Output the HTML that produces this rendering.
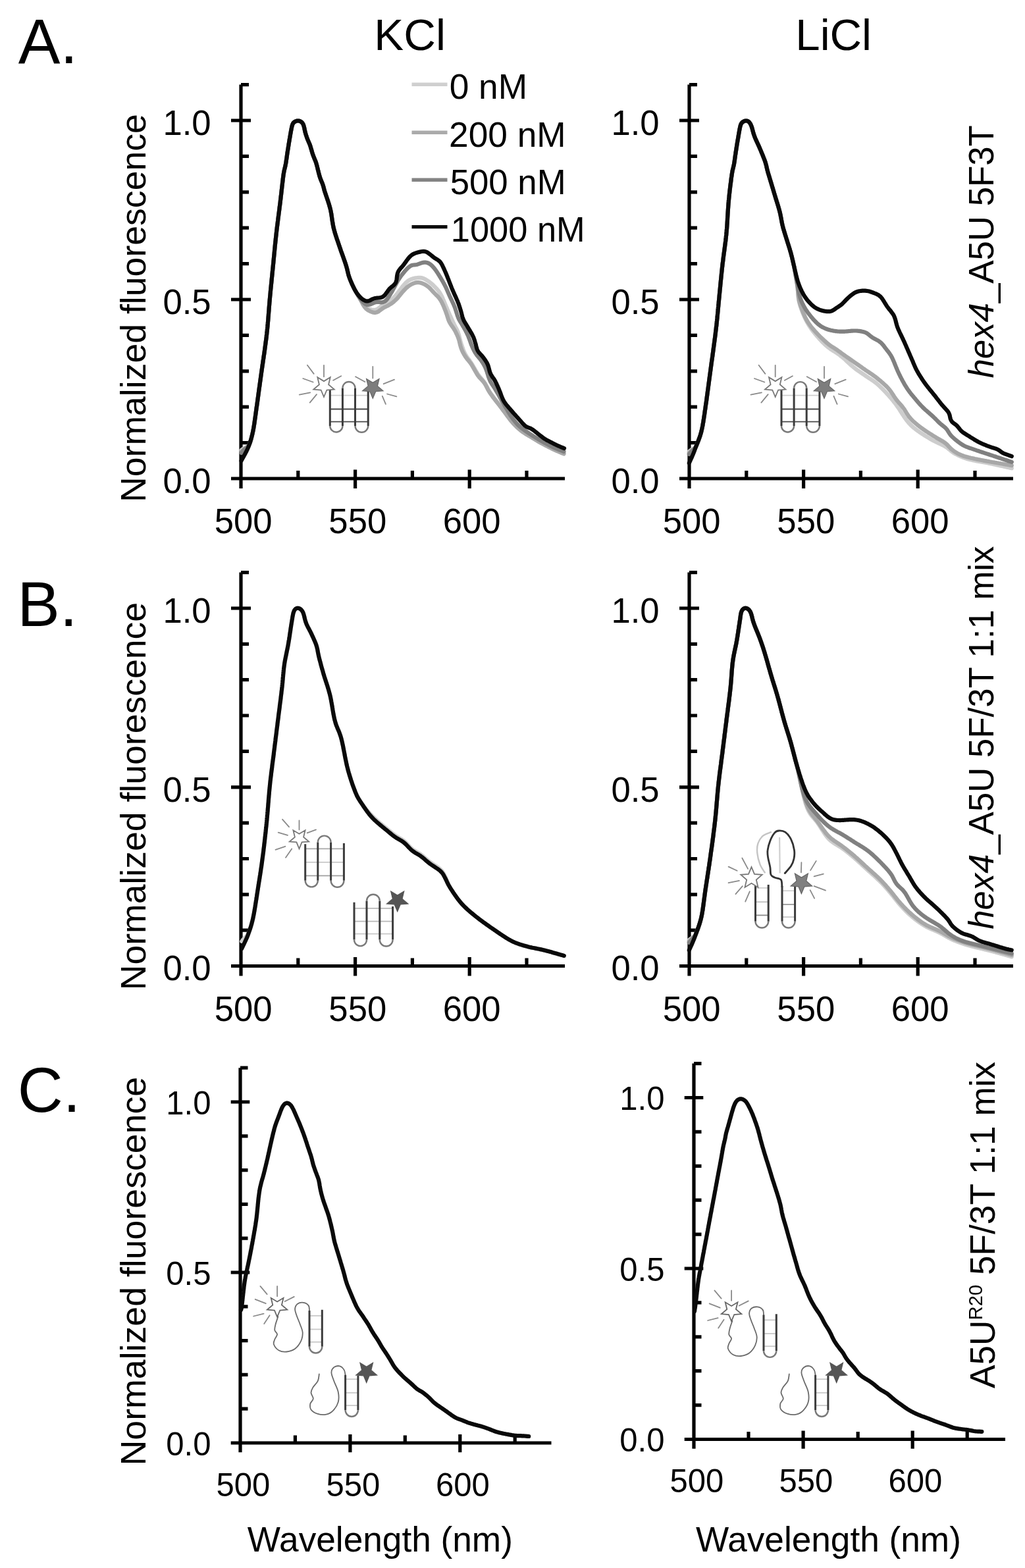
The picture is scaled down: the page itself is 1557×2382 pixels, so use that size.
<!DOCTYPE html>
<html><head><meta charset="utf-8"><title>Fluorescence spectra</title>
<style>html,body{margin:0;padding:0;background:#fff;}svg{display:block;}</style></head>
<body><svg xmlns="http://www.w3.org/2000/svg" width="1557" height="2382" viewBox="0 0 1557 2382" font-family="'Liberation Sans', Arial, Helvetica, sans-serif">
<rect width="100%" height="100%" fill="#fff"/>
<path d="M351.0 727.0 H858.0 M366.0 742.0 V128.6 M351.0 727.0 H381.0 M366.0 672.6 H378.0 M366.0 618.2 H378.0 M366.0 563.8 H378.0 M366.0 509.4 H378.0 M351.0 455.0 H381.0 M366.0 400.6 H378.0 M366.0 346.2 H378.0 M366.0 291.8 H378.0 M366.0 237.4 H378.0 M351.0 183.0 H381.0 M366.0 128.6 H378.0 M366.0 713.5 V742.0 M452.8 715.0 V727.0 M539.6 713.5 V742.0 M626.4 715.0 V727.0 M713.2 713.5 V742.0 M800.0 715.0 V727.0" stroke="#000" stroke-width="5.2" fill="none" stroke-linecap="butt"/>
<path d="M1032.0 727.0 H1539.0 M1047.0 742.0 V128.6 M1032.0 727.0 H1062.0 M1047.0 672.6 H1059.0 M1047.0 618.2 H1059.0 M1047.0 563.8 H1059.0 M1047.0 509.4 H1059.0 M1032.0 455.0 H1062.0 M1047.0 400.6 H1059.0 M1047.0 346.2 H1059.0 M1047.0 291.8 H1059.0 M1047.0 237.4 H1059.0 M1032.0 183.0 H1062.0 M1047.0 128.6 H1059.0 M1047.0 713.5 V742.0 M1133.8 715.0 V727.0 M1220.6 713.5 V742.0 M1307.4 715.0 V727.0 M1394.2 713.5 V742.0 M1481.0 715.0 V727.0" stroke="#000" stroke-width="5.2" fill="none" stroke-linecap="butt"/>
<path d="M351.0 1467.5 H858.0 M366.0 1482.5 V869.6 M351.0 1467.5 H381.0 M366.0 1413.2 H378.0 M366.0 1358.8 H378.0 M366.0 1304.5 H378.0 M366.0 1250.1 H378.0 M351.0 1195.8 H381.0 M366.0 1141.4 H378.0 M366.0 1087.0 H378.0 M366.0 1032.7 H378.0 M366.0 978.3 H378.0 M351.0 924.0 H381.0 M366.0 869.6 H378.0 M366.0 1454.0 V1482.5 M452.8 1455.5 V1467.5 M539.6 1454.0 V1482.5 M626.4 1455.5 V1467.5 M713.2 1454.0 V1482.5 M800.0 1455.5 V1467.5" stroke="#000" stroke-width="5.2" fill="none" stroke-linecap="butt"/>
<path d="M1032.0 1467.5 H1539.0 M1047.0 1482.5 V869.6 M1032.0 1467.5 H1062.0 M1047.0 1413.2 H1059.0 M1047.0 1358.8 H1059.0 M1047.0 1304.5 H1059.0 M1047.0 1250.1 H1059.0 M1032.0 1195.8 H1062.0 M1047.0 1141.4 H1059.0 M1047.0 1087.0 H1059.0 M1047.0 1032.7 H1059.0 M1047.0 978.3 H1059.0 M1032.0 924.0 H1062.0 M1047.0 869.6 H1059.0 M1047.0 1454.0 V1482.5 M1133.8 1455.5 V1467.5 M1220.6 1454.0 V1482.5 M1307.4 1455.5 V1467.5 M1394.2 1454.0 V1482.5 M1481.0 1455.5 V1467.5" stroke="#000" stroke-width="5.2" fill="none" stroke-linecap="butt"/>
<path d="M350.7 2192.0 H837.5 M365.0 2206.3 V1622.2 M350.7 2192.0 H379.3 M365.0 2140.2 H376.5 M365.0 2088.4 H376.5 M365.0 2036.6 H376.5 M365.0 1984.8 H376.5 M350.7 1933.0 H379.3 M365.0 1881.2 H376.5 M365.0 1829.4 H376.5 M365.0 1777.6 H376.5 M365.0 1725.8 H376.5 M350.7 1674.0 H379.3 M365.0 1622.2 H376.5 M365.0 2179.1 V2206.3 M448.4 2180.5 V2192.0 M531.9 2179.1 V2206.3 M615.3 2180.5 V2192.0 M698.8 2179.1 V2206.3 M782.2 2180.5 V2192.0" stroke="#000" stroke-width="5.2" fill="none" stroke-linecap="butt"/>
<path d="M1039.7 2186.5 H1527.0 M1054.0 2200.8 V1615.6 M1039.7 2186.5 H1068.3 M1054.0 2134.6 H1065.5 M1054.0 2082.7 H1065.5 M1054.0 2030.8 H1065.5 M1054.0 1978.9 H1065.5 M1039.7 1927.0 H1068.3 M1054.0 1875.1 H1065.5 M1054.0 1823.2 H1065.5 M1054.0 1771.3 H1065.5 M1054.0 1719.4 H1065.5 M1039.7 1667.5 H1068.3 M1054.0 1615.6 H1065.5 M1054.0 2173.6 V2200.8 M1137.0 2175.0 V2186.5 M1220.1 2173.6 V2200.8 M1303.2 2175.0 V2186.5 M1386.2 2173.6 V2200.8 M1469.2 2175.0 V2186.5" stroke="#000" stroke-width="5.2" fill="none" stroke-linecap="butt"/>
<text x="247.42" y="748.88" font-size="54.00" textLength="73.19" lengthAdjust="spacingAndGlyphs">0.0</text>
<text x="247.42" y="476.88" font-size="54.00" textLength="73.19" lengthAdjust="spacingAndGlyphs">0.5</text>
<text x="247.42" y="204.88" font-size="54.00" textLength="73.19" lengthAdjust="spacingAndGlyphs">1.0</text>
<text x="325.77" y="810.30" font-size="54.00" textLength="87.85" lengthAdjust="spacingAndGlyphs">500</text>
<text x="499.37" y="810.30" font-size="54.00" textLength="87.85" lengthAdjust="spacingAndGlyphs">550</text>
<text x="672.71" y="810.30" font-size="54.00" textLength="87.85" lengthAdjust="spacingAndGlyphs">600</text>
<text x="928.42" y="748.88" font-size="54.00" textLength="73.19" lengthAdjust="spacingAndGlyphs">0.0</text>
<text x="928.42" y="476.88" font-size="54.00" textLength="73.19" lengthAdjust="spacingAndGlyphs">0.5</text>
<text x="928.42" y="204.88" font-size="54.00" textLength="73.19" lengthAdjust="spacingAndGlyphs">1.0</text>
<text x="1006.77" y="810.30" font-size="54.00" textLength="87.85" lengthAdjust="spacingAndGlyphs">500</text>
<text x="1180.37" y="810.30" font-size="54.00" textLength="87.85" lengthAdjust="spacingAndGlyphs">550</text>
<text x="1353.71" y="810.30" font-size="54.00" textLength="87.85" lengthAdjust="spacingAndGlyphs">600</text>
<text x="247.42" y="1489.38" font-size="54.00" textLength="73.19" lengthAdjust="spacingAndGlyphs">0.0</text>
<text x="247.42" y="1217.63" font-size="54.00" textLength="73.19" lengthAdjust="spacingAndGlyphs">0.5</text>
<text x="247.42" y="945.88" font-size="54.00" textLength="73.19" lengthAdjust="spacingAndGlyphs">1.0</text>
<text x="325.77" y="1550.80" font-size="54.00" textLength="87.85" lengthAdjust="spacingAndGlyphs">500</text>
<text x="499.37" y="1550.80" font-size="54.00" textLength="87.85" lengthAdjust="spacingAndGlyphs">550</text>
<text x="672.71" y="1550.80" font-size="54.00" textLength="87.85" lengthAdjust="spacingAndGlyphs">600</text>
<text x="928.42" y="1489.38" font-size="54.00" textLength="73.19" lengthAdjust="spacingAndGlyphs">0.0</text>
<text x="928.42" y="1217.63" font-size="54.00" textLength="73.19" lengthAdjust="spacingAndGlyphs">0.5</text>
<text x="928.42" y="945.88" font-size="54.00" textLength="73.19" lengthAdjust="spacingAndGlyphs">1.0</text>
<text x="1006.77" y="1550.80" font-size="54.00" textLength="87.85" lengthAdjust="spacingAndGlyphs">500</text>
<text x="1180.37" y="1550.80" font-size="54.00" textLength="87.85" lengthAdjust="spacingAndGlyphs">550</text>
<text x="1353.71" y="1550.80" font-size="54.00" textLength="87.85" lengthAdjust="spacingAndGlyphs">600</text>
<text x="252.34" y="2210.53" font-size="49.50" textLength="68.12" lengthAdjust="spacingAndGlyphs">0.0</text>
<text x="252.34" y="1951.53" font-size="49.50" textLength="68.12" lengthAdjust="spacingAndGlyphs">0.5</text>
<text x="252.34" y="1692.53" font-size="49.50" textLength="68.12" lengthAdjust="spacingAndGlyphs">1.0</text>
<text x="328.50" y="2272.50" font-size="49.50" textLength="81.77" lengthAdjust="spacingAndGlyphs">500</text>
<text x="495.38" y="2272.50" font-size="49.50" textLength="81.77" lengthAdjust="spacingAndGlyphs">550</text>
<text x="662.01" y="2272.50" font-size="49.50" textLength="81.77" lengthAdjust="spacingAndGlyphs">600</text>
<text x="941.34" y="2205.03" font-size="49.50" textLength="68.12" lengthAdjust="spacingAndGlyphs">0.0</text>
<text x="941.34" y="1945.53" font-size="49.50" textLength="68.12" lengthAdjust="spacingAndGlyphs">0.5</text>
<text x="941.34" y="1686.03" font-size="49.50" textLength="68.12" lengthAdjust="spacingAndGlyphs">1.0</text>
<text x="1017.50" y="2267.00" font-size="49.50" textLength="81.77" lengthAdjust="spacingAndGlyphs">500</text>
<text x="1183.60" y="2267.00" font-size="49.50" textLength="81.77" lengthAdjust="spacingAndGlyphs">550</text>
<text x="1349.46" y="2267.00" font-size="49.50" textLength="81.77" lengthAdjust="spacingAndGlyphs">600</text>
<path d="M366.5 684.0 L367.7 683.1 L368.9 682.2 L370.2 681.4 L371.4 680.7 L372.8 680.0 L374.1 679.5 L375.4 678.9 L376.6 678.1 L377.5 677.1 L378.3 675.9 L379.0 674.6 L379.6 673.3 L380.1 671.8 L380.5 670.4 L381.0 669.0 L381.4 667.5 L381.8 666.1 L382.1 664.6 L382.5 663.2 L382.9 661.7 L383.2 660.2 L383.5 658.8 L383.8 657.3 L384.2 655.8 L384.4 654.4 L384.7 652.9 L385.0 651.4 L385.3 649.9 L385.5 648.5 L385.8 647.0 L386.0 645.5 L386.2 644.0 L386.5 642.5 L386.7 641.0 L386.9 639.5 L387.1 638.1 L387.3 636.6 L387.5 635.1 L387.7 633.6 L387.9 632.1 L388.1 630.6 L388.3 629.1 L388.5 627.6 L388.8 626.2 L389.0 624.7 L389.2 623.2 L389.4 621.7 L389.6 620.2 L389.8 618.7 L390.0 617.2 L390.2 615.7 L390.4 614.3 L390.6 612.8 L390.8 611.3 L391.1 609.8 L391.3 608.3 L391.5 606.8 L391.7 605.3 L391.9 603.8 L392.1 602.4 L392.3 600.9 L392.5 599.4 L392.7 597.9 L392.9 596.4 L393.1 594.9 L393.3 593.4 L393.5 591.9 L393.7 590.4 L393.9 589.0 L394.1 587.5 L394.3 586.0 L394.5 584.5 L394.7 583.0 L394.9 581.5 L395.1 580.0 L395.3 578.5 L395.5 577.1 L395.7 575.6 L396.0 574.1 L396.2 572.6 L396.4 571.1 L396.6 569.6 L396.8 568.1 L397.0 566.6 L397.2 565.1 L397.4 563.7 L397.6 562.2 L397.8 560.7 L398.1 559.2 L398.3 557.7 L398.5 556.2 L398.7 554.7 L398.9 553.3 L399.1 551.8 L399.4 550.3 L399.6 548.8 L399.8 547.3 L400.0 545.8 L400.2 544.3 L400.5 542.9 L400.7 541.4 L400.9 539.9 L401.1 538.4 L401.3 536.9 L401.5 535.4 L401.8 533.9 L402.0 532.4 L402.2 531.0 L402.4 529.5 L402.6 528.0 L402.8 526.5 L403.0 525.0 L403.2 523.5 L403.4 522.0 L403.6 520.5 L403.8 519.0 L404.0 517.6 L404.2 516.1 L404.4 514.6 L404.5 513.1 L404.7 511.6 L404.9 510.1 L405.1 508.6 L405.2 507.1 L405.4 505.6 L405.6 504.1 L405.7 502.6 L405.9 501.1 L406.0 499.6 L406.2 498.2 L406.3 496.7 L406.5 495.2 L406.6 493.7 L406.7 492.2 L406.9 490.7 L407.0 489.2 L407.1 487.7 L407.3 486.2 L407.4 484.7 L407.5 483.2 L407.6 481.7 L407.7 480.2 L407.9 478.7 L408.0 477.2 L408.1 475.7 L408.2 474.2 L408.3 472.7 L408.4 471.2 L408.6 469.7 L408.7 468.2 L408.8 466.7 L408.9 465.2 L409.0 463.7 L409.2 462.2 L409.3 460.7 L409.4 459.2 L409.5 457.7 L409.7 456.2 L409.8 454.7 L409.9 453.2 L410.1 451.7 L410.2 450.3 L410.3 448.8 L410.5 447.3 L410.6 445.8 L410.8 444.3 L410.9 442.8 L411.1 441.3 L411.2 439.8 L411.3 438.3 L411.5 436.8 L411.6 435.3 L411.8 433.8 L411.9 432.3 L412.1 430.8 L412.2 429.3 L412.4 427.8 L412.5 426.3 L412.7 424.8 L412.8 423.3 L413.0 421.8 L413.1 420.4 L413.3 418.9 L413.4 417.4 L413.6 415.9 L413.7 414.4 L413.9 412.9 L414.0 411.4 L414.2 409.9 L414.3 408.4 L414.5 406.9 L414.6 405.4 L414.8 403.9 L414.9 402.4 L415.1 400.9 L415.2 399.4 L415.4 397.9 L415.5 396.4 L415.7 394.9 L415.8 393.4 L415.9 391.9 L416.1 390.5 L416.2 389.0 L416.4 387.5 L416.5 386.0 L416.7 384.5 L416.8 383.0 L417.0 381.5 L417.1 380.0 L417.3 378.5 L417.4 377.0 L417.5 375.5 L417.7 374.0 L417.8 372.5 L418.0 371.0 L418.2 369.5 L418.3 368.0 L418.5 366.5 L418.6 365.0 L418.8 363.5 L418.9 362.1 L419.1 360.6 L419.3 359.1 L419.4 357.6 L419.6 356.1 L419.8 354.6 L419.9 353.1 L420.1 351.6 L420.3 350.1 L420.4 348.6 L420.6 347.1 L420.8 345.6 L421.0 344.1 L421.2 342.7 L421.4 341.2 L421.5 339.7 L421.7 338.2 L421.9 336.7 L422.1 335.2 L422.3 333.7 L422.5 332.2 L422.7 330.7 L422.9 329.2 L423.1 327.8 L423.3 326.3 L423.4 324.8 L423.6 323.3 L423.8 321.8 L424.0 320.3 L424.2 318.8 L424.4 317.3 L424.6 315.8 L424.8 314.3 L425.0 312.9 L425.2 311.4 L425.3 309.9 L425.5 308.4 L425.7 306.9 L425.9 305.4 L426.1 303.9 L426.3 302.4 L426.4 300.9 L426.6 299.4 L426.8 297.9 L426.9 296.4 L427.1 295.0 L427.3 293.5 L427.5 292.0 L427.6 290.5 L427.8 289.0 L428.0 287.5 L428.1 286.0 L428.3 284.5 L428.5 283.0 L428.6 281.5 L428.8 280.0 L429.0 278.5 L429.2 277.0 L429.3 275.6 L429.5 274.1 L429.7 272.6 L429.9 271.1 L430.1 269.6 L430.3 268.1 L430.5 266.6 L430.7 265.1 L430.9 263.6 L431.1 262.2 L431.4 260.7 L431.7 259.2 L432.0 257.7 L432.4 256.3 L432.8 254.8 L433.1 253.4 L433.5 251.9 L433.8 250.4 L434.0 249.0 L434.3 247.5 L434.5 246.0 L434.8 244.5 L435.0 243.0 L435.2 241.5 L435.4 240.1 L435.6 238.6 L435.8 237.1 L436.0 235.6 L436.2 234.1 L436.5 232.6 L436.7 231.1 L436.9 229.6 L437.2 228.2 L437.4 226.7 L437.6 225.2 L437.9 223.7 L438.1 222.2 L438.3 220.7 L438.6 219.3 L438.8 217.8 L439.1 216.3 L439.3 214.8 L439.5 213.3 L439.8 211.9 L440.0 210.4 L440.3 208.9 L440.5 207.4 L440.8 205.9 L441.1 204.4 L441.3 203.0 L441.6 201.5 L441.8 200.0 L442.1 198.5 L442.4 197.1 L442.7 195.6 L443.0 194.1 L443.3 192.6 L443.6 191.2 L444.1 189.8 L444.6 188.4 L445.4 187.2 L446.3 186.1 L447.4 185.2 L448.7 184.4 L450.0 183.9 L451.4 183.6 L452.9 183.5 L454.3 183.7 L455.7 184.1 L457.0 184.7 L458.1 185.5 L459.1 186.6 L460.0 187.7 L460.6 189.0 L461.2 190.4 L461.6 191.9 L462.0 193.3 L462.3 194.8 L462.6 196.2 L462.9 197.7 L463.2 199.2 L463.6 200.6 L464.0 202.1 L464.4 203.5 L464.9 205.0 L465.3 206.4 L465.8 207.8 L466.3 209.2 L466.8 210.6 L467.3 212.0 L467.9 213.4 L468.5 214.8 L469.1 216.2 L469.7 217.5 L470.3 218.9 L470.8 220.3 L471.3 221.7 L471.8 223.2 L472.2 224.6 L472.6 226.1 L473.0 227.5 L473.4 228.9 L473.9 230.4 L474.3 231.8 L474.7 233.3 L475.2 234.7 L475.7 236.1 L476.2 237.5 L476.8 238.9 L477.4 240.3 L478.0 241.7 L478.5 243.1 L479.1 244.5 L479.6 245.9 L480.1 247.3 L480.6 248.7 L481.0 250.1 L481.4 251.6 L481.7 253.1 L482.1 254.5 L482.5 256.0 L482.8 257.4 L483.2 258.9 L483.5 260.3 L483.9 261.8 L484.3 263.3 L484.7 264.7 L485.1 266.2 L485.5 267.6 L485.9 269.0 L486.4 270.5 L486.9 271.9 L487.4 273.3 L488.0 274.7 L488.6 276.0 L489.2 277.4 L489.7 278.8 L490.3 280.2 L490.8 281.6 L491.2 283.1 L491.6 284.5 L491.9 286.0 L492.3 287.4 L492.7 288.9 L493.1 290.3 L493.6 291.8 L494.0 293.2 L494.5 294.6 L495.0 296.0 L495.5 297.5 L496.0 298.9 L496.5 300.3 L496.9 301.7 L497.4 303.1 L497.9 304.6 L498.4 306.0 L498.8 307.4 L499.3 308.8 L499.7 310.3 L500.2 311.7 L500.6 313.2 L501.0 314.6 L501.4 316.1 L501.8 317.5 L502.1 319.0 L502.4 320.4 L502.7 321.9 L503.0 323.4 L503.2 324.9 L503.5 326.4 L503.7 327.8 L503.9 329.3 L504.1 330.8 L504.3 332.3 L504.6 333.8 L504.8 335.3 L505.0 336.8 L505.2 338.2 L505.5 339.7 L505.7 341.2 L506.0 342.7 L506.3 344.1 L506.6 345.6 L507.0 347.1 L507.3 348.5 L507.7 350.0 L508.1 351.4 L508.5 352.9 L509.0 354.3 L509.4 355.8 L509.9 357.2 L510.3 358.6 L510.8 360.0 L511.3 361.5 L511.7 362.9 L512.2 364.3 L512.7 365.7 L513.2 367.2 L513.7 368.6 L514.2 370.0 L514.7 371.4 L515.1 372.8 L515.6 374.3 L516.1 375.7 L516.6 377.1 L517.1 378.5 L517.6 379.9 L518.1 381.4 L518.6 382.8 L519.1 384.2 L519.6 385.6 L520.1 387.0 L520.6 388.4 L521.1 389.9 L521.6 391.3 L522.1 392.7 L522.6 394.1 L523.1 395.5 L523.6 396.9 L524.1 398.4 L524.6 399.8 L525.0 401.2 L525.5 402.6 L525.9 404.1 L526.4 405.5 L526.8 407.0 L527.1 408.4 L527.5 409.9 L527.8 411.3 L528.2 412.8 L528.5 414.3 L528.9 415.7 L529.3 417.2 L529.7 418.6 L530.1 420.0 L530.6 421.5 L531.1 422.9 L531.7 424.3 L532.3 425.7 L532.8 427.0 L533.5 428.4 L534.1 429.8 L534.7 431.2 L535.3 432.5 L536.0 433.9 L536.6 435.2 L537.3 436.6 L538.0 437.9 L538.6 439.3 L539.3 440.6 L540.0 441.9 L540.7 443.3 L541.4 444.6 L542.2 445.9 L542.9 447.2 L543.7 448.5 L544.5 449.7 L545.3 451.0 L546.2 452.2 L547.0 453.5 L547.8 454.8 L548.6 456.0 L549.3 457.3 L550.0 458.7 L550.8 460.0 L551.5 461.3 L552.3 462.5 L553.2 463.8 L554.1 464.9 L555.1 466.0 L556.3 466.9 L557.5 467.8 L558.8 468.5 L560.2 469.1 L561.5 469.7 L563.0 470.1 L564.4 470.5 L565.9 470.7 L567.4 470.9 L568.8 470.9 L570.3 470.7 L571.7 470.3 L573.0 469.7 L574.3 468.9 L575.5 468.0 L576.6 467.1 L577.8 466.1 L578.9 465.1 L580.1 464.2 L581.3 463.3 L582.5 462.5 L583.8 461.8 L585.2 461.1 L586.5 460.5 L587.9 459.9 L589.2 459.2 L590.5 458.5 L591.8 457.7 L593.0 456.8 L594.2 455.8 L595.3 454.8 L596.4 453.8 L597.4 452.7 L598.5 451.7 L599.5 450.6 L600.5 449.4 L601.5 448.3 L602.4 447.2 L603.4 446.0 L604.3 444.8 L605.2 443.6 L606.1 442.4 L607.0 441.2 L607.9 440.0 L608.8 438.8 L609.7 437.6 L610.6 436.4 L611.5 435.2 L612.5 434.1 L613.5 432.9 L614.5 431.8 L615.5 430.7 L616.5 429.6 L617.6 428.6 L618.8 427.6 L619.9 426.7 L621.2 425.9 L622.5 425.1 L623.8 424.5 L625.2 423.9 L626.6 423.5 L628.1 423.1 L629.5 422.7 L631.0 422.4 L632.5 422.2 L634.0 422.0 L635.5 421.9 L636.9 421.8 L638.4 421.9 L639.9 422.1 L641.4 422.4 L642.8 422.8 L644.1 423.4 L645.5 424.1 L646.8 424.8 L648.1 425.6 L649.3 426.4 L650.6 427.2 L651.8 428.1 L653.0 429.0 L654.2 429.9 L655.4 430.9 L656.5 431.9 L657.6 432.9 L658.7 433.9 L659.7 435.0 L660.8 436.0 L661.8 437.1 L662.9 438.2 L663.9 439.3 L664.8 440.5 L665.8 441.6 L666.7 442.8 L667.6 444.1 L668.4 445.3 L669.2 446.6 L669.9 447.9 L670.6 449.2 L671.3 450.6 L671.9 451.9 L672.5 453.3 L673.1 454.7 L673.7 456.0 L674.3 457.4 L674.9 458.8 L675.4 460.2 L676.0 461.6 L676.6 463.0 L677.2 464.4 L677.8 465.8 L678.4 467.1 L679.0 468.5 L679.5 469.9 L680.1 471.3 L680.7 472.7 L681.3 474.0 L681.9 475.4 L682.5 476.8 L683.1 478.2 L683.7 479.5 L684.4 480.9 L685.0 482.3 L685.6 483.6 L686.2 485.0 L686.8 486.4 L687.5 487.7 L688.1 489.1 L688.7 490.5 L689.4 491.8 L690.0 493.2 L690.7 494.5 L691.4 495.8 L692.1 497.2 L692.8 498.5 L693.5 499.8 L694.2 501.2 L694.8 502.5 L695.4 503.9 L695.9 505.3 L696.3 506.8 L696.8 508.2 L697.2 509.6 L697.5 511.1 L697.9 512.6 L698.3 514.0 L698.7 515.5 L699.1 516.9 L699.4 518.4 L699.9 519.8 L700.3 521.2 L700.7 522.7 L701.2 524.1 L701.7 525.5 L702.2 527.0 L702.7 528.4 L703.2 529.8 L703.7 531.2 L704.2 532.6 L704.8 534.0 L705.4 535.4 L706.0 536.7 L706.7 538.0 L707.5 539.4 L708.2 540.6 L709.1 541.9 L709.9 543.1 L710.8 544.3 L711.7 545.5 L712.6 546.7 L713.5 547.9 L714.4 549.2 L715.2 550.4 L716.0 551.7 L716.8 553.0 L717.6 554.2 L718.4 555.5 L719.1 556.8 L719.9 558.1 L720.6 559.4 L721.4 560.7 L722.1 562.0 L722.9 563.3 L723.6 564.6 L724.4 565.9 L725.2 567.2 L726.0 568.5 L726.9 569.7 L727.8 570.9 L728.7 572.0 L729.7 573.2 L730.6 574.3 L731.6 575.5 L732.6 576.6 L733.5 577.8 L734.5 579.0 L735.3 580.2 L736.2 581.4 L737.0 582.7 L737.7 584.0 L738.4 585.3 L739.1 586.7 L739.8 588.0 L740.5 589.3 L741.2 590.7 L741.9 592.0 L742.7 593.3 L743.4 594.6 L744.3 595.8 L745.1 597.1 L746.0 598.3 L746.8 599.5 L747.7 600.7 L748.6 601.9 L749.5 603.1 L750.4 604.3 L751.3 605.5 L752.2 606.7 L753.2 607.9 L754.1 609.1 L755.0 610.3 L756.0 611.4 L756.9 612.6 L757.8 613.8 L758.7 615.0 L759.6 616.2 L760.6 617.4 L761.5 618.6 L762.4 619.8 L763.3 621.0 L764.1 622.2 L765.0 623.4 L766.0 624.6 L766.9 625.8 L767.8 627.0 L768.7 628.2 L769.5 629.4 L770.4 630.6 L771.3 631.8 L772.2 633.1 L773.1 634.3 L774.0 635.5 L774.9 636.6 L775.9 637.8 L776.8 638.9 L777.8 640.1 L778.8 641.2 L779.8 642.3 L780.8 643.4 L781.9 644.5 L782.9 645.6 L784.0 646.7 L785.0 647.7 L786.1 648.8 L787.2 649.8 L788.4 650.8 L789.5 651.7 L790.7 652.7 L791.9 653.6 L793.1 654.5 L794.3 655.4 L795.5 656.2 L796.8 657.1 L798.0 657.9 L799.3 658.7 L800.6 659.4 L801.9 660.2 L803.2 660.9 L804.5 661.7 L805.8 662.4 L807.1 663.2 L808.4 664.0 L809.7 664.8 L810.9 665.6 L812.2 666.4 L813.5 667.2 L814.8 667.9 L816.1 668.7 L817.4 669.5 L818.7 670.2 L820.0 671.0 L821.3 671.7 L822.6 672.4 L823.9 673.1 L825.2 673.8 L826.6 674.5 L827.9 675.2 L829.2 675.9 L830.6 676.6 L831.9 677.3 L833.2 678.0 L834.6 678.7 L835.9 679.3 L837.3 680.0 L838.6 680.7 L840.0 681.3 L841.3 682.0 L842.7 682.6 L844.1 683.2 L845.4 683.8 L846.8 684.4 L848.2 685.0 L849.6 685.6 L851.0 686.2 L852.3 686.8 L853.7 687.3 L855.1 687.9 L856.5 688.5" stroke="#cdcdcd" stroke-width="6.2" fill="none" stroke-linejoin="round" stroke-linecap="round"/>
<path d="M366.5 686.0 L367.6 685.0 L368.7 684.0 L369.8 683.0 L371.0 682.0 L372.2 681.2 L373.5 680.5 L374.7 679.7 L375.9 678.9 L377.0 678.0 L377.9 676.8 L378.6 675.5 L379.2 674.2 L379.7 672.8 L380.2 671.4 L380.7 669.9 L381.1 668.5 L381.5 667.1 L381.9 665.6 L382.3 664.1 L382.6 662.7 L383.0 661.2 L383.3 659.8 L383.6 658.3 L383.9 656.8 L384.3 655.3 L384.5 653.9 L384.8 652.4 L385.1 650.9 L385.4 649.4 L385.6 648.0 L385.9 646.5 L386.1 645.0 L386.3 643.5 L386.5 642.0 L386.8 640.5 L387.0 639.0 L387.2 637.5 L387.4 636.1 L387.6 634.6 L387.8 633.1 L388.0 631.6 L388.2 630.1 L388.4 628.6 L388.6 627.1 L388.8 625.6 L389.0 624.1 L389.2 622.7 L389.5 621.2 L389.7 619.7 L389.9 618.2 L390.1 616.7 L390.3 615.2 L390.5 613.7 L390.7 612.2 L390.9 610.8 L391.1 609.3 L391.3 607.8 L391.5 606.3 L391.7 604.8 L391.9 603.3 L392.1 601.8 L392.4 600.3 L392.6 598.8 L392.8 597.3 L393.0 595.9 L393.2 594.4 L393.4 592.9 L393.6 591.4 L393.8 589.9 L394.0 588.4 L394.2 586.9 L394.4 585.4 L394.6 583.9 L394.8 582.5 L395.0 581.0 L395.2 579.5 L395.4 578.0 L395.6 576.5 L395.8 575.0 L396.0 573.5 L396.2 572.0 L396.4 570.5 L396.7 569.1 L396.9 567.6 L397.1 566.1 L397.3 564.6 L397.5 563.1 L397.7 561.6 L397.9 560.1 L398.1 558.6 L398.4 557.1 L398.6 555.7 L398.8 554.2 L399.0 552.7 L399.2 551.2 L399.4 549.7 L399.7 548.2 L399.9 546.7 L400.1 545.2 L400.3 543.8 L400.5 542.3 L400.8 540.8 L401.0 539.3 L401.2 537.8 L401.4 536.3 L401.6 534.8 L401.8 533.3 L402.0 531.9 L402.3 530.4 L402.5 528.9 L402.7 527.4 L402.9 525.9 L403.1 524.4 L403.3 522.9 L403.5 521.4 L403.7 519.9 L403.9 518.5 L404.1 517.0 L404.3 515.5 L404.4 514.0 L404.6 512.5 L404.8 511.0 L405.0 509.5 L405.1 508.0 L405.3 506.5 L405.5 505.0 L405.6 503.5 L405.8 502.0 L405.9 500.5 L406.1 499.0 L406.2 497.5 L406.4 496.0 L406.5 494.5 L406.7 493.1 L406.8 491.6 L406.9 490.1 L407.1 488.6 L407.2 487.1 L407.3 485.6 L407.4 484.1 L407.5 482.6 L407.7 481.1 L407.8 479.6 L407.9 478.1 L408.0 476.6 L408.1 475.1 L408.3 473.6 L408.4 472.1 L408.5 470.6 L408.6 469.1 L408.7 467.6 L408.8 466.1 L409.0 464.6 L409.1 463.1 L409.2 461.6 L409.3 460.1 L409.5 458.6 L409.6 457.1 L409.7 455.6 L409.9 454.1 L410.0 452.6 L410.1 451.1 L410.3 449.6 L410.4 448.1 L410.5 446.6 L410.7 445.1 L410.8 443.6 L411.0 442.1 L411.1 440.6 L411.3 439.1 L411.4 437.6 L411.6 436.1 L411.7 434.6 L411.8 433.1 L412.0 431.7 L412.1 430.2 L412.3 428.7 L412.4 427.2 L412.6 425.7 L412.7 424.2 L412.9 422.7 L413.0 421.2 L413.2 419.7 L413.3 418.2 L413.5 416.7 L413.6 415.2 L413.8 413.7 L413.9 412.2 L414.1 410.7 L414.2 409.2 L414.4 407.7 L414.5 406.2 L414.7 404.7 L414.8 403.2 L415.0 401.7 L415.1 400.2 L415.3 398.7 L415.4 397.2 L415.6 395.8 L415.7 394.3 L415.9 392.8 L416.0 391.3 L416.2 389.8 L416.3 388.3 L416.4 386.8 L416.6 385.3 L416.7 383.8 L416.9 382.3 L417.0 380.8 L417.2 379.3 L417.3 377.8 L417.5 376.3 L417.6 374.8 L417.8 373.3 L417.9 371.8 L418.1 370.3 L418.2 368.8 L418.4 367.3 L418.5 365.8 L418.7 364.3 L418.8 362.8 L419.0 361.3 L419.2 359.9 L419.3 358.4 L419.5 356.9 L419.7 355.4 L419.8 353.9 L420.0 352.4 L420.2 350.9 L420.4 349.4 L420.5 347.9 L420.7 346.4 L420.9 344.9 L421.1 343.4 L421.3 341.9 L421.4 340.4 L421.6 338.9 L421.8 337.5 L422.0 336.0 L422.2 334.5 L422.4 333.0 L422.6 331.5 L422.8 330.0 L423.0 328.5 L423.2 327.0 L423.3 325.5 L423.5 324.0 L423.7 322.5 L423.9 321.1 L424.1 319.6 L424.3 318.1 L424.5 316.6 L424.7 315.1 L424.9 313.6 L425.1 312.1 L425.3 310.6 L425.4 309.1 L425.6 307.6 L425.8 306.1 L426.0 304.6 L426.2 303.2 L426.3 301.7 L426.5 300.2 L426.7 298.7 L426.9 297.2 L427.0 295.7 L427.2 294.2 L427.4 292.7 L427.5 291.2 L427.7 289.7 L427.9 288.2 L428.1 286.7 L428.2 285.2 L428.4 283.7 L428.6 282.2 L428.7 280.8 L428.9 279.3 L429.1 277.8 L429.3 276.3 L429.4 274.8 L429.6 273.3 L429.8 271.8 L430.0 270.3 L430.2 268.8 L430.4 267.3 L430.6 265.8 L430.8 264.3 L431.0 262.9 L431.3 261.4 L431.6 259.9 L431.9 258.4 L432.2 257.0 L432.6 255.5 L432.9 254.1 L433.3 252.6 L433.6 251.1 L433.9 249.7 L434.2 248.2 L434.4 246.7 L434.7 245.2 L434.9 243.7 L435.1 242.2 L435.3 240.8 L435.5 239.3 L435.7 237.8 L435.9 236.3 L436.1 234.8 L436.4 233.3 L436.6 231.8 L436.8 230.3 L437.0 228.9 L437.3 227.4 L437.5 225.9 L437.7 224.4 L438.0 222.9 L438.2 221.4 L438.5 219.9 L438.7 218.5 L438.9 217.0 L439.2 215.5 L439.4 214.0 L439.7 212.5 L439.9 211.0 L440.2 209.6 L440.4 208.1 L440.7 206.6 L440.9 205.1 L441.2 203.6 L441.5 202.2 L441.7 200.7 L442.0 199.2 L442.3 197.7 L442.5 196.2 L442.8 194.8 L443.1 193.3 L443.5 191.8 L443.9 190.4 L444.4 189.0 L445.0 187.7 L445.9 186.5 L446.9 185.6 L448.1 184.7 L449.4 184.1 L450.8 183.7 L452.2 183.5 L453.7 183.6 L455.1 183.9 L456.4 184.4 L457.6 185.2 L458.7 186.1 L459.6 187.2 L460.4 188.5 L460.9 189.8 L461.4 191.2 L461.8 192.7 L462.2 194.1 L462.5 195.6 L462.8 197.1 L463.1 198.5 L463.4 200.0 L463.8 201.5 L464.2 202.9 L464.7 204.3 L465.1 205.8 L465.6 207.2 L466.1 208.6 L466.6 210.0 L467.1 211.5 L467.7 212.8 L468.3 214.2 L468.9 215.6 L469.5 217.0 L470.1 218.3 L470.6 219.7 L471.1 221.2 L471.6 222.6 L472.0 224.0 L472.4 225.5 L472.9 226.9 L473.3 228.4 L473.7 229.8 L474.1 231.2 L474.6 232.7 L475.0 234.1 L475.5 235.5 L476.0 236.9 L476.6 238.3 L477.1 239.7 L477.7 241.1 L478.3 242.5 L478.9 243.9 L479.4 245.3 L479.9 246.7 L480.4 248.1 L480.8 249.6 L481.2 251.0 L481.6 252.5 L482.0 253.9 L482.3 255.4 L482.7 256.8 L483.0 258.3 L483.4 259.8 L483.8 261.2 L484.1 262.7 L484.5 264.1 L484.9 265.6 L485.3 267.0 L485.7 268.5 L486.2 269.9 L486.7 271.3 L487.2 272.7 L487.8 274.1 L488.4 275.5 L488.9 276.9 L489.5 278.3 L490.1 279.7 L490.6 281.1 L491.0 282.5 L491.4 284.0 L491.8 285.4 L492.1 286.9 L492.5 288.3 L492.9 289.8 L493.4 291.2 L493.8 292.6 L494.3 294.1 L494.8 295.5 L495.3 296.9 L495.8 298.3 L496.3 299.8 L496.8 301.2 L497.2 302.6 L497.7 304.0 L498.2 305.4 L498.7 306.9 L499.1 308.3 L499.6 309.7 L500.0 311.2 L500.4 312.6 L500.9 314.1 L501.3 315.5 L501.6 317.0 L502.0 318.4 L502.3 319.9 L502.6 321.4 L502.9 322.8 L503.1 324.3 L503.4 325.8 L503.6 327.3 L503.8 328.8 L504.1 330.3 L504.3 331.8 L504.5 333.2 L504.7 334.7 L504.9 336.2 L505.1 337.7 L505.4 339.2 L505.6 340.7 L505.9 342.2 L506.2 343.6 L506.5 345.1 L506.9 346.6 L507.2 348.0 L507.6 349.5 L508.0 350.9 L508.4 352.4 L508.8 353.8 L509.3 355.2 L509.7 356.7 L510.2 358.1 L510.6 359.5 L511.1 361.0 L511.6 362.4 L512.1 363.8 L512.5 365.2 L513.0 366.7 L513.5 368.1 L514.0 369.5 L514.5 370.9 L515.0 372.4 L515.5 373.8 L515.9 375.2 L516.4 376.6 L516.9 378.0 L517.4 379.5 L517.9 380.9 L518.4 382.3 L518.9 383.7 L519.4 385.1 L519.9 386.6 L520.4 388.0 L520.9 389.4 L521.4 390.8 L521.9 392.2 L522.4 393.6 L522.9 395.1 L523.4 396.5 L523.9 397.9 L524.4 399.3 L524.9 400.7 L525.3 402.2 L525.8 403.6 L526.2 405.0 L526.6 406.5 L527.0 407.9 L527.4 409.4 L527.7 410.9 L528.1 412.3 L528.4 413.8 L528.8 415.3 L529.2 416.7 L529.6 418.2 L530.0 419.6 L530.5 421.0 L531.0 422.4 L531.5 423.8 L532.1 425.2 L532.7 426.6 L533.3 428.0 L533.9 429.4 L534.5 430.7 L535.2 432.1 L535.8 433.4 L536.5 434.8 L537.1 436.1 L537.8 437.5 L538.4 438.8 L539.1 440.2 L539.8 441.5 L540.5 442.9 L541.2 444.2 L541.9 445.5 L542.6 446.8 L543.3 448.2 L544.1 449.5 L544.8 450.8 L545.6 452.0 L546.4 453.3 L547.1 454.6 L547.9 455.9 L548.6 457.2 L549.3 458.6 L550.0 459.9 L550.7 461.2 L551.4 462.6 L552.2 463.9 L553.0 465.1 L553.8 466.3 L554.8 467.5 L555.8 468.6 L556.9 469.6 L558.1 470.5 L559.4 471.3 L560.6 472.1 L562.0 472.8 L563.3 473.4 L564.7 473.9 L566.1 474.4 L567.6 474.7 L569.0 474.9 L570.5 474.8 L571.9 474.5 L573.3 474.0 L574.6 473.4 L575.8 472.5 L577.0 471.6 L578.2 470.7 L579.4 469.8 L580.6 468.9 L581.8 468.1 L583.1 467.3 L584.5 466.6 L585.8 466.0 L587.2 465.3 L588.5 464.7 L589.8 464.0 L591.1 463.2 L592.4 462.4 L593.7 461.6 L594.9 460.8 L596.1 459.9 L597.3 459.0 L598.5 458.0 L599.6 457.0 L600.7 456.0 L601.8 455.0 L602.9 453.9 L603.9 452.8 L604.9 451.7 L605.8 450.5 L606.7 449.3 L607.7 448.2 L608.6 447.0 L609.6 445.8 L610.5 444.6 L611.5 443.5 L612.5 442.4 L613.5 441.3 L614.5 440.2 L615.6 439.1 L616.6 438.0 L617.7 437.0 L618.9 436.0 L620.0 435.1 L621.2 434.2 L622.5 433.3 L623.7 432.6 L625.1 431.8 L626.4 431.2 L627.8 430.6 L629.2 430.1 L630.6 429.6 L632.1 429.3 L633.5 429.2 L635.0 429.1 L636.5 429.2 L638.0 429.4 L639.4 429.8 L640.8 430.2 L642.3 430.8 L643.6 431.4 L645.0 432.0 L646.3 432.8 L647.6 433.5 L648.8 434.4 L650.0 435.3 L651.2 436.2 L652.3 437.2 L653.3 438.3 L654.4 439.4 L655.4 440.5 L656.4 441.6 L657.4 442.7 L658.4 443.8 L659.5 444.9 L660.5 446.0 L661.6 447.0 L662.6 448.1 L663.7 449.1 L664.8 450.2 L665.8 451.3 L666.7 452.5 L667.6 453.7 L668.5 454.9 L669.3 456.2 L670.1 457.4 L670.8 458.8 L671.5 460.1 L672.1 461.5 L672.8 462.8 L673.4 464.2 L674.0 465.6 L674.6 467.0 L675.1 468.4 L675.7 469.7 L676.2 471.1 L676.8 472.5 L677.3 473.9 L677.8 475.4 L678.3 476.8 L678.8 478.2 L679.2 479.6 L679.7 481.1 L680.1 482.5 L680.6 483.9 L681.1 485.4 L681.6 486.8 L682.2 488.1 L682.8 489.5 L683.6 490.8 L684.3 492.1 L685.2 493.3 L686.0 494.6 L686.9 495.8 L687.7 497.0 L688.6 498.3 L689.4 499.5 L690.2 500.8 L691.0 502.1 L691.7 503.4 L692.4 504.8 L693.0 506.1 L693.7 507.5 L694.3 508.8 L694.9 510.2 L695.5 511.6 L696.0 513.0 L696.5 514.4 L697.0 515.8 L697.4 517.3 L697.8 518.7 L698.1 520.2 L698.5 521.7 L698.8 523.1 L699.2 524.6 L699.6 526.0 L700.0 527.5 L700.5 528.9 L701.0 530.3 L701.6 531.7 L702.2 533.1 L702.8 534.4 L703.5 535.8 L704.2 537.1 L704.9 538.4 L705.7 539.7 L706.5 541.0 L707.3 542.2 L708.2 543.4 L709.1 544.6 L710.0 545.8 L711.0 546.9 L712.0 548.1 L712.9 549.3 L713.8 550.5 L714.7 551.7 L715.6 552.9 L716.4 554.2 L717.2 555.5 L717.9 556.7 L718.7 558.0 L719.4 559.3 L720.2 560.6 L720.9 562.0 L721.7 563.3 L722.4 564.6 L723.2 565.9 L723.9 567.2 L724.7 568.5 L725.5 569.7 L726.4 571.0 L727.3 572.1 L728.2 573.3 L729.2 574.4 L730.3 575.5 L731.3 576.6 L732.3 577.7 L733.3 578.8 L734.3 579.9 L735.2 581.1 L736.1 582.3 L736.9 583.6 L737.7 584.9 L738.4 586.2 L739.1 587.5 L739.8 588.9 L740.4 590.2 L741.1 591.6 L741.9 592.9 L742.6 594.2 L743.4 595.5 L744.2 596.7 L745.0 598.0 L745.9 599.2 L746.8 600.4 L747.7 601.6 L748.5 602.9 L749.4 604.1 L750.4 605.3 L751.3 606.5 L752.2 607.6 L753.1 608.8 L754.0 610.0 L755.0 611.2 L755.9 612.4 L756.8 613.5 L757.8 614.7 L758.7 615.9 L759.6 617.1 L760.5 618.3 L761.4 619.5 L762.3 620.7 L763.2 621.9 L764.1 623.1 L765.0 624.3 L765.9 625.5 L766.8 626.7 L767.7 627.9 L768.6 629.1 L769.5 630.4 L770.4 631.6 L771.3 632.8 L772.2 634.0 L773.1 635.2 L774.0 636.4 L774.9 637.6 L775.8 638.7 L776.8 639.9 L777.8 641.0 L778.8 642.2 L779.8 643.3 L780.8 644.4 L781.8 645.5 L782.9 646.6 L783.9 647.6 L785.0 648.7 L786.1 649.7 L787.2 650.7 L788.3 651.7 L789.5 652.7 L790.6 653.6 L791.8 654.6 L793.0 655.5 L794.3 656.3 L795.5 657.2 L796.7 658.0 L798.0 658.9 L799.3 659.7 L800.6 660.4 L801.9 661.2 L803.2 661.9 L804.5 662.7 L805.8 663.4 L807.1 664.2 L808.3 665.0 L809.6 665.8 L810.9 666.5 L812.2 667.3 L813.5 668.1 L814.7 668.9 L816.0 669.7 L817.3 670.5 L818.6 671.2 L819.9 671.9 L821.3 672.7 L822.6 673.4 L823.9 674.1 L825.2 674.8 L826.5 675.5 L827.9 676.2 L829.2 676.9 L830.5 677.6 L831.9 678.3 L833.2 679.0 L834.6 679.7 L835.9 680.3 L837.3 681.0 L838.6 681.7 L840.0 682.3 L841.3 683.0 L842.7 683.6 L844.0 684.2 L845.4 684.8 L846.8 685.4 L848.2 686.0 L849.6 686.6 L851.0 687.2 L852.3 687.8 L853.7 688.3 L855.1 688.9 L856.5 689.5" stroke="#a8a8a8" stroke-width="6.2" fill="none" stroke-linejoin="round" stroke-linecap="round"/>
<path d="M366.5 688.0 L367.5 686.9 L368.5 685.8 L369.5 684.7 L370.6 683.6 L371.7 682.6 L372.8 681.7 L374.0 680.8 L375.2 679.9 L376.3 679.0 L377.3 677.9 L378.0 676.6 L378.7 675.3 L379.3 673.9 L379.8 672.5 L380.3 671.1 L380.7 669.7 L381.2 668.2 L381.6 666.8 L381.9 665.3 L382.3 663.9 L382.7 662.4 L383.0 660.9 L383.4 659.5 L383.7 658.0 L384.0 656.5 L384.3 655.1 L384.6 653.6 L384.9 652.1 L385.2 650.6 L385.4 649.2 L385.7 647.7 L385.9 646.2 L386.1 644.7 L386.4 643.2 L386.6 641.7 L386.8 640.2 L387.0 638.8 L387.2 637.3 L387.4 635.8 L387.6 634.3 L387.8 632.8 L388.0 631.3 L388.2 629.8 L388.5 628.3 L388.7 626.8 L388.9 625.4 L389.1 623.9 L389.3 622.4 L389.5 620.9 L389.7 619.4 L389.9 617.9 L390.1 616.4 L390.3 614.9 L390.5 613.4 L390.8 612.0 L391.0 610.5 L391.2 609.0 L391.4 607.5 L391.6 606.0 L391.8 604.5 L392.0 603.0 L392.2 601.5 L392.4 600.0 L392.6 598.6 L392.8 597.1 L393.0 595.6 L393.2 594.1 L393.4 592.6 L393.6 591.1 L393.8 589.6 L394.0 588.1 L394.2 586.6 L394.4 585.1 L394.6 583.7 L394.8 582.2 L395.0 580.7 L395.2 579.2 L395.5 577.7 L395.7 576.2 L395.9 574.7 L396.1 573.2 L396.3 571.7 L396.5 570.3 L396.7 568.8 L396.9 567.3 L397.1 565.8 L397.3 564.3 L397.5 562.8 L397.7 561.3 L398.0 559.8 L398.2 558.4 L398.4 556.9 L398.6 555.4 L398.8 553.9 L399.1 552.4 L399.3 550.9 L399.5 549.4 L399.7 547.9 L399.9 546.5 L400.1 545.0 L400.4 543.5 L400.6 542.0 L400.8 540.5 L401.0 539.0 L401.2 537.5 L401.4 536.0 L401.7 534.6 L401.9 533.1 L402.1 531.6 L402.3 530.1 L402.5 528.6 L402.7 527.1 L402.9 525.6 L403.1 524.1 L403.3 522.6 L403.5 521.2 L403.7 519.7 L403.9 518.2 L404.1 516.7 L404.3 515.2 L404.5 513.7 L404.7 512.2 L404.8 510.7 L405.0 509.2 L405.2 507.7 L405.3 506.2 L405.5 504.7 L405.7 503.2 L405.8 501.7 L406.0 500.3 L406.1 498.8 L406.3 497.3 L406.4 495.8 L406.5 494.3 L406.7 492.8 L406.8 491.3 L406.9 489.8 L407.1 488.3 L407.2 486.8 L407.3 485.3 L407.4 483.8 L407.6 482.3 L407.7 480.8 L407.8 479.3 L407.9 477.8 L408.0 476.3 L408.2 474.8 L408.3 473.3 L408.4 471.8 L408.5 470.3 L408.6 468.8 L408.7 467.3 L408.9 465.8 L409.0 464.3 L409.1 462.8 L409.2 461.3 L409.4 459.8 L409.5 458.3 L409.6 456.8 L409.7 455.3 L409.9 453.8 L410.0 452.3 L410.1 450.8 L410.3 449.3 L410.4 447.8 L410.6 446.3 L410.7 444.8 L410.9 443.3 L411.0 441.8 L411.1 440.3 L411.3 438.8 L411.4 437.4 L411.6 435.9 L411.7 434.4 L411.9 432.9 L412.0 431.4 L412.2 429.9 L412.3 428.4 L412.5 426.9 L412.6 425.4 L412.8 423.9 L412.9 422.4 L413.1 420.9 L413.2 419.4 L413.4 417.9 L413.5 416.4 L413.7 414.9 L413.8 413.4 L414.0 411.9 L414.1 410.4 L414.3 408.9 L414.4 407.4 L414.6 405.9 L414.7 404.4 L414.9 402.9 L415.0 401.5 L415.2 400.0 L415.3 398.5 L415.5 397.0 L415.6 395.5 L415.8 394.0 L415.9 392.5 L416.0 391.0 L416.2 389.5 L416.3 388.0 L416.5 386.5 L416.6 385.0 L416.8 383.5 L416.9 382.0 L417.1 380.5 L417.2 379.0 L417.4 377.5 L417.5 376.0 L417.6 374.5 L417.8 373.0 L417.9 371.5 L418.1 370.0 L418.3 368.5 L418.4 367.0 L418.6 365.5 L418.7 364.1 L418.9 362.6 L419.0 361.1 L419.2 359.6 L419.4 358.1 L419.5 356.6 L419.7 355.1 L419.9 353.6 L420.0 352.1 L420.2 350.6 L420.4 349.1 L420.6 347.6 L420.7 346.1 L420.9 344.6 L421.1 343.1 L421.3 341.7 L421.5 340.2 L421.7 338.7 L421.9 337.2 L422.0 335.7 L422.2 334.2 L422.4 332.7 L422.6 331.2 L422.8 329.7 L423.0 328.2 L423.2 326.7 L423.4 325.2 L423.6 323.8 L423.8 322.3 L424.0 320.8 L424.1 319.3 L424.3 317.8 L424.5 316.3 L424.7 314.8 L424.9 313.3 L425.1 311.8 L425.3 310.3 L425.5 308.8 L425.7 307.4 L425.8 305.9 L426.0 304.4 L426.2 302.9 L426.4 301.4 L426.5 299.9 L426.7 298.4 L426.9 296.9 L427.1 295.4 L427.2 293.9 L427.4 292.4 L427.6 290.9 L427.7 289.4 L427.9 287.9 L428.1 286.4 L428.3 285.0 L428.4 283.5 L428.6 282.0 L428.8 280.5 L428.9 279.0 L429.1 277.5 L429.3 276.0 L429.5 274.5 L429.6 273.0 L429.8 271.5 L430.0 270.0 L430.2 268.5 L430.4 267.0 L430.6 265.6 L430.8 264.1 L431.1 262.6 L431.3 261.1 L431.6 259.6 L431.9 258.2 L432.3 256.7 L432.6 255.2 L433.0 253.8 L433.4 252.3 L433.7 250.9 L434.0 249.4 L434.2 247.9 L434.5 246.4 L434.7 244.9 L434.9 243.4 L435.1 242.0 L435.3 240.5 L435.6 239.0 L435.8 237.5 L436.0 236.0 L436.2 234.5 L436.4 233.0 L436.6 231.5 L436.9 230.1 L437.1 228.6 L437.3 227.1 L437.6 225.6 L437.8 224.1 L438.0 222.6 L438.3 221.1 L438.5 219.7 L438.7 218.2 L439.0 216.7 L439.2 215.2 L439.5 213.7 L439.7 212.2 L440.0 210.8 L440.2 209.3 L440.5 207.8 L440.7 206.3 L441.0 204.8 L441.2 203.4 L441.5 201.9 L441.8 200.4 L442.0 198.9 L442.3 197.4 L442.6 196.0 L442.9 194.5 L443.2 193.0 L443.5 191.6 L444.0 190.1 L444.5 188.8 L445.2 187.5 L446.0 186.3 L447.1 185.4 L448.3 184.6 L449.7 184.0 L451.1 183.6 L452.5 183.5 L453.9 183.6 L455.3 183.9 L456.6 184.5 L457.9 185.3 L458.9 186.3 L459.8 187.4 L460.5 188.7 L461.0 190.1 L461.5 191.5 L461.9 192.9 L462.2 194.4 L462.5 195.9 L462.8 197.3 L463.2 198.8 L463.5 200.3 L463.9 201.7 L464.3 203.2 L464.7 204.6 L465.2 206.0 L465.7 207.5 L466.2 208.9 L466.7 210.3 L467.2 211.7 L467.8 213.1 L468.4 214.5 L469.0 215.8 L469.6 217.2 L470.2 218.6 L470.7 220.0 L471.2 221.4 L471.7 222.8 L472.1 224.3 L472.5 225.7 L472.9 227.2 L473.4 228.6 L473.8 230.1 L474.2 231.5 L474.6 232.9 L475.1 234.4 L475.6 235.8 L476.1 237.2 L476.7 238.6 L477.2 240.0 L477.8 241.4 L478.4 242.8 L479.0 244.1 L479.5 245.6 L480.0 247.0 L480.5 248.4 L480.9 249.8 L481.3 251.3 L481.7 252.7 L482.0 254.2 L482.4 255.7 L482.7 257.1 L483.1 258.6 L483.5 260.0 L483.8 261.5 L484.2 263.0 L484.6 264.4 L485.0 265.9 L485.4 267.3 L485.8 268.7 L486.3 270.2 L486.8 271.6 L487.3 273.0 L487.9 274.4 L488.5 275.8 L489.1 277.2 L489.6 278.5 L490.2 279.9 L490.7 281.4 L491.1 282.8 L491.5 284.2 L491.9 285.7 L492.2 287.1 L492.6 288.6 L493.0 290.0 L493.5 291.5 L493.9 292.9 L494.4 294.3 L494.9 295.8 L495.4 297.2 L495.9 298.6 L496.4 300.0 L496.8 301.4 L497.3 302.9 L497.8 304.3 L498.3 305.7 L498.8 307.1 L499.2 308.6 L499.7 310.0 L500.1 311.4 L500.5 312.9 L500.9 314.3 L501.3 315.8 L501.7 317.2 L502.0 318.7 L502.4 320.2 L502.7 321.6 L502.9 323.1 L503.2 324.6 L503.4 326.1 L503.7 327.6 L503.9 329.1 L504.1 330.5 L504.3 332.0 L504.5 333.5 L504.7 335.0 L505.0 336.5 L505.2 338.0 L505.4 339.5 L505.7 340.9 L506.0 342.4 L506.3 343.9 L506.6 345.4 L506.9 346.8 L507.3 348.3 L507.7 349.7 L508.1 351.2 L508.5 352.6 L508.9 354.1 L509.3 355.5 L509.8 356.9 L510.2 358.4 L510.7 359.8 L511.2 361.2 L511.7 362.7 L512.1 364.1 L512.6 365.5 L513.1 366.9 L513.6 368.4 L514.1 369.8 L514.6 371.2 L515.1 372.6 L515.5 374.0 L516.0 375.5 L516.5 376.9 L517.0 378.3 L517.5 379.7 L518.0 381.1 L518.5 382.6 L519.0 384.0 L519.5 385.4 L520.0 386.8 L520.5 388.2 L521.0 389.6 L521.5 391.1 L522.0 392.5 L522.5 393.9 L523.0 395.3 L523.5 396.7 L524.0 398.2 L524.5 399.6 L525.0 401.0 L525.4 402.4 L525.9 403.9 L526.3 405.3 L526.7 406.8 L527.1 408.2 L527.4 409.7 L527.8 411.1 L528.1 412.6 L528.5 414.1 L528.8 415.5 L529.2 417.0 L529.6 418.4 L530.1 419.9 L530.6 421.3 L531.1 422.7 L531.6 424.1 L532.1 425.5 L532.7 426.9 L533.3 428.3 L533.8 429.7 L534.4 431.1 L535.0 432.4 L535.7 433.8 L536.3 435.2 L537.0 436.5 L537.7 437.8 L538.4 439.2 L539.1 440.5 L539.8 441.8 L540.6 443.1 L541.4 444.4 L542.1 445.7 L542.9 446.9 L543.7 448.2 L544.5 449.5 L545.4 450.7 L546.2 452.0 L547.0 453.2 L547.9 454.5 L548.8 455.7 L549.7 456.8 L550.7 458.0 L551.7 459.1 L552.8 460.1 L553.9 461.1 L555.1 461.9 L556.4 462.5 L557.8 462.9 L559.2 463.0 L560.7 462.8 L562.1 462.5 L563.5 462.0 L564.9 461.4 L566.2 460.8 L567.6 460.2 L569.0 459.6 L570.4 459.2 L571.8 458.9 L573.3 458.8 L574.8 458.9 L576.3 459.0 L577.8 459.2 L579.2 459.3 L580.7 459.2 L582.1 458.9 L583.5 458.4 L584.7 457.7 L585.9 456.8 L586.9 455.7 L587.9 454.6 L588.8 453.4 L589.6 452.2 L590.5 450.9 L591.3 449.7 L592.1 448.4 L592.9 447.1 L593.6 445.8 L594.4 444.6 L595.2 443.3 L595.9 442.0 L596.7 440.6 L597.4 439.3 L598.1 438.0 L598.8 436.7 L599.5 435.4 L600.2 434.0 L600.9 432.7 L601.7 431.4 L602.4 430.1 L603.1 428.7 L603.9 427.4 L604.6 426.1 L605.4 424.9 L606.2 423.6 L607.0 422.3 L607.9 421.1 L608.7 419.9 L609.6 418.7 L610.5 417.5 L611.5 416.3 L612.4 415.1 L613.4 413.9 L614.3 412.8 L615.3 411.6 L616.3 410.5 L617.3 409.4 L618.4 408.3 L619.4 407.3 L620.5 406.3 L621.7 405.3 L622.9 404.4 L624.1 403.7 L625.5 403.1 L626.9 402.7 L628.3 402.5 L629.8 402.4 L631.3 402.2 L632.8 402.0 L634.2 401.7 L635.6 401.2 L637.0 400.7 L638.4 400.1 L639.8 399.6 L641.3 399.2 L642.7 398.8 L644.2 398.7 L645.6 398.6 L647.1 398.7 L648.6 399.0 L650.0 399.5 L651.3 400.0 L652.6 400.8 L653.8 401.6 L655.0 402.6 L656.1 403.6 L657.1 404.7 L658.1 405.8 L659.1 406.9 L660.1 408.1 L661.0 409.3 L661.9 410.5 L662.7 411.7 L663.6 413.0 L664.4 414.2 L665.2 415.5 L666.0 416.8 L666.8 418.0 L667.6 419.3 L668.4 420.6 L669.2 421.9 L669.9 423.2 L670.7 424.5 L671.5 425.8 L672.2 427.1 L673.0 428.4 L673.7 429.7 L674.4 431.0 L675.1 432.3 L675.8 433.6 L676.5 435.0 L677.2 436.3 L677.8 437.7 L678.4 439.1 L679.0 440.4 L679.6 441.8 L680.2 443.2 L680.8 444.6 L681.4 446.0 L682.0 447.4 L682.6 448.7 L683.2 450.1 L683.8 451.5 L684.5 452.8 L685.1 454.2 L685.8 455.5 L686.4 456.9 L687.1 458.3 L687.7 459.6 L688.3 461.0 L689.0 462.3 L689.5 463.7 L690.1 465.1 L690.7 466.5 L691.2 467.9 L691.7 469.3 L692.1 470.8 L692.6 472.2 L693.1 473.6 L693.5 475.1 L694.0 476.5 L694.4 477.9 L694.9 479.4 L695.4 480.8 L695.9 482.2 L696.5 483.6 L697.1 485.0 L697.8 486.3 L698.5 487.6 L699.3 488.9 L700.1 490.2 L700.9 491.4 L701.7 492.7 L702.4 494.0 L703.2 495.3 L704.0 496.6 L704.7 497.9 L705.4 499.2 L706.2 500.5 L706.9 501.8 L707.6 503.1 L708.3 504.5 L709.0 505.8 L709.6 507.2 L710.3 508.5 L710.9 509.9 L711.5 511.3 L712.0 512.7 L712.6 514.1 L713.1 515.5 L713.6 516.9 L714.1 518.3 L714.6 519.8 L715.1 521.2 L715.6 522.6 L716.1 524.0 L716.7 525.4 L717.3 526.8 L717.9 528.1 L718.5 529.5 L719.2 530.8 L719.9 532.2 L720.6 533.5 L721.3 534.8 L722.1 536.1 L722.9 537.4 L723.7 538.6 L724.6 539.8 L725.6 541.0 L726.5 542.1 L727.5 543.3 L728.5 544.4 L729.4 545.6 L730.3 546.8 L731.2 548.0 L732.0 549.3 L732.9 550.5 L733.7 551.8 L734.4 553.1 L735.2 554.4 L735.9 555.7 L736.6 557.0 L737.2 558.4 L737.8 559.8 L738.4 561.2 L738.9 562.6 L739.4 564.0 L739.9 565.4 L740.3 566.9 L740.8 568.3 L741.2 569.7 L741.6 571.2 L742.1 572.6 L742.6 574.0 L743.1 575.4 L743.7 576.8 L744.3 578.2 L744.9 579.5 L745.6 580.9 L746.4 582.1 L747.2 583.4 L748.0 584.7 L748.9 585.9 L749.7 587.2 L750.5 588.4 L751.3 589.7 L752.1 591.0 L752.9 592.3 L753.6 593.6 L754.4 594.9 L755.2 596.2 L755.9 597.5 L756.7 598.8 L757.4 600.1 L758.2 601.4 L758.9 602.7 L759.6 604.0 L760.4 605.3 L761.1 606.6 L761.8 608.0 L762.5 609.3 L763.2 610.6 L764.0 611.9 L764.7 613.2 L765.5 614.5 L766.2 615.8 L767.0 617.1 L767.8 618.4 L768.6 619.7 L769.4 620.9 L770.1 622.2 L770.9 623.5 L771.6 624.8 L772.4 626.1 L773.1 627.4 L773.9 628.7 L774.7 630.0 L775.5 631.3 L776.4 632.5 L777.3 633.7 L778.1 634.9 L779.0 636.1 L779.9 637.3 L780.9 638.5 L781.8 639.7 L782.7 640.9 L783.7 642.0 L784.7 643.2 L785.7 644.3 L786.7 645.4 L787.8 646.4 L788.9 647.4 L790.0 648.4 L791.2 649.4 L792.4 650.3 L793.6 651.2 L794.8 652.1 L796.0 653.0 L797.2 653.9 L798.4 654.8 L799.6 655.7 L800.9 656.5 L802.1 657.4 L803.3 658.2 L804.6 659.1 L805.9 659.9 L807.1 660.7 L808.4 661.5 L809.7 662.3 L810.9 663.1 L812.2 663.9 L813.5 664.7 L814.8 665.4 L816.1 666.2 L817.4 667.0 L818.7 667.7 L820.0 668.5 L821.3 669.2 L822.6 670.0 L823.9 670.7 L825.2 671.4 L826.5 672.2 L827.8 672.9 L829.1 673.6 L830.5 674.4 L831.8 675.1 L833.1 675.8 L834.4 676.5 L835.8 677.2 L837.1 677.9 L838.4 678.6 L839.8 679.2 L841.2 679.9 L842.5 680.5 L843.9 681.1 L845.3 681.7 L846.7 682.2 L848.1 682.8 L849.5 683.3 L850.9 683.9 L852.3 684.4 L853.7 684.9 L855.1 685.5 L856.5 686.0" stroke="#808080" stroke-width="6.2" fill="none" stroke-linejoin="round" stroke-linecap="round"/>
<path d="M366.5 700.0 L367.2 698.7 L368.0 697.4 L368.7 696.1 L369.4 694.8 L370.2 693.4 L370.9 692.1 L371.6 690.8 L372.3 689.5 L373.0 688.1 L373.7 686.8 L374.4 685.5 L375.0 684.1 L375.7 682.8 L376.3 681.4 L376.9 680.0 L377.5 678.6 L378.0 677.2 L378.5 675.8 L379.0 674.4 L379.5 673.0 L380.0 671.6 L380.4 670.1 L380.9 668.7 L381.3 667.2 L381.7 665.8 L382.1 664.3 L382.5 662.9 L382.9 661.4 L383.2 660.0 L383.6 658.5 L383.9 657.0 L384.2 655.6 L384.5 654.1 L384.8 652.6 L385.1 651.2 L385.3 649.7 L385.6 648.2 L385.8 646.7 L386.1 645.2 L386.3 643.7 L386.5 642.3 L386.7 640.8 L386.9 639.3 L387.1 637.8 L387.3 636.3 L387.6 634.8 L387.8 633.3 L388.0 631.8 L388.2 630.3 L388.4 628.9 L388.6 627.4 L388.8 625.9 L389.0 624.4 L389.2 622.9 L389.4 621.4 L389.6 619.9 L389.8 618.4 L390.1 617.0 L390.3 615.5 L390.5 614.0 L390.7 612.5 L390.9 611.0 L391.1 609.5 L391.3 608.0 L391.5 606.5 L391.7 605.0 L391.9 603.6 L392.1 602.1 L392.3 600.6 L392.5 599.1 L392.7 597.6 L392.9 596.1 L393.1 594.6 L393.3 593.1 L393.5 591.6 L393.7 590.2 L393.9 588.7 L394.2 587.2 L394.4 585.7 L394.6 584.2 L394.8 582.7 L395.0 581.2 L395.2 579.7 L395.4 578.2 L395.6 576.8 L395.8 575.3 L396.0 573.8 L396.2 572.3 L396.4 570.8 L396.6 569.3 L396.8 567.8 L397.0 566.3 L397.2 564.9 L397.5 563.4 L397.7 561.9 L397.9 560.4 L398.1 558.9 L398.3 557.4 L398.5 555.9 L398.8 554.4 L399.0 553.0 L399.2 551.5 L399.4 550.0 L399.6 548.5 L399.8 547.0 L400.1 545.5 L400.3 544.0 L400.5 542.5 L400.7 541.1 L400.9 539.6 L401.2 538.1 L401.4 536.6 L401.6 535.1 L401.8 533.6 L402.0 532.1 L402.2 530.7 L402.4 529.2 L402.6 527.7 L402.8 526.2 L403.0 524.7 L403.2 523.2 L403.4 521.7 L403.6 520.2 L403.8 518.7 L404.0 517.2 L404.2 515.8 L404.4 514.3 L404.6 512.8 L404.8 511.3 L404.9 509.8 L405.1 508.3 L405.3 506.8 L405.4 505.3 L405.6 503.8 L405.8 502.3 L405.9 500.8 L406.1 499.3 L406.2 497.8 L406.4 496.3 L406.5 494.8 L406.6 493.3 L406.8 491.8 L406.9 490.4 L407.0 488.9 L407.2 487.4 L407.3 485.9 L407.4 484.4 L407.5 482.9 L407.6 481.4 L407.8 479.9 L407.9 478.4 L408.0 476.9 L408.1 475.4 L408.2 473.9 L408.4 472.4 L408.5 470.9 L408.6 469.4 L408.7 467.9 L408.8 466.4 L408.9 464.9 L409.1 463.4 L409.2 461.9 L409.3 460.4 L409.4 458.9 L409.6 457.4 L409.7 455.9 L409.8 454.4 L410.0 452.9 L410.1 451.4 L410.2 449.9 L410.4 448.4 L410.5 446.9 L410.7 445.4 L410.8 443.9 L410.9 442.4 L411.1 440.9 L411.2 439.4 L411.4 437.9 L411.5 436.5 L411.7 435.0 L411.8 433.5 L412.0 432.0 L412.1 430.5 L412.3 429.0 L412.4 427.5 L412.6 426.0 L412.7 424.5 L412.9 423.0 L413.0 421.5 L413.2 420.0 L413.3 418.5 L413.5 417.0 L413.6 415.5 L413.8 414.0 L413.9 412.5 L414.1 411.0 L414.2 409.5 L414.4 408.0 L414.5 406.5 L414.7 405.1 L414.8 403.6 L415.0 402.1 L415.1 400.6 L415.3 399.1 L415.4 397.6 L415.5 396.1 L415.7 394.6 L415.8 393.1 L416.0 391.6 L416.1 390.1 L416.3 388.6 L416.4 387.1 L416.6 385.6 L416.7 384.1 L416.9 382.6 L417.0 381.1 L417.1 379.6 L417.3 378.1 L417.4 376.6 L417.6 375.1 L417.7 373.6 L417.9 372.1 L418.0 370.7 L418.2 369.2 L418.3 367.7 L418.5 366.2 L418.7 364.7 L418.8 363.2 L419.0 361.7 L419.1 360.2 L419.3 358.7 L419.5 357.2 L419.6 355.7 L419.8 354.2 L420.0 352.7 L420.1 351.2 L420.3 349.7 L420.5 348.2 L420.7 346.8 L420.8 345.3 L421.0 343.8 L421.2 342.3 L421.4 340.8 L421.6 339.3 L421.8 337.8 L422.0 336.3 L422.2 334.8 L422.3 333.3 L422.5 331.8 L422.7 330.4 L422.9 328.9 L423.1 327.4 L423.3 325.9 L423.5 324.4 L423.7 322.9 L423.9 321.4 L424.1 319.9 L424.3 318.4 L424.5 316.9 L424.6 315.4 L424.8 314.0 L425.0 312.5 L425.2 311.0 L425.4 309.5 L425.6 308.0 L425.8 306.5 L425.9 305.0 L426.1 303.5 L426.3 302.0 L426.5 300.5 L426.6 299.0 L426.8 297.5 L427.0 296.1 L427.2 294.6 L427.3 293.1 L427.5 291.6 L427.7 290.1 L427.8 288.6 L428.0 287.1 L428.2 285.6 L428.3 284.1 L428.5 282.6 L428.7 281.1 L428.9 279.6 L429.0 278.1 L429.2 276.6 L429.4 275.2 L429.6 273.7 L429.7 272.2 L429.9 270.7 L430.1 269.2 L430.3 267.7 L430.5 266.2 L430.7 264.7 L431.0 263.2 L431.2 261.8 L431.5 260.3 L431.8 258.8 L432.1 257.3 L432.5 255.9 L432.9 254.4 L433.2 253.0 L433.5 251.5 L433.8 250.0 L434.1 248.6 L434.4 247.1 L434.6 245.6 L434.8 244.1 L435.0 242.6 L435.3 241.1 L435.5 239.6 L435.7 238.2 L435.9 236.7 L436.1 235.2 L436.3 233.7 L436.5 232.2 L436.8 230.7 L437.0 229.2 L437.2 227.7 L437.5 226.3 L437.7 224.8 L437.9 223.3 L438.2 221.8 L438.4 220.3 L438.6 218.8 L438.9 217.4 L439.1 215.9 L439.4 214.4 L439.6 212.9 L439.9 211.4 L440.1 210.0 L440.4 208.5 L440.6 207.0 L440.9 205.5 L441.1 204.0 L441.4 202.5 L441.7 201.1 L441.9 199.6 L442.2 198.1 L442.5 196.6 L442.8 195.2 L443.1 193.7 L443.4 192.2 L443.8 190.8 L444.2 189.4 L444.8 188.0 L445.6 186.8 L446.6 185.8 L447.8 184.9 L449.1 184.3 L450.4 183.8 L451.8 183.5 L453.3 183.5 L454.7 183.8 L456.0 184.2 L457.3 184.9 L458.4 185.8 L459.4 186.9 L460.2 188.1 L460.8 189.4 L461.3 190.8 L461.7 192.3 L462.1 193.7 L462.4 195.2 L462.7 196.7 L463.0 198.1 L463.3 199.6 L463.7 201.1 L464.1 202.5 L464.5 203.9 L465.0 205.4 L465.5 206.8 L465.9 208.2 L466.4 209.7 L467.0 211.1 L467.5 212.5 L468.1 213.8 L468.7 215.2 L469.3 216.6 L469.9 218.0 L470.5 219.3 L471.0 220.8 L471.5 222.2 L471.9 223.6 L472.3 225.1 L472.7 226.5 L473.2 227.9 L473.6 229.4 L474.0 230.8 L474.4 232.3 L474.9 233.7 L475.4 235.1 L475.9 236.5 L476.4 237.9 L477.0 239.3 L477.5 240.7 L478.1 242.1 L478.7 243.5 L479.3 244.9 L479.8 246.3 L480.3 247.7 L480.7 249.2 L481.1 250.6 L481.5 252.1 L481.9 253.5 L482.2 255.0 L482.6 256.4 L482.9 257.9 L483.3 259.3 L483.7 260.8 L484.0 262.3 L484.4 263.7 L484.8 265.2 L485.2 266.6 L485.6 268.1 L486.1 269.5 L486.5 270.9 L487.1 272.3 L487.6 273.7 L488.2 275.1 L488.8 276.5 L489.4 277.9 L489.9 279.3 L490.4 280.7 L490.9 282.1 L491.3 283.5 L491.7 285.0 L492.0 286.4 L492.4 287.9 L492.8 289.3 L493.2 290.8 L493.7 292.2 L494.2 293.6 L494.7 295.1 L495.1 296.5 L495.6 297.9 L496.1 299.3 L496.6 300.7 L497.1 302.2 L497.6 303.6 L498.1 305.0 L498.5 306.4 L499.0 307.9 L499.4 309.3 L499.9 310.7 L500.3 312.2 L500.7 313.6 L501.1 315.1 L501.5 316.5 L501.9 318.0 L502.2 319.5 L502.5 320.9 L502.8 322.4 L503.1 323.9 L503.3 325.4 L503.6 326.8 L503.8 328.3 L504.0 329.8 L504.2 331.3 L504.4 332.8 L504.6 334.3 L504.8 335.8 L505.1 337.3 L505.3 338.7 L505.6 340.2 L505.8 341.7 L506.1 343.2 L506.4 344.6 L506.7 346.1 L507.1 347.6 L507.5 349.0 L507.9 350.5 L508.3 351.9 L508.7 353.4 L509.1 354.8 L509.6 356.2 L510.0 357.7 L510.5 359.1 L511.0 360.5 L511.4 361.9 L511.9 363.4 L512.4 364.8 L512.9 366.2 L513.4 367.6 L513.9 369.1 L514.3 370.5 L514.8 371.9 L515.3 373.3 L515.8 374.8 L516.3 376.2 L516.8 377.6 L517.3 379.0 L517.7 380.4 L518.2 381.9 L518.7 383.3 L519.3 384.7 L519.8 386.1 L520.3 387.5 L520.8 388.9 L521.3 390.3 L521.8 391.8 L522.3 393.2 L522.8 394.6 L523.3 396.0 L523.8 397.4 L524.3 398.9 L524.7 400.3 L525.2 401.7 L525.6 403.1 L526.1 404.6 L526.5 406.0 L526.9 407.5 L527.3 408.9 L527.6 410.4 L528.0 411.8 L528.3 413.3 L528.7 414.8 L529.0 416.2 L529.4 417.7 L529.8 419.1 L530.3 420.5 L530.8 422.0 L531.3 423.4 L531.9 424.8 L532.4 426.2 L533.0 427.6 L533.6 428.9 L534.2 430.3 L534.8 431.7 L535.4 433.1 L536.1 434.4 L536.7 435.8 L537.4 437.1 L538.0 438.5 L538.7 439.8 L539.5 441.1 L540.2 442.4 L541.0 443.7 L541.8 445.0 L542.7 446.2 L543.6 447.4 L544.5 448.6 L545.5 449.7 L546.5 450.8 L547.5 451.9 L548.6 452.9 L549.8 453.9 L551.0 454.8 L552.2 455.6 L553.5 456.3 L554.8 456.9 L556.2 457.3 L557.7 457.4 L559.1 457.3 L560.5 457.0 L561.9 456.4 L563.2 455.7 L564.5 455.0 L565.8 454.3 L567.2 453.8 L568.6 453.3 L570.1 453.0 L571.5 452.8 L573.0 452.6 L574.5 452.5 L576.0 452.4 L577.5 452.2 L578.9 451.9 L580.3 451.4 L581.6 450.7 L582.8 449.8 L583.9 448.9 L584.9 447.8 L585.8 446.6 L586.7 445.4 L587.6 444.2 L588.5 442.9 L589.3 441.7 L590.2 440.5 L591.1 439.3 L592.1 438.2 L593.2 437.2 L594.3 436.2 L595.5 435.3 L596.7 434.4 L597.9 433.4 L599.0 432.4 L599.9 431.3 L600.7 430.1 L601.4 428.8 L601.8 427.4 L602.2 426.0 L602.5 424.5 L602.7 423.0 L602.8 421.5 L603.0 420.0 L603.2 418.5 L603.5 417.1 L603.8 415.6 L604.3 414.2 L604.9 412.8 L605.6 411.5 L606.4 410.3 L607.3 409.1 L608.2 407.9 L609.2 406.8 L610.3 405.7 L611.2 404.6 L612.2 403.4 L613.1 402.3 L614.0 401.1 L614.9 399.8 L615.8 398.6 L616.7 397.4 L617.5 396.2 L618.4 395.0 L619.3 393.8 L620.3 392.6 L621.2 391.4 L622.2 390.3 L623.3 389.2 L624.4 388.2 L625.5 387.3 L626.8 386.5 L628.1 385.8 L629.5 385.2 L630.9 384.7 L632.3 384.2 L633.7 383.7 L635.2 383.3 L636.6 382.9 L638.1 382.6 L639.5 382.3 L641.0 382.0 L642.5 381.9 L644.0 381.8 L645.4 382.0 L646.8 382.4 L648.2 382.9 L649.4 383.7 L650.7 384.5 L651.9 385.4 L653.1 386.3 L654.2 387.2 L655.4 388.2 L656.6 389.1 L657.7 390.1 L658.9 391.0 L660.1 391.9 L661.4 392.7 L662.7 393.5 L664.0 394.2 L665.2 395.0 L666.4 395.9 L667.6 396.8 L668.6 397.9 L669.5 399.1 L670.3 400.3 L671.1 401.6 L671.8 402.9 L672.4 404.3 L673.1 405.6 L673.7 407.0 L674.4 408.4 L675.0 409.7 L675.6 411.1 L676.2 412.5 L676.8 413.8 L677.4 415.2 L678.0 416.6 L678.5 418.0 L679.1 419.4 L679.6 420.8 L680.2 422.2 L680.8 423.6 L681.3 425.0 L681.9 426.4 L682.4 427.8 L682.9 429.2 L683.5 430.6 L684.0 432.0 L684.6 433.4 L685.1 434.8 L685.7 436.2 L686.2 437.6 L686.8 439.0 L687.4 440.4 L688.0 441.7 L688.6 443.1 L689.2 444.5 L689.8 445.9 L690.4 447.2 L691.0 448.6 L691.7 450.0 L692.3 451.3 L692.9 452.7 L693.5 454.1 L694.1 455.5 L694.7 456.8 L695.3 458.2 L695.8 459.6 L696.4 461.0 L696.9 462.4 L697.4 463.9 L697.8 465.3 L698.3 466.7 L698.8 468.1 L699.2 469.6 L699.6 471.0 L700.1 472.5 L700.5 473.9 L700.9 475.4 L701.2 476.8 L701.6 478.3 L702.0 479.7 L702.3 481.2 L702.8 482.6 L703.3 484.0 L703.9 485.4 L704.5 486.8 L705.2 488.1 L705.9 489.4 L706.7 490.7 L707.5 492.0 L708.3 493.2 L709.1 494.5 L709.9 495.8 L710.6 497.1 L711.4 498.4 L712.2 499.7 L713.0 500.9 L713.7 502.2 L714.5 503.5 L715.3 504.8 L716.0 506.1 L716.8 507.4 L717.5 508.7 L718.1 510.1 L718.8 511.4 L719.4 512.8 L719.9 514.2 L720.4 515.6 L720.9 517.1 L721.3 518.5 L721.7 519.9 L722.2 521.4 L722.6 522.8 L723.0 524.3 L723.3 525.7 L723.7 527.2 L724.1 528.6 L724.5 530.1 L725.1 531.5 L725.7 532.8 L726.5 534.1 L727.3 535.3 L728.3 536.4 L729.3 537.5 L730.3 538.6 L731.4 539.7 L732.3 540.8 L733.3 542.0 L734.2 543.2 L735.1 544.4 L736.0 545.6 L736.9 546.8 L737.7 548.1 L738.5 549.4 L739.3 550.6 L740.0 552.0 L740.6 553.3 L741.2 554.7 L741.7 556.1 L742.1 557.5 L742.5 559.0 L742.9 560.4 L743.2 561.9 L743.6 563.4 L744.0 564.8 L744.5 566.2 L745.1 567.6 L745.7 568.9 L746.5 570.2 L747.3 571.5 L748.1 572.7 L749.0 574.0 L749.9 575.2 L750.7 576.5 L751.5 577.7 L752.2 579.0 L752.9 580.4 L753.6 581.7 L754.2 583.1 L754.8 584.4 L755.5 585.8 L756.1 587.2 L756.7 588.5 L757.3 589.9 L757.9 591.3 L758.4 592.7 L759.0 594.1 L759.6 595.5 L760.1 596.9 L760.6 598.3 L761.1 599.7 L761.6 601.1 L762.2 602.5 L762.7 603.9 L763.3 605.3 L763.9 606.7 L764.6 608.0 L765.3 609.3 L766.1 610.6 L766.9 611.9 L767.8 613.1 L768.7 614.3 L769.6 615.5 L770.6 616.6 L771.6 617.7 L772.6 618.9 L773.5 620.0 L774.5 621.1 L775.5 622.3 L776.5 623.4 L777.5 624.6 L778.4 625.7 L779.4 626.8 L780.4 628.0 L781.4 629.1 L782.4 630.2 L783.4 631.3 L784.4 632.5 L785.4 633.6 L786.4 634.7 L787.4 635.8 L788.4 636.9 L789.4 638.1 L790.4 639.2 L791.4 640.3 L792.4 641.5 L793.4 642.6 L794.4 643.7 L795.5 644.8 L796.5 645.8 L797.7 646.8 L798.8 647.7 L800.1 648.4 L801.4 649.1 L802.8 649.6 L804.2 650.1 L805.6 650.6 L806.9 651.3 L808.2 652.1 L809.4 652.9 L810.7 653.8 L811.8 654.7 L813.0 655.7 L814.2 656.6 L815.4 657.5 L816.5 658.5 L817.7 659.4 L818.9 660.3 L820.1 661.3 L821.3 662.2 L822.5 663.1 L823.7 664.0 L824.9 664.9 L826.1 665.8 L827.3 666.6 L828.6 667.4 L829.9 668.2 L831.2 668.9 L832.5 669.6 L833.9 670.3 L835.2 671.0 L836.5 671.7 L837.9 672.3 L839.2 673.0 L840.6 673.7 L841.9 674.4 L843.2 675.1 L844.6 675.8 L845.9 676.4 L847.3 677.0 L848.7 677.7 L850.1 678.2 L851.4 678.8 L852.8 679.4 L854.2 680.0 L855.6 680.5 L857.0 681.1" stroke="#0a0a0a" stroke-width="6.2" fill="none" stroke-linejoin="round" stroke-linecap="round"/>
<path d="M1046.8 686.0 L1048.0 685.1 L1049.2 684.2 L1050.4 683.3 L1051.7 682.6 L1052.9 682.0 L1054.2 681.3 L1055.3 680.5 L1056.3 679.6 L1057.1 678.4 L1057.8 677.1 L1058.5 675.7 L1059.1 674.4 L1059.6 673.0 L1060.2 671.6 L1060.7 670.2 L1061.3 668.8 L1061.8 667.4 L1062.3 666.0 L1062.7 664.5 L1063.2 663.1 L1063.7 661.7 L1064.1 660.2 L1064.5 658.8 L1064.9 657.3 L1065.3 655.9 L1065.6 654.4 L1066.0 653.0 L1066.3 651.5 L1066.6 650.0 L1066.9 648.5 L1067.2 647.1 L1067.5 645.6 L1067.8 644.1 L1068.0 642.6 L1068.3 641.2 L1068.5 639.7 L1068.7 638.2 L1069.0 636.7 L1069.2 635.2 L1069.4 633.7 L1069.6 632.2 L1069.9 630.8 L1070.1 629.3 L1070.3 627.8 L1070.5 626.3 L1070.7 624.8 L1070.9 623.3 L1071.2 621.8 L1071.4 620.3 L1071.6 618.9 L1071.8 617.4 L1072.0 615.9 L1072.3 614.4 L1072.5 612.9 L1072.7 611.4 L1072.9 609.9 L1073.1 608.4 L1073.3 607.0 L1073.5 605.5 L1073.7 604.0 L1073.9 602.5 L1074.1 601.0 L1074.3 599.5 L1074.5 598.0 L1074.7 596.5 L1074.9 595.0 L1075.1 593.6 L1075.3 592.1 L1075.5 590.6 L1075.7 589.1 L1075.9 587.6 L1076.1 586.1 L1076.3 584.6 L1076.5 583.1 L1076.7 581.6 L1076.9 580.2 L1077.1 578.7 L1077.3 577.2 L1077.5 575.7 L1077.7 574.2 L1077.9 572.7 L1078.1 571.2 L1078.3 569.7 L1078.5 568.2 L1078.7 566.7 L1078.9 565.3 L1079.1 563.8 L1079.3 562.3 L1079.5 560.8 L1079.7 559.3 L1079.9 557.8 L1080.1 556.3 L1080.3 554.8 L1080.5 553.3 L1080.7 551.9 L1080.9 550.4 L1081.1 548.9 L1081.3 547.4 L1081.6 545.9 L1081.8 544.4 L1082.0 542.9 L1082.2 541.4 L1082.4 539.9 L1082.6 538.5 L1082.8 537.0 L1083.0 535.5 L1083.2 534.0 L1083.4 532.5 L1083.6 531.0 L1083.8 529.5 L1084.0 528.0 L1084.2 526.5 L1084.4 525.1 L1084.6 523.6 L1084.8 522.1 L1085.0 520.6 L1085.2 519.1 L1085.4 517.6 L1085.6 516.1 L1085.8 514.6 L1086.0 513.1 L1086.2 511.7 L1086.4 510.2 L1086.6 508.7 L1086.8 507.2 L1086.9 505.7 L1087.1 504.2 L1087.3 502.7 L1087.5 501.2 L1087.7 499.7 L1087.8 498.2 L1088.0 496.7 L1088.2 495.2 L1088.4 493.7 L1088.5 492.3 L1088.7 490.8 L1088.8 489.3 L1089.0 487.8 L1089.1 486.3 L1089.3 484.8 L1089.5 483.3 L1089.6 481.8 L1089.7 480.3 L1089.9 478.8 L1090.0 477.3 L1090.2 475.8 L1090.3 474.3 L1090.5 472.8 L1090.6 471.3 L1090.7 469.8 L1090.9 468.3 L1091.0 466.8 L1091.2 465.3 L1091.3 463.8 L1091.4 462.3 L1091.6 460.8 L1091.7 459.3 L1091.9 457.9 L1092.0 456.4 L1092.2 454.9 L1092.3 453.4 L1092.5 451.9 L1092.6 450.4 L1092.7 448.9 L1092.9 447.4 L1093.0 445.9 L1093.2 444.4 L1093.3 442.9 L1093.5 441.4 L1093.6 439.9 L1093.8 438.4 L1093.9 436.9 L1094.1 435.4 L1094.2 433.9 L1094.3 432.4 L1094.5 430.9 L1094.6 429.4 L1094.8 427.9 L1094.9 426.4 L1095.1 424.9 L1095.2 423.5 L1095.4 422.0 L1095.5 420.5 L1095.7 419.0 L1095.8 417.5 L1096.0 416.0 L1096.1 414.5 L1096.3 413.0 L1096.5 411.5 L1096.6 410.0 L1096.8 408.5 L1096.9 407.0 L1097.1 405.5 L1097.3 404.0 L1097.4 402.5 L1097.6 401.0 L1097.8 399.5 L1098.0 398.1 L1098.2 396.6 L1098.3 395.1 L1098.5 393.6 L1098.7 392.1 L1098.9 390.6 L1099.1 389.1 L1099.3 387.6 L1099.5 386.1 L1099.7 384.6 L1099.9 383.2 L1100.1 381.7 L1100.3 380.2 L1100.5 378.7 L1100.7 377.2 L1100.9 375.7 L1101.1 374.2 L1101.3 372.7 L1101.5 371.2 L1101.7 369.7 L1101.9 368.3 L1102.1 366.8 L1102.3 365.3 L1102.4 363.8 L1102.6 362.3 L1102.8 360.8 L1102.9 359.3 L1103.1 357.8 L1103.3 356.3 L1103.4 354.8 L1103.5 353.3 L1103.7 351.8 L1103.8 350.3 L1103.9 348.8 L1104.1 347.3 L1104.2 345.8 L1104.3 344.3 L1104.4 342.8 L1104.5 341.3 L1104.6 339.8 L1104.7 338.3 L1104.8 336.8 L1104.9 335.3 L1105.0 333.8 L1105.0 332.3 L1105.1 330.8 L1105.2 329.3 L1105.3 327.8 L1105.4 326.3 L1105.5 324.8 L1105.6 323.3 L1105.7 321.8 L1105.8 320.3 L1105.9 318.8 L1106.0 317.3 L1106.1 315.8 L1106.2 314.3 L1106.3 312.8 L1106.4 311.3 L1106.5 309.8 L1106.6 308.3 L1106.8 306.8 L1106.9 305.4 L1107.0 303.9 L1107.2 302.4 L1107.3 300.9 L1107.5 299.4 L1107.6 297.9 L1107.8 296.4 L1107.9 294.9 L1108.1 293.4 L1108.3 291.9 L1108.4 290.4 L1108.6 288.9 L1108.8 287.4 L1109.0 285.9 L1109.1 284.4 L1109.3 282.9 L1109.5 281.4 L1109.7 280.0 L1109.9 278.5 L1110.1 277.0 L1110.3 275.5 L1110.4 274.0 L1110.6 272.5 L1110.8 271.0 L1111.0 269.5 L1111.3 268.0 L1111.5 266.5 L1111.7 265.1 L1111.9 263.6 L1112.2 262.1 L1112.4 260.6 L1112.7 259.1 L1113.0 257.7 L1113.4 256.2 L1113.8 254.8 L1114.1 253.3 L1114.5 251.8 L1114.8 250.4 L1115.1 248.9 L1115.3 247.4 L1115.5 245.9 L1115.8 244.4 L1116.0 243.0 L1116.2 241.5 L1116.4 240.0 L1116.6 238.5 L1116.8 237.0 L1117.0 235.5 L1117.3 234.0 L1117.5 232.5 L1117.7 231.1 L1117.9 229.6 L1118.2 228.1 L1118.4 226.6 L1118.6 225.1 L1118.9 223.6 L1119.1 222.2 L1119.3 220.7 L1119.6 219.2 L1119.8 217.7 L1120.1 216.2 L1120.3 214.7 L1120.6 213.3 L1120.8 211.8 L1121.1 210.3 L1121.3 208.8 L1121.6 207.3 L1121.8 205.8 L1122.1 204.4 L1122.3 202.9 L1122.6 201.4 L1122.9 199.9 L1123.1 198.5 L1123.4 197.0 L1123.7 195.5 L1124.0 194.0 L1124.3 192.6 L1124.7 191.1 L1125.1 189.7 L1125.7 188.3 L1126.4 187.1 L1127.4 186.0 L1128.5 185.1 L1129.7 184.4 L1131.1 183.9 L1132.5 183.5 L1133.9 183.5 L1135.3 183.8 L1136.5 184.3 L1137.6 185.2 L1138.6 186.3 L1139.5 187.5 L1140.2 188.8 L1140.8 190.1 L1141.4 191.5 L1141.9 192.9 L1142.3 194.3 L1142.7 195.8 L1143.1 197.2 L1143.5 198.7 L1143.9 200.1 L1144.3 201.6 L1144.7 203.0 L1145.2 204.5 L1145.6 205.9 L1146.2 207.3 L1146.7 208.7 L1147.3 210.1 L1147.9 211.5 L1148.5 212.8 L1149.1 214.2 L1149.7 215.6 L1150.4 216.9 L1151.0 218.3 L1151.6 219.7 L1152.3 221.0 L1152.9 222.4 L1153.5 223.8 L1154.1 225.2 L1154.7 226.5 L1155.3 227.9 L1155.8 229.3 L1156.4 230.7 L1157.0 232.1 L1157.6 233.5 L1158.1 234.9 L1158.7 236.3 L1159.3 237.6 L1159.8 239.0 L1160.4 240.4 L1160.9 241.8 L1161.4 243.2 L1162.0 244.7 L1162.4 246.1 L1162.9 247.5 L1163.3 248.9 L1163.7 250.4 L1164.1 251.9 L1164.4 253.3 L1164.7 254.8 L1165.0 256.3 L1165.4 257.7 L1165.8 259.2 L1166.2 260.6 L1166.6 262.1 L1167.0 263.5 L1167.4 264.9 L1167.9 266.4 L1168.3 267.8 L1168.7 269.3 L1169.2 270.7 L1169.6 272.1 L1170.1 273.6 L1170.5 275.0 L1170.9 276.5 L1171.4 277.9 L1171.8 279.3 L1172.2 280.8 L1172.7 282.2 L1173.1 283.6 L1173.5 285.1 L1174.0 286.5 L1174.4 288.0 L1174.8 289.4 L1175.3 290.8 L1175.7 292.3 L1176.1 293.7 L1176.6 295.2 L1177.0 296.6 L1177.4 298.0 L1177.8 299.5 L1178.3 300.9 L1178.7 302.4 L1179.2 303.8 L1179.6 305.2 L1180.1 306.7 L1180.5 308.1 L1180.9 309.5 L1181.4 311.0 L1181.8 312.4 L1182.3 313.8 L1182.7 315.3 L1183.1 316.7 L1183.5 318.2 L1183.9 319.6 L1184.3 321.1 L1184.7 322.5 L1185.0 324.0 L1185.3 325.5 L1185.6 326.9 L1185.9 328.4 L1186.2 329.9 L1186.5 331.4 L1186.7 332.8 L1187.0 334.3 L1187.3 335.8 L1187.6 337.3 L1187.9 338.7 L1188.2 340.2 L1188.5 341.7 L1188.8 343.1 L1189.2 344.6 L1189.6 346.1 L1190.0 347.5 L1190.4 348.9 L1190.8 350.4 L1191.3 351.8 L1191.7 353.3 L1192.2 354.7 L1192.6 356.1 L1193.1 357.6 L1193.5 359.0 L1194.0 360.4 L1194.4 361.9 L1194.9 363.3 L1195.3 364.7 L1195.7 366.2 L1196.2 367.6 L1196.6 369.0 L1197.1 370.5 L1197.5 371.9 L1198.0 373.3 L1198.4 374.8 L1198.9 376.2 L1199.3 377.6 L1199.8 379.1 L1200.2 380.5 L1200.6 382.0 L1201.0 383.4 L1201.4 384.9 L1201.8 386.3 L1202.2 387.8 L1202.6 389.2 L1203.0 390.7 L1203.3 392.1 L1203.7 393.6 L1204.0 395.0 L1204.4 396.5 L1204.7 398.0 L1205.1 399.4 L1205.4 400.9 L1205.7 402.4 L1206.0 403.8 L1206.3 405.3 L1206.6 406.8 L1206.9 408.3 L1207.2 409.7 L1207.4 411.2 L1207.7 412.7 L1207.9 414.2 L1208.1 415.7 L1208.4 417.2 L1208.6 418.6 L1208.8 420.1 L1209.0 421.6 L1209.3 423.1 L1209.5 424.6 L1209.8 426.1 L1210.0 427.5 L1210.3 429.0 L1210.5 430.5 L1210.8 432.0 L1211.0 433.5 L1211.2 435.0 L1211.4 436.5 L1211.6 437.9 L1211.7 439.4 L1211.9 440.9 L1212.0 442.4 L1212.1 443.9 L1212.2 445.4 L1212.3 446.9 L1212.5 448.4 L1212.6 449.9 L1212.7 451.4 L1212.9 452.9 L1213.1 454.4 L1213.4 455.9 L1213.6 457.4 L1213.9 458.8 L1214.3 460.3 L1214.7 461.7 L1215.1 463.2 L1215.5 464.6 L1216.0 466.1 L1216.5 467.5 L1217.0 468.9 L1217.5 470.3 L1218.0 471.7 L1218.5 473.1 L1219.0 474.5 L1219.6 475.9 L1220.2 477.3 L1220.8 478.7 L1221.4 480.1 L1222.0 481.4 L1222.6 482.8 L1223.3 484.2 L1223.9 485.5 L1224.6 486.8 L1225.3 488.2 L1226.0 489.5 L1226.8 490.8 L1227.5 492.1 L1228.3 493.4 L1229.1 494.7 L1229.9 495.9 L1230.7 497.2 L1231.6 498.4 L1232.4 499.7 L1233.3 500.9 L1234.2 502.1 L1235.1 503.3 L1236.0 504.5 L1237.0 505.6 L1237.9 506.8 L1238.9 508.0 L1239.8 509.1 L1240.8 510.3 L1241.8 511.4 L1242.8 512.5 L1243.8 513.7 L1244.8 514.8 L1245.8 515.9 L1246.8 517.0 L1247.8 518.1 L1248.9 519.2 L1249.9 520.3 L1251.0 521.3 L1252.1 522.4 L1253.2 523.4 L1254.3 524.4 L1255.4 525.4 L1256.6 526.4 L1257.7 527.3 L1258.9 528.2 L1260.1 529.1 L1261.3 530.0 L1262.5 530.9 L1263.8 531.7 L1265.1 532.5 L1266.4 533.3 L1267.7 534.0 L1268.9 534.8 L1270.2 535.7 L1271.4 536.5 L1272.7 537.4 L1273.9 538.2 L1275.1 539.1 L1276.3 540.0 L1277.5 541.0 L1278.6 541.9 L1279.8 542.9 L1280.9 543.8 L1282.1 544.8 L1283.2 545.8 L1284.3 546.8 L1285.4 547.9 L1286.5 548.9 L1287.6 549.9 L1288.7 550.9 L1289.8 551.9 L1290.9 553.0 L1292.0 554.0 L1293.2 555.0 L1294.3 556.0 L1295.4 556.9 L1296.6 557.9 L1297.8 558.8 L1298.9 559.8 L1300.1 560.7 L1301.3 561.6 L1302.6 562.5 L1303.8 563.3 L1305.0 564.2 L1306.2 565.0 L1307.5 565.9 L1308.7 566.7 L1310.0 567.6 L1311.2 568.4 L1312.5 569.3 L1313.7 570.1 L1314.9 571.0 L1316.2 571.8 L1317.4 572.6 L1318.7 573.5 L1319.9 574.3 L1321.2 575.1 L1322.5 575.9 L1323.7 576.8 L1325.0 577.6 L1326.2 578.4 L1327.4 579.3 L1328.6 580.2 L1329.8 581.1 L1331.0 582.1 L1332.2 583.0 L1333.3 584.0 L1334.4 585.0 L1335.5 586.0 L1336.6 587.0 L1337.7 588.1 L1338.8 589.1 L1339.9 590.2 L1340.9 591.2 L1342.0 592.3 L1343.0 593.4 L1344.0 594.5 L1345.1 595.6 L1346.1 596.7 L1347.1 597.8 L1348.1 598.9 L1349.1 600.0 L1350.1 601.1 L1351.1 602.3 L1352.1 603.4 L1353.1 604.5 L1354.1 605.7 L1355.0 606.9 L1356.0 608.0 L1356.9 609.2 L1357.8 610.4 L1358.8 611.6 L1359.7 612.7 L1360.6 613.9 L1361.5 615.1 L1362.4 616.4 L1363.2 617.6 L1364.1 618.8 L1365.0 620.0 L1365.8 621.3 L1366.6 622.5 L1367.4 623.8 L1368.2 625.1 L1369.0 626.3 L1369.8 627.6 L1370.6 628.9 L1371.5 630.2 L1372.3 631.4 L1373.1 632.7 L1373.9 633.9 L1374.8 635.2 L1375.7 636.4 L1376.6 637.6 L1377.5 638.8 L1378.4 640.0 L1379.4 641.1 L1380.3 642.2 L1381.3 643.4 L1382.4 644.5 L1383.4 645.6 L1384.5 646.6 L1385.6 647.6 L1386.7 648.6 L1387.8 649.6 L1389.0 650.6 L1390.2 651.5 L1391.3 652.4 L1392.5 653.3 L1393.7 654.2 L1395.0 655.1 L1396.2 656.0 L1397.4 656.8 L1398.7 657.7 L1399.9 658.5 L1401.2 659.3 L1402.5 660.1 L1403.7 661.0 L1405.0 661.8 L1406.3 662.6 L1407.5 663.3 L1408.8 664.1 L1410.1 664.9 L1411.4 665.7 L1412.7 666.5 L1414.0 667.2 L1415.3 668.0 L1416.6 668.7 L1417.9 669.4 L1419.3 670.1 L1420.6 670.8 L1421.9 671.4 L1423.3 672.1 L1424.7 672.7 L1426.0 673.4 L1427.4 674.0 L1428.7 674.6 L1430.1 675.3 L1431.5 675.9 L1432.8 676.6 L1434.1 677.3 L1435.4 678.0 L1436.7 678.8 L1438.0 679.6 L1439.2 680.5 L1440.4 681.4 L1441.5 682.4 L1442.7 683.3 L1443.8 684.3 L1445.0 685.3 L1446.2 686.2 L1447.4 687.1 L1448.6 687.9 L1449.9 688.7 L1451.2 689.4 L1452.5 690.1 L1453.9 690.8 L1455.2 691.5 L1456.6 692.2 L1457.9 692.8 L1459.3 693.4 L1460.7 694.0 L1462.1 694.5 L1463.5 695.1 L1464.9 695.6 L1466.3 696.1 L1467.8 696.5 L1469.2 697.0 L1470.6 697.4 L1472.1 697.8 L1473.5 698.2 L1475.0 698.5 L1476.5 698.8 L1477.9 699.2 L1479.4 699.5 L1480.9 699.8 L1482.4 700.1 L1483.8 700.4 L1485.3 700.6 L1486.8 700.9 L1488.3 701.2 L1489.7 701.4 L1491.2 701.7 L1492.7 702.0 L1494.2 702.2 L1495.7 702.5 L1497.1 702.8 L1498.6 703.0 L1500.1 703.3 L1501.6 703.6 L1503.0 703.9 L1504.5 704.2 L1506.0 704.5 L1507.5 704.8 L1508.9 705.1 L1510.4 705.4 L1511.9 705.7 L1513.3 706.1 L1514.8 706.4 L1516.3 706.7 L1517.7 707.0 L1519.2 707.4 L1520.7 707.7 L1522.1 708.0 L1523.6 708.3 L1525.1 708.7 L1526.5 709.0 L1528.0 709.3 L1529.5 709.7 L1530.9 710.0 L1532.4 710.3 L1533.9 710.6 L1535.3 711.0 L1536.8 711.3" stroke="#cdcdcd" stroke-width="6.2" fill="none" stroke-linejoin="round" stroke-linecap="round"/>
<path d="M1046.8 688.0 L1047.9 687.0 L1049.0 685.9 L1050.1 684.9 L1051.2 684.0 L1052.4 683.1 L1053.6 682.3 L1054.7 681.4 L1055.7 680.4 L1056.6 679.3 L1057.4 678.0 L1058.0 676.7 L1058.6 675.3 L1059.2 673.9 L1059.8 672.5 L1060.4 671.1 L1060.9 669.7 L1061.4 668.3 L1061.9 666.9 L1062.4 665.5 L1062.9 664.0 L1063.4 662.6 L1063.8 661.2 L1064.2 659.7 L1064.6 658.3 L1065.0 656.8 L1065.4 655.4 L1065.8 653.9 L1066.1 652.5 L1066.4 651.0 L1066.7 649.5 L1067.0 648.0 L1067.3 646.6 L1067.6 645.1 L1067.8 643.6 L1068.1 642.1 L1068.3 640.6 L1068.6 639.2 L1068.8 637.7 L1069.0 636.2 L1069.3 634.7 L1069.5 633.2 L1069.7 631.7 L1069.9 630.2 L1070.2 628.8 L1070.4 627.3 L1070.6 625.8 L1070.8 624.3 L1071.0 622.8 L1071.2 621.3 L1071.5 619.8 L1071.7 618.3 L1071.9 616.9 L1072.1 615.4 L1072.3 613.9 L1072.5 612.4 L1072.8 610.9 L1073.0 609.4 L1073.2 607.9 L1073.4 606.4 L1073.6 604.9 L1073.8 603.5 L1074.0 602.0 L1074.2 600.5 L1074.4 599.0 L1074.6 597.5 L1074.8 596.0 L1075.0 594.5 L1075.2 593.0 L1075.4 591.5 L1075.6 590.0 L1075.8 588.6 L1076.0 587.1 L1076.2 585.6 L1076.4 584.1 L1076.6 582.6 L1076.8 581.1 L1077.0 579.6 L1077.2 578.1 L1077.4 576.6 L1077.6 575.1 L1077.8 573.6 L1078.0 572.2 L1078.2 570.7 L1078.4 569.2 L1078.6 567.7 L1078.8 566.2 L1079.0 564.7 L1079.2 563.2 L1079.4 561.7 L1079.6 560.2 L1079.8 558.7 L1080.0 557.3 L1080.2 555.8 L1080.4 554.3 L1080.6 552.8 L1080.8 551.3 L1081.0 549.8 L1081.2 548.3 L1081.4 546.8 L1081.6 545.3 L1081.8 543.9 L1082.0 542.4 L1082.3 540.9 L1082.5 539.4 L1082.7 537.9 L1082.9 536.4 L1083.1 534.9 L1083.3 533.4 L1083.5 531.9 L1083.7 530.4 L1083.9 529.0 L1084.1 527.5 L1084.3 526.0 L1084.5 524.5 L1084.7 523.0 L1084.9 521.5 L1085.1 520.0 L1085.3 518.5 L1085.5 517.0 L1085.7 515.5 L1085.9 514.1 L1086.1 512.6 L1086.3 511.1 L1086.5 509.6 L1086.6 508.1 L1086.8 506.6 L1087.0 505.1 L1087.2 503.6 L1087.4 502.1 L1087.6 500.6 L1087.7 499.1 L1087.9 497.6 L1088.1 496.1 L1088.3 494.7 L1088.4 493.2 L1088.6 491.7 L1088.7 490.2 L1088.9 488.7 L1089.1 487.2 L1089.2 485.7 L1089.4 484.2 L1089.5 482.7 L1089.7 481.2 L1089.8 479.7 L1090.0 478.2 L1090.1 476.7 L1090.2 475.2 L1090.4 473.7 L1090.5 472.2 L1090.7 470.7 L1090.8 469.2 L1090.9 467.7 L1091.1 466.2 L1091.2 464.7 L1091.4 463.2 L1091.5 461.7 L1091.6 460.2 L1091.8 458.7 L1091.9 457.2 L1092.1 455.7 L1092.2 454.3 L1092.4 452.8 L1092.5 451.3 L1092.7 449.8 L1092.8 448.3 L1093.0 446.8 L1093.1 445.3 L1093.3 443.8 L1093.4 442.3 L1093.5 440.8 L1093.7 439.3 L1093.8 437.8 L1094.0 436.3 L1094.1 434.8 L1094.3 433.3 L1094.4 431.8 L1094.6 430.3 L1094.7 428.8 L1094.8 427.3 L1095.0 425.8 L1095.1 424.3 L1095.3 422.8 L1095.4 421.3 L1095.6 419.8 L1095.7 418.3 L1095.9 416.8 L1096.0 415.3 L1096.2 413.9 L1096.4 412.4 L1096.5 410.9 L1096.7 409.4 L1096.8 407.9 L1097.0 406.4 L1097.2 404.9 L1097.3 403.4 L1097.5 401.9 L1097.7 400.4 L1097.9 398.9 L1098.1 397.4 L1098.2 395.9 L1098.4 394.4 L1098.6 392.9 L1098.8 391.4 L1099.0 390.0 L1099.2 388.5 L1099.4 387.0 L1099.6 385.5 L1099.8 384.0 L1100.0 382.5 L1100.2 381.0 L1100.4 379.5 L1100.6 378.0 L1100.8 376.5 L1101.0 375.1 L1101.2 373.6 L1101.4 372.1 L1101.6 370.6 L1101.8 369.1 L1102.0 367.6 L1102.2 366.1 L1102.3 364.6 L1102.5 363.1 L1102.7 361.6 L1102.9 360.1 L1103.0 358.6 L1103.2 357.1 L1103.3 355.6 L1103.5 354.2 L1103.6 352.7 L1103.7 351.2 L1103.9 349.7 L1104.0 348.2 L1104.1 346.7 L1104.2 345.2 L1104.3 343.7 L1104.4 342.2 L1104.5 340.7 L1104.6 339.2 L1104.7 337.7 L1104.8 336.2 L1104.9 334.7 L1105.0 333.2 L1105.1 331.7 L1105.2 330.2 L1105.3 328.7 L1105.3 327.2 L1105.4 325.7 L1105.5 324.2 L1105.6 322.7 L1105.7 321.2 L1105.8 319.7 L1105.9 318.1 L1106.0 316.6 L1106.1 315.1 L1106.2 313.6 L1106.3 312.2 L1106.4 310.7 L1106.6 309.2 L1106.7 307.7 L1106.8 306.2 L1107.0 304.7 L1107.1 303.2 L1107.2 301.7 L1107.4 300.2 L1107.5 298.7 L1107.7 297.2 L1107.9 295.7 L1108.0 294.2 L1108.2 292.7 L1108.4 291.2 L1108.5 289.7 L1108.7 288.2 L1108.9 286.7 L1109.0 285.2 L1109.2 283.7 L1109.4 282.2 L1109.6 280.7 L1109.8 279.3 L1110.0 277.8 L1110.2 276.3 L1110.3 274.8 L1110.5 273.3 L1110.7 271.8 L1110.9 270.3 L1111.1 268.8 L1111.3 267.3 L1111.6 265.8 L1111.8 264.4 L1112.0 262.9 L1112.3 261.4 L1112.6 259.9 L1112.9 258.4 L1113.2 257.0 L1113.6 255.5 L1113.9 254.1 L1114.3 252.6 L1114.6 251.1 L1114.9 249.7 L1115.2 248.2 L1115.4 246.7 L1115.7 245.2 L1115.9 243.7 L1116.1 242.2 L1116.3 240.8 L1116.5 239.3 L1116.7 237.8 L1116.9 236.3 L1117.1 234.8 L1117.4 233.3 L1117.6 231.8 L1117.8 230.3 L1118.0 228.9 L1118.3 227.4 L1118.5 225.9 L1118.7 224.4 L1119.0 222.9 L1119.2 221.4 L1119.5 219.9 L1119.7 218.5 L1119.9 217.0 L1120.2 215.5 L1120.4 214.0 L1120.7 212.5 L1120.9 211.0 L1121.2 209.6 L1121.4 208.1 L1121.7 206.6 L1121.9 205.1 L1122.2 203.6 L1122.5 202.1 L1122.7 200.7 L1123.0 199.2 L1123.3 197.7 L1123.5 196.2 L1123.8 194.8 L1124.1 193.3 L1124.5 191.8 L1124.9 190.4 L1125.4 189.0 L1126.0 187.7 L1126.9 186.5 L1127.9 185.5 L1129.1 184.7 L1130.4 184.1 L1131.8 183.7 L1133.2 183.5 L1134.6 183.6 L1135.9 184.0 L1137.1 184.7 L1138.2 185.7 L1139.1 186.9 L1139.8 188.1 L1140.5 189.4 L1141.1 190.8 L1141.6 192.2 L1142.1 193.6 L1142.6 195.1 L1142.9 196.5 L1143.3 198.0 L1143.7 199.4 L1144.1 200.9 L1144.5 202.3 L1144.9 203.8 L1145.4 205.2 L1145.9 206.6 L1146.4 208.0 L1147.0 209.4 L1147.6 210.8 L1148.2 212.2 L1148.8 213.5 L1149.4 214.9 L1150.1 216.3 L1150.7 217.6 L1151.3 219.0 L1152.0 220.4 L1152.6 221.7 L1153.2 223.1 L1153.8 224.5 L1154.4 225.9 L1155.0 227.3 L1155.6 228.6 L1156.1 230.0 L1156.7 231.4 L1157.3 232.8 L1157.9 234.2 L1158.4 235.6 L1159.0 237.0 L1159.6 238.4 L1160.1 239.8 L1160.7 241.2 L1161.2 242.6 L1161.7 244.0 L1162.2 245.4 L1162.7 246.8 L1163.1 248.3 L1163.5 249.7 L1163.9 251.2 L1164.2 252.6 L1164.6 254.1 L1164.9 255.6 L1165.2 257.0 L1165.6 258.5 L1166.0 259.9 L1166.4 261.4 L1166.8 262.8 L1167.2 264.3 L1167.7 265.7 L1168.1 267.2 L1168.5 268.6 L1169.0 270.0 L1169.4 271.5 L1169.9 272.9 L1170.3 274.4 L1170.7 275.8 L1171.2 277.2 L1171.6 278.7 L1172.0 280.1 L1172.5 281.6 L1172.9 283.0 L1173.3 284.4 L1173.8 285.9 L1174.2 287.3 L1174.6 288.8 L1175.1 290.2 L1175.5 291.6 L1175.9 293.1 L1176.4 294.5 L1176.8 296.0 L1177.2 297.4 L1177.7 298.8 L1178.1 300.3 L1178.5 301.7 L1179.0 303.2 L1179.4 304.6 L1179.9 306.0 L1180.3 307.5 L1180.7 308.9 L1181.2 310.3 L1181.6 311.8 L1182.1 313.2 L1182.5 314.6 L1182.9 316.1 L1183.4 317.5 L1183.8 319.0 L1184.1 320.4 L1184.5 321.9 L1184.9 323.3 L1185.2 324.8 L1185.5 326.3 L1185.8 327.8 L1186.1 329.2 L1186.4 330.7 L1186.6 332.2 L1186.9 333.7 L1187.2 335.2 L1187.4 336.6 L1187.7 338.1 L1188.0 339.6 L1188.3 341.0 L1188.7 342.5 L1189.1 344.0 L1189.4 345.4 L1189.8 346.9 L1190.2 348.3 L1190.7 349.8 L1191.1 351.2 L1191.5 352.6 L1192.0 354.1 L1192.4 355.5 L1192.9 357.0 L1193.3 358.4 L1193.8 359.8 L1194.2 361.3 L1194.7 362.7 L1195.1 364.1 L1195.6 365.6 L1196.0 367.0 L1196.4 368.4 L1196.9 369.9 L1197.4 371.3 L1197.8 372.7 L1198.3 374.2 L1198.7 375.6 L1199.2 377.0 L1199.6 378.5 L1200.0 379.9 L1200.5 381.4 L1200.9 382.8 L1201.3 384.3 L1201.7 385.7 L1202.1 387.2 L1202.4 388.6 L1202.8 390.1 L1203.2 391.5 L1203.5 393.0 L1203.9 394.4 L1204.2 395.9 L1204.6 397.4 L1204.9 398.8 L1205.3 400.3 L1205.6 401.8 L1205.9 403.2 L1206.2 404.7 L1206.5 406.2 L1206.8 407.7 L1207.1 409.1 L1207.4 410.6 L1207.6 412.1 L1207.8 413.6 L1208.1 415.1 L1208.3 416.6 L1208.5 418.0 L1208.8 419.5 L1209.0 421.0 L1209.3 422.5 L1209.5 424.0 L1209.8 425.5 L1210.0 426.9 L1210.3 428.4 L1210.6 429.9 L1210.8 431.4 L1211.0 432.9 L1211.2 434.4 L1211.4 435.8 L1211.6 437.3 L1211.8 438.8 L1211.9 440.3 L1212.0 441.8 L1212.2 443.3 L1212.3 444.8 L1212.4 446.3 L1212.5 447.8 L1212.7 449.3 L1212.9 450.8 L1213.1 452.3 L1213.3 453.8 L1213.6 455.3 L1213.9 456.7 L1214.3 458.2 L1214.7 459.6 L1215.1 461.1 L1215.5 462.5 L1216.0 463.9 L1216.5 465.4 L1217.0 466.8 L1217.5 468.2 L1218.0 469.6 L1218.5 471.0 L1219.1 472.4 L1219.6 473.8 L1220.2 475.2 L1220.8 476.6 L1221.4 478.0 L1222.0 479.4 L1222.6 480.7 L1223.2 482.1 L1223.9 483.4 L1224.6 484.8 L1225.3 486.1 L1226.1 487.4 L1226.8 488.7 L1227.6 489.9 L1228.5 491.2 L1229.3 492.4 L1230.2 493.7 L1231.1 494.9 L1232.0 496.1 L1232.9 497.2 L1233.9 498.4 L1234.8 499.6 L1235.8 500.7 L1236.8 501.8 L1237.8 503.0 L1238.8 504.1 L1239.8 505.2 L1240.9 506.3 L1241.9 507.4 L1242.9 508.5 L1244.0 509.5 L1245.0 510.6 L1246.1 511.7 L1247.2 512.7 L1248.3 513.8 L1249.4 514.8 L1250.4 515.8 L1251.5 516.9 L1252.7 517.9 L1253.8 518.9 L1254.9 519.9 L1256.0 520.9 L1257.2 521.8 L1258.3 522.8 L1259.5 523.7 L1260.7 524.6 L1262.0 525.5 L1263.2 526.3 L1264.5 527.1 L1265.8 527.9 L1267.0 528.7 L1268.3 529.5 L1269.6 530.3 L1270.8 531.1 L1272.1 532.0 L1273.3 532.9 L1274.5 533.8 L1275.7 534.6 L1276.9 535.5 L1278.1 536.4 L1279.3 537.3 L1280.6 538.2 L1281.8 539.1 L1283.0 539.9 L1284.2 540.8 L1285.5 541.7 L1286.7 542.5 L1287.9 543.4 L1289.2 544.2 L1290.4 545.1 L1291.6 546.0 L1292.9 546.8 L1294.1 547.7 L1295.3 548.6 L1296.6 549.4 L1297.8 550.3 L1299.0 551.1 L1300.3 552.0 L1301.5 552.9 L1302.7 553.7 L1304.0 554.6 L1305.2 555.4 L1306.4 556.3 L1307.6 557.2 L1308.9 558.0 L1310.1 558.9 L1311.3 559.8 L1312.6 560.6 L1313.8 561.5 L1315.0 562.3 L1316.3 563.2 L1317.5 564.0 L1318.8 564.9 L1320.0 565.7 L1321.3 566.6 L1322.5 567.4 L1323.8 568.2 L1325.0 569.1 L1326.2 570.0 L1327.5 570.8 L1328.7 571.7 L1329.9 572.6 L1331.1 573.5 L1332.3 574.4 L1333.4 575.4 L1334.6 576.3 L1335.8 577.3 L1336.9 578.2 L1338.1 579.2 L1339.2 580.2 L1340.3 581.2 L1341.5 582.2 L1342.6 583.2 L1343.7 584.2 L1344.8 585.2 L1345.9 586.3 L1346.9 587.3 L1348.0 588.4 L1349.0 589.5 L1350.0 590.7 L1350.9 591.8 L1351.9 593.0 L1352.8 594.2 L1353.6 595.4 L1354.5 596.6 L1355.3 597.9 L1356.2 599.1 L1357.0 600.4 L1357.8 601.7 L1358.6 602.9 L1359.5 604.2 L1360.3 605.4 L1361.2 606.6 L1362.1 607.8 L1363.1 609.0 L1364.0 610.1 L1365.0 611.3 L1366.0 612.4 L1367.0 613.5 L1368.0 614.6 L1369.0 615.8 L1370.0 616.9 L1370.9 618.1 L1371.8 619.3 L1372.7 620.5 L1373.6 621.7 L1374.4 623.0 L1375.2 624.3 L1376.0 625.6 L1376.7 626.8 L1377.5 628.1 L1378.3 629.4 L1379.2 630.6 L1380.0 631.9 L1380.9 633.1 L1381.9 634.2 L1382.8 635.4 L1383.8 636.5 L1384.9 637.6 L1385.9 638.7 L1387.0 639.7 L1388.1 640.7 L1389.2 641.7 L1390.4 642.7 L1391.5 643.7 L1392.7 644.7 L1393.8 645.6 L1395.0 646.6 L1396.2 647.5 L1397.4 648.4 L1398.6 649.3 L1399.8 650.2 L1401.0 651.1 L1402.2 652.0 L1403.5 652.8 L1404.7 653.7 L1405.9 654.5 L1407.2 655.3 L1408.5 656.2 L1409.7 657.0 L1411.0 657.8 L1412.2 658.6 L1413.5 659.4 L1414.8 660.2 L1416.0 661.0 L1417.3 661.8 L1418.6 662.6 L1419.9 663.4 L1421.2 664.2 L1422.4 665.0 L1423.7 665.7 L1425.1 666.5 L1426.4 667.2 L1427.7 668.0 L1429.0 668.7 L1430.3 669.5 L1431.6 670.2 L1432.9 671.0 L1434.1 671.8 L1435.3 672.7 L1436.5 673.6 L1437.7 674.6 L1438.8 675.6 L1439.8 676.7 L1440.8 677.8 L1441.8 678.9 L1442.9 680.0 L1443.9 681.1 L1445.0 682.1 L1446.1 683.1 L1447.3 684.0 L1448.5 684.9 L1449.7 685.8 L1451.0 686.6 L1452.3 687.4 L1453.5 688.2 L1454.9 688.9 L1456.2 689.6 L1457.5 690.2 L1458.9 690.8 L1460.3 691.4 L1461.7 692.0 L1463.1 692.5 L1464.5 693.0 L1466.0 693.4 L1467.4 693.8 L1468.9 694.2 L1470.3 694.6 L1471.8 695.0 L1473.2 695.3 L1474.7 695.7 L1476.2 696.0 L1477.6 696.3 L1479.1 696.6 L1480.6 697.0 L1482.0 697.3 L1483.5 697.6 L1485.0 697.9 L1486.5 698.2 L1487.9 698.4 L1489.4 698.7 L1490.9 699.0 L1492.4 699.3 L1493.9 699.6 L1495.3 699.9 L1496.8 700.1 L1498.3 700.4 L1499.8 700.7 L1501.2 700.9 L1502.7 701.2 L1504.2 701.5 L1505.7 701.7 L1507.2 702.0 L1508.6 702.2 L1510.1 702.5 L1511.6 702.8 L1513.1 703.0 L1514.6 703.3 L1516.1 703.5 L1517.5 703.8 L1519.0 704.0 L1520.5 704.3 L1522.0 704.5 L1523.5 704.8 L1524.9 705.1 L1526.4 705.3 L1527.9 705.6 L1529.4 705.8 L1530.9 706.1 L1532.4 706.3 L1533.8 706.6 L1535.3 706.8 L1536.8 707.1" stroke="#a8a8a8" stroke-width="6.2" fill="none" stroke-linejoin="round" stroke-linecap="round"/>
<path d="M1046.8 690.0 L1047.8 688.9 L1048.8 687.7 L1049.8 686.6 L1050.8 685.5 L1051.8 684.5 L1052.9 683.5 L1054.0 682.5 L1055.1 681.5 L1056.0 680.3 L1056.8 679.1 L1057.5 677.8 L1058.1 676.4 L1058.7 675.1 L1059.3 673.7 L1059.9 672.3 L1060.4 670.9 L1061.0 669.5 L1061.5 668.1 L1062.0 666.6 L1062.5 665.2 L1063.0 663.8 L1063.4 662.4 L1063.9 660.9 L1064.3 659.5 L1064.7 658.0 L1065.1 656.6 L1065.5 655.1 L1065.8 653.7 L1066.1 652.2 L1066.5 650.7 L1066.8 649.3 L1067.1 647.8 L1067.4 646.3 L1067.6 644.8 L1067.9 643.4 L1068.1 641.9 L1068.4 640.4 L1068.6 638.9 L1068.9 637.4 L1069.1 635.9 L1069.3 634.5 L1069.5 633.0 L1069.8 631.5 L1070.0 630.0 L1070.2 628.5 L1070.4 627.0 L1070.6 625.5 L1070.8 624.0 L1071.1 622.5 L1071.3 621.1 L1071.5 619.6 L1071.7 618.1 L1071.9 616.6 L1072.1 615.1 L1072.4 613.6 L1072.6 612.1 L1072.8 610.6 L1073.0 609.2 L1073.2 607.7 L1073.4 606.2 L1073.6 604.7 L1073.8 603.2 L1074.0 601.7 L1074.2 600.2 L1074.4 598.7 L1074.6 597.2 L1074.8 595.7 L1075.0 594.3 L1075.2 592.8 L1075.4 591.3 L1075.6 589.8 L1075.8 588.3 L1076.0 586.8 L1076.2 585.3 L1076.4 583.8 L1076.6 582.3 L1076.8 580.8 L1077.0 579.4 L1077.2 577.9 L1077.4 576.4 L1077.6 574.9 L1077.8 573.4 L1078.0 571.9 L1078.2 570.4 L1078.4 568.9 L1078.6 567.4 L1078.8 565.9 L1079.0 564.4 L1079.2 563.0 L1079.4 561.5 L1079.6 560.0 L1079.8 558.5 L1080.0 557.0 L1080.2 555.5 L1080.4 554.0 L1080.6 552.5 L1080.8 551.0 L1081.1 549.6 L1081.3 548.1 L1081.5 546.6 L1081.7 545.1 L1081.9 543.6 L1082.1 542.1 L1082.3 540.6 L1082.5 539.1 L1082.7 537.6 L1082.9 536.1 L1083.1 534.7 L1083.3 533.2 L1083.5 531.7 L1083.7 530.2 L1083.9 528.7 L1084.1 527.2 L1084.3 525.7 L1084.5 524.2 L1084.7 522.7 L1084.9 521.2 L1085.1 519.8 L1085.3 518.3 L1085.5 516.8 L1085.7 515.3 L1085.9 513.8 L1086.1 512.3 L1086.3 510.8 L1086.5 509.3 L1086.7 507.8 L1086.9 506.3 L1087.1 504.8 L1087.2 503.4 L1087.4 501.9 L1087.6 500.4 L1087.8 498.9 L1087.9 497.4 L1088.1 495.9 L1088.3 494.4 L1088.4 492.9 L1088.6 491.4 L1088.8 489.9 L1088.9 488.4 L1089.1 486.9 L1089.2 485.4 L1089.4 483.9 L1089.5 482.4 L1089.7 480.9 L1089.8 479.4 L1090.0 477.9 L1090.1 476.4 L1090.3 474.9 L1090.4 473.4 L1090.5 472.0 L1090.7 470.5 L1090.8 469.0 L1091.0 467.5 L1091.1 466.0 L1091.2 464.5 L1091.4 463.0 L1091.5 461.5 L1091.7 460.0 L1091.8 458.5 L1092.0 457.0 L1092.1 455.5 L1092.2 454.0 L1092.4 452.5 L1092.5 451.0 L1092.7 449.5 L1092.8 448.0 L1093.0 446.5 L1093.1 445.0 L1093.3 443.5 L1093.4 442.0 L1093.6 440.5 L1093.7 439.0 L1093.9 437.5 L1094.0 436.0 L1094.1 434.5 L1094.3 433.0 L1094.4 431.5 L1094.6 430.0 L1094.7 428.5 L1094.9 427.1 L1095.0 425.6 L1095.2 424.1 L1095.3 422.6 L1095.5 421.1 L1095.6 419.6 L1095.8 418.1 L1095.9 416.6 L1096.1 415.1 L1096.2 413.6 L1096.4 412.1 L1096.5 410.6 L1096.7 409.1 L1096.9 407.6 L1097.0 406.1 L1097.2 404.6 L1097.4 403.1 L1097.5 401.6 L1097.7 400.1 L1097.9 398.6 L1098.1 397.2 L1098.3 395.7 L1098.5 394.2 L1098.7 392.7 L1098.9 391.2 L1099.0 389.7 L1099.2 388.2 L1099.4 386.7 L1099.6 385.2 L1099.9 383.7 L1100.1 382.2 L1100.3 380.8 L1100.5 379.3 L1100.7 377.8 L1100.9 376.3 L1101.1 374.8 L1101.2 373.3 L1101.4 371.8 L1101.6 370.3 L1101.8 368.8 L1102.0 367.3 L1102.2 365.8 L1102.4 364.4 L1102.5 362.9 L1102.7 361.4 L1102.9 359.9 L1103.0 358.4 L1103.2 356.9 L1103.3 355.4 L1103.5 353.9 L1103.6 352.4 L1103.8 350.9 L1103.9 349.4 L1104.0 347.9 L1104.1 346.4 L1104.2 344.9 L1104.3 343.4 L1104.4 341.9 L1104.5 340.4 L1104.6 338.9 L1104.7 337.4 L1104.8 335.9 L1104.9 334.4 L1105.0 332.9 L1105.1 331.4 L1105.2 329.9 L1105.3 328.4 L1105.4 326.9 L1105.5 325.4 L1105.5 323.9 L1105.6 322.4 L1105.7 320.9 L1105.8 319.4 L1105.9 317.9 L1106.0 316.4 L1106.1 314.9 L1106.2 313.4 L1106.3 311.9 L1106.5 310.4 L1106.6 308.9 L1106.7 307.4 L1106.8 305.9 L1107.0 304.4 L1107.1 302.9 L1107.3 301.4 L1107.4 299.9 L1107.6 298.4 L1107.7 296.9 L1107.9 295.4 L1108.1 293.9 L1108.2 292.4 L1108.4 290.9 L1108.6 289.4 L1108.7 287.9 L1108.9 286.5 L1109.1 285.0 L1109.3 283.5 L1109.4 282.0 L1109.6 280.5 L1109.8 279.0 L1110.0 277.5 L1110.2 276.0 L1110.4 274.5 L1110.6 273.0 L1110.8 271.5 L1111.0 270.0 L1111.2 268.6 L1111.4 267.1 L1111.6 265.6 L1111.8 264.1 L1112.1 262.6 L1112.3 261.1 L1112.6 259.7 L1112.9 258.2 L1113.3 256.7 L1113.6 255.3 L1114.0 253.8 L1114.4 252.3 L1114.7 250.9 L1115.0 249.4 L1115.2 247.9 L1115.5 246.4 L1115.7 245.0 L1115.9 243.5 L1116.1 242.0 L1116.3 240.5 L1116.6 239.0 L1116.8 237.5 L1117.0 236.0 L1117.2 234.5 L1117.4 233.0 L1117.6 231.6 L1117.9 230.1 L1118.1 228.6 L1118.3 227.1 L1118.6 225.6 L1118.8 224.1 L1119.0 222.6 L1119.3 221.2 L1119.5 219.7 L1119.7 218.2 L1120.0 216.7 L1120.2 215.2 L1120.5 213.7 L1120.7 212.3 L1121.0 210.8 L1121.2 209.3 L1121.5 207.8 L1121.7 206.3 L1122.0 204.8 L1122.2 203.4 L1122.5 201.9 L1122.8 200.4 L1123.0 198.9 L1123.3 197.4 L1123.6 196.0 L1123.9 194.5 L1124.2 193.0 L1124.5 191.6 L1125.0 190.1 L1125.5 188.8 L1126.2 187.5 L1127.0 186.3 L1128.1 185.4 L1129.3 184.6 L1130.7 184.0 L1132.0 183.6 L1133.5 183.5 L1134.8 183.6 L1136.1 184.1 L1137.3 184.9 L1138.3 185.9 L1139.2 187.1 L1140.0 188.4 L1140.6 189.7 L1141.2 191.1 L1141.7 192.5 L1142.2 193.9 L1142.6 195.3 L1143.0 196.8 L1143.4 198.2 L1143.8 199.7 L1144.2 201.2 L1144.6 202.6 L1145.0 204.0 L1145.5 205.5 L1146.0 206.9 L1146.5 208.3 L1147.1 209.7 L1147.7 211.0 L1148.3 212.4 L1148.9 213.8 L1149.6 215.2 L1150.2 216.5 L1150.8 217.9 L1151.5 219.3 L1152.1 220.6 L1152.7 222.0 L1153.3 223.4 L1153.9 224.7 L1154.5 226.1 L1155.1 227.5 L1155.7 228.9 L1156.2 230.3 L1156.8 231.7 L1157.4 233.1 L1158.0 234.5 L1158.5 235.8 L1159.1 237.2 L1159.7 238.6 L1160.2 240.0 L1160.8 241.4 L1161.3 242.8 L1161.8 244.3 L1162.3 245.7 L1162.8 247.1 L1163.2 248.5 L1163.6 250.0 L1164.0 251.4 L1164.3 252.9 L1164.6 254.4 L1165.0 255.8 L1165.3 257.3 L1165.7 258.8 L1166.1 260.2 L1166.5 261.7 L1166.9 263.1 L1167.3 264.5 L1167.7 266.0 L1168.2 267.4 L1168.6 268.9 L1169.1 270.3 L1169.5 271.7 L1169.9 273.2 L1170.4 274.6 L1170.8 276.1 L1171.2 277.5 L1171.7 278.9 L1172.1 280.4 L1172.5 281.8 L1173.0 283.3 L1173.4 284.7 L1173.8 286.1 L1174.3 287.6 L1174.7 289.0 L1175.1 290.5 L1175.6 291.9 L1176.0 293.3 L1176.4 294.8 L1176.9 296.2 L1177.3 297.7 L1177.7 299.1 L1178.2 300.5 L1178.6 302.0 L1179.0 303.4 L1179.5 304.8 L1179.9 306.3 L1180.4 307.7 L1180.8 309.2 L1181.3 310.6 L1181.7 312.0 L1182.2 313.5 L1182.6 314.9 L1183.0 316.3 L1183.4 317.8 L1183.8 319.2 L1184.2 320.7 L1184.6 322.2 L1184.9 323.6 L1185.3 325.1 L1185.6 326.6 L1185.9 328.0 L1186.1 329.5 L1186.4 331.0 L1186.7 332.5 L1186.9 333.9 L1187.2 335.4 L1187.5 336.9 L1187.8 338.4 L1188.1 339.8 L1188.4 341.3 L1188.8 342.8 L1189.1 344.2 L1189.5 345.7 L1189.9 347.1 L1190.3 348.6 L1190.7 350.0 L1191.2 351.5 L1191.6 352.9 L1192.0 354.3 L1192.5 355.8 L1192.9 357.2 L1193.4 358.6 L1193.9 360.1 L1194.3 361.5 L1194.7 363.0 L1195.2 364.4 L1195.6 365.8 L1196.1 367.3 L1196.5 368.7 L1197.0 370.1 L1197.4 371.6 L1197.9 373.0 L1198.3 374.4 L1198.8 375.9 L1199.2 377.3 L1199.7 378.7 L1200.1 380.2 L1200.5 381.6 L1200.9 383.1 L1201.4 384.5 L1201.7 386.0 L1202.1 387.4 L1202.5 388.9 L1202.9 390.3 L1203.2 391.8 L1203.6 393.3 L1203.9 394.7 L1204.3 396.2 L1204.6 397.6 L1205.0 399.1 L1205.3 400.6 L1205.6 402.0 L1206.0 403.5 L1206.3 405.0 L1206.6 406.5 L1206.9 407.9 L1207.2 409.4 L1207.4 410.9 L1207.7 412.4 L1208.0 413.8 L1208.2 415.3 L1208.5 416.8 L1208.7 418.3 L1209.0 419.8 L1209.2 421.2 L1209.5 422.7 L1209.8 424.2 L1210.1 425.7 L1210.4 427.2 L1210.6 428.6 L1210.9 430.1 L1211.2 431.6 L1211.5 433.1 L1211.8 434.5 L1212.0 436.0 L1212.3 437.5 L1212.5 439.0 L1212.8 440.5 L1213.1 441.9 L1213.3 443.4 L1213.6 444.9 L1213.9 446.4 L1214.3 447.8 L1214.6 449.3 L1215.0 450.8 L1215.4 452.2 L1215.9 453.6 L1216.4 455.0 L1216.9 456.4 L1217.5 457.8 L1218.1 459.2 L1218.7 460.6 L1219.4 461.9 L1220.1 463.3 L1220.8 464.6 L1221.5 465.9 L1222.2 467.2 L1223.0 468.5 L1223.7 469.8 L1224.6 471.1 L1225.4 472.3 L1226.3 473.6 L1227.1 474.8 L1228.0 476.0 L1229.0 477.2 L1229.9 478.4 L1230.8 479.5 L1231.7 480.7 L1232.7 481.9 L1233.7 483.0 L1234.6 484.2 L1235.6 485.3 L1236.6 486.4 L1237.7 487.5 L1238.7 488.6 L1239.8 489.6 L1240.9 490.7 L1242.0 491.7 L1243.1 492.7 L1244.3 493.6 L1245.5 494.5 L1246.7 495.4 L1248.0 496.2 L1249.3 496.9 L1250.6 497.6 L1252.0 498.3 L1253.3 498.9 L1254.7 499.5 L1256.1 500.0 L1257.6 500.5 L1259.0 500.9 L1260.4 501.3 L1261.9 501.7 L1263.4 502.0 L1264.8 502.3 L1266.3 502.6 L1267.8 502.8 L1269.3 503.1 L1270.8 503.2 L1272.3 503.4 L1273.8 503.5 L1275.3 503.6 L1276.8 503.6 L1278.3 503.6 L1279.8 503.6 L1281.3 503.6 L1282.8 503.6 L1284.3 503.5 L1285.8 503.4 L1287.3 503.3 L1288.8 503.1 L1290.3 503.0 L1291.8 502.8 L1293.3 502.7 L1294.8 502.6 L1296.3 502.5 L1297.8 502.5 L1299.3 502.5 L1300.8 502.5 L1302.3 502.6 L1303.8 502.8 L1305.3 502.9 L1306.7 503.1 L1308.2 503.4 L1309.7 503.7 L1311.2 504.0 L1312.6 504.4 L1314.0 504.9 L1315.4 505.5 L1316.7 506.2 L1317.9 507.0 L1319.1 507.9 L1320.3 508.9 L1321.4 509.8 L1322.6 510.8 L1323.8 511.7 L1325.0 512.6 L1326.3 513.4 L1327.6 514.1 L1328.9 514.9 L1330.2 515.5 L1331.5 516.2 L1332.9 516.9 L1334.2 517.7 L1335.4 518.5 L1336.6 519.4 L1337.8 520.3 L1338.9 521.3 L1339.9 522.4 L1340.9 523.6 L1341.9 524.7 L1342.8 525.9 L1343.7 527.1 L1344.6 528.3 L1345.5 529.5 L1346.4 530.7 L1347.3 531.9 L1348.3 533.1 L1349.2 534.2 L1350.1 535.4 L1351.0 536.6 L1351.9 537.9 L1352.7 539.1 L1353.5 540.4 L1354.2 541.7 L1354.9 543.0 L1355.6 544.4 L1356.2 545.8 L1356.8 547.1 L1357.4 548.5 L1358.0 549.9 L1358.6 551.3 L1359.1 552.7 L1359.7 554.1 L1360.3 555.5 L1360.8 556.9 L1361.4 558.3 L1362.0 559.7 L1362.5 561.0 L1363.1 562.4 L1363.7 563.8 L1364.4 565.2 L1365.0 566.5 L1365.6 567.9 L1366.3 569.2 L1367.0 570.6 L1367.6 571.9 L1368.3 573.3 L1369.0 574.6 L1369.7 575.9 L1370.4 577.3 L1371.1 578.6 L1371.8 579.9 L1372.6 581.2 L1373.3 582.5 L1374.0 583.8 L1374.8 585.1 L1375.6 586.4 L1376.4 587.7 L1377.2 589.0 L1378.0 590.2 L1378.8 591.5 L1379.7 592.7 L1380.6 593.9 L1381.5 595.1 L1382.4 596.3 L1383.3 597.5 L1384.2 598.7 L1385.2 599.9 L1386.2 601.0 L1387.1 602.2 L1388.1 603.3 L1389.0 604.5 L1390.0 605.6 L1391.0 606.8 L1391.9 608.0 L1392.9 609.1 L1393.9 610.3 L1394.8 611.4 L1395.8 612.5 L1396.8 613.6 L1397.8 614.8 L1398.9 615.9 L1399.9 616.9 L1401.0 618.0 L1402.0 619.1 L1403.1 620.1 L1404.2 621.1 L1405.3 622.2 L1406.4 623.2 L1407.6 624.2 L1408.7 625.1 L1409.8 626.1 L1411.0 627.1 L1412.1 628.1 L1413.2 629.1 L1414.4 630.1 L1415.5 631.1 L1416.6 632.1 L1417.7 633.1 L1418.8 634.2 L1419.9 635.2 L1420.9 636.3 L1422.0 637.4 L1423.0 638.4 L1424.1 639.5 L1425.1 640.6 L1426.2 641.6 L1427.3 642.6 L1428.4 643.6 L1429.6 644.6 L1430.7 645.6 L1431.9 646.5 L1433.1 647.4 L1434.3 648.4 L1435.4 649.3 L1436.5 650.4 L1437.5 651.5 L1438.5 652.6 L1439.3 653.8 L1440.1 655.1 L1440.9 656.4 L1441.7 657.7 L1442.5 658.9 L1443.4 660.1 L1444.3 661.3 L1445.3 662.4 L1446.4 663.5 L1447.5 664.5 L1448.6 665.5 L1449.7 666.5 L1450.8 667.5 L1452.0 668.4 L1453.2 669.4 L1454.3 670.3 L1455.5 671.2 L1456.7 672.1 L1457.9 673.0 L1459.2 673.9 L1460.4 674.7 L1461.7 675.5 L1463.0 676.3 L1464.3 677.0 L1465.7 677.7 L1467.0 678.3 L1468.4 678.9 L1469.8 679.4 L1471.2 680.0 L1472.6 680.5 L1474.0 680.9 L1475.5 681.4 L1476.9 681.9 L1478.3 682.4 L1479.7 682.9 L1481.2 683.4 L1482.6 683.9 L1484.0 684.4 L1485.4 684.8 L1486.9 685.3 L1488.3 685.8 L1489.7 686.3 L1491.1 686.7 L1492.6 687.2 L1494.0 687.7 L1495.4 688.2 L1496.8 688.6 L1498.3 689.1 L1499.7 689.6 L1501.1 690.0 L1502.6 690.5 L1504.0 691.0 L1505.4 691.4 L1506.8 691.9 L1508.3 692.4 L1509.7 692.9 L1511.1 693.3 L1512.6 693.8 L1514.0 694.3 L1515.4 694.8 L1516.8 695.2 L1518.3 695.7 L1519.7 696.2 L1521.1 696.7 L1522.5 697.1 L1524.0 697.6 L1525.4 698.1 L1526.8 698.6 L1528.2 699.0 L1529.7 699.5 L1531.1 700.0 L1532.5 700.5 L1533.9 700.9 L1535.4 701.4 L1536.8 701.9" stroke="#808080" stroke-width="6.2" fill="none" stroke-linejoin="round" stroke-linecap="round"/>
<path d="M1046.8 703.5 L1047.4 702.1 L1048.1 700.8 L1048.7 699.4 L1049.3 698.0 L1049.9 696.7 L1050.6 695.3 L1051.2 693.9 L1051.7 692.5 L1052.3 691.2 L1052.9 689.8 L1053.5 688.4 L1054.0 687.0 L1054.6 685.6 L1055.1 684.2 L1055.6 682.8 L1056.1 681.4 L1056.7 679.9 L1057.2 678.5 L1057.7 677.1 L1058.3 675.7 L1058.8 674.3 L1059.4 672.9 L1059.9 671.5 L1060.5 670.1 L1061.0 668.7 L1061.6 667.3 L1062.1 665.9 L1062.6 664.5 L1063.1 663.1 L1063.6 661.7 L1064.0 660.2 L1064.5 658.8 L1064.9 657.4 L1065.3 655.9 L1065.6 654.4 L1066.0 653.0 L1066.3 651.5 L1066.6 650.0 L1066.9 648.6 L1067.2 647.1 L1067.5 645.6 L1067.7 644.1 L1068.0 642.7 L1068.3 641.2 L1068.5 639.7 L1068.7 638.2 L1069.0 636.7 L1069.2 635.2 L1069.4 633.8 L1069.6 632.3 L1069.9 630.8 L1070.1 629.3 L1070.3 627.8 L1070.5 626.3 L1070.7 624.8 L1070.9 623.3 L1071.2 621.9 L1071.4 620.4 L1071.6 618.9 L1071.8 617.4 L1072.0 615.9 L1072.2 614.4 L1072.5 612.9 L1072.7 611.5 L1072.9 610.0 L1073.1 608.5 L1073.3 607.0 L1073.5 605.5 L1073.7 604.0 L1073.9 602.5 L1074.1 601.0 L1074.3 599.5 L1074.5 598.1 L1074.7 596.6 L1074.9 595.1 L1075.1 593.6 L1075.3 592.1 L1075.5 590.6 L1075.7 589.1 L1075.9 587.6 L1076.1 586.1 L1076.3 584.6 L1076.5 583.2 L1076.7 581.7 L1076.9 580.2 L1077.1 578.7 L1077.3 577.2 L1077.5 575.7 L1077.7 574.2 L1077.9 572.7 L1078.1 571.2 L1078.3 569.7 L1078.5 568.3 L1078.7 566.8 L1078.9 565.3 L1079.1 563.8 L1079.3 562.3 L1079.5 560.8 L1079.7 559.3 L1079.9 557.8 L1080.1 556.3 L1080.3 554.9 L1080.5 553.4 L1080.7 551.9 L1080.9 550.4 L1081.1 548.9 L1081.3 547.4 L1081.6 545.9 L1081.8 544.4 L1082.0 542.9 L1082.2 541.5 L1082.4 540.0 L1082.6 538.5 L1082.8 537.0 L1083.0 535.5 L1083.2 534.0 L1083.4 532.5 L1083.6 531.0 L1083.8 529.5 L1084.0 528.1 L1084.2 526.6 L1084.4 525.1 L1084.6 523.6 L1084.8 522.1 L1085.0 520.6 L1085.2 519.1 L1085.4 517.6 L1085.6 516.1 L1085.8 514.6 L1086.0 513.2 L1086.2 511.7 L1086.4 510.2 L1086.6 508.7 L1086.8 507.2 L1086.9 505.7 L1087.1 504.2 L1087.3 502.7 L1087.5 501.2 L1087.7 499.7 L1087.8 498.2 L1088.0 496.7 L1088.2 495.3 L1088.4 493.8 L1088.5 492.3 L1088.7 490.8 L1088.8 489.3 L1089.0 487.8 L1089.1 486.3 L1089.3 484.8 L1089.5 483.3 L1089.6 481.8 L1089.7 480.3 L1089.9 478.8 L1090.0 477.3 L1090.2 475.8 L1090.3 474.3 L1090.5 472.8 L1090.6 471.3 L1090.7 469.8 L1090.9 468.3 L1091.0 466.8 L1091.2 465.3 L1091.3 463.8 L1091.4 462.3 L1091.6 460.8 L1091.7 459.4 L1091.9 457.9 L1092.0 456.4 L1092.2 454.9 L1092.3 453.4 L1092.5 451.9 L1092.6 450.4 L1092.7 448.9 L1092.9 447.4 L1093.0 445.9 L1093.2 444.4 L1093.3 442.9 L1093.5 441.4 L1093.6 439.9 L1093.8 438.4 L1093.9 436.9 L1094.1 435.4 L1094.2 433.9 L1094.3 432.4 L1094.5 430.9 L1094.6 429.4 L1094.8 427.9 L1094.9 426.4 L1095.1 424.9 L1095.2 423.5 L1095.4 422.0 L1095.5 420.5 L1095.7 419.0 L1095.8 417.5 L1096.0 416.0 L1096.1 414.5 L1096.3 413.0 L1096.5 411.5 L1096.6 410.0 L1096.8 408.5 L1096.9 407.0 L1097.1 405.5 L1097.3 404.0 L1097.4 402.5 L1097.6 401.0 L1097.8 399.5 L1098.0 398.1 L1098.2 396.6 L1098.4 395.1 L1098.5 393.6 L1098.7 392.1 L1098.9 390.6 L1099.1 389.1 L1099.3 387.6 L1099.5 386.1 L1099.7 384.6 L1099.9 383.1 L1100.1 381.7 L1100.3 380.2 L1100.5 378.7 L1100.7 377.2 L1100.9 375.7 L1101.1 374.2 L1101.3 372.7 L1101.5 371.2 L1101.7 369.7 L1101.9 368.2 L1102.1 366.8 L1102.3 365.3 L1102.4 363.8 L1102.6 362.3 L1102.8 360.8 L1102.9 359.3 L1103.1 357.8 L1103.3 356.3 L1103.4 354.8 L1103.5 353.3 L1103.7 351.8 L1103.8 350.3 L1103.9 348.8 L1104.1 347.3 L1104.2 345.8 L1104.3 344.3 L1104.4 342.8 L1104.5 341.3 L1104.6 339.8 L1104.7 338.3 L1104.8 336.8 L1104.9 335.3 L1105.0 333.8 L1105.0 332.3 L1105.1 330.8 L1105.2 329.3 L1105.3 327.8 L1105.4 326.3 L1105.5 324.8 L1105.6 323.3 L1105.7 321.8 L1105.8 320.3 L1105.9 318.8 L1106.0 317.3 L1106.1 315.8 L1106.2 314.3 L1106.3 312.8 L1106.4 311.3 L1106.5 309.8 L1106.6 308.3 L1106.8 306.8 L1106.9 305.3 L1107.0 303.8 L1107.2 302.3 L1107.3 300.8 L1107.5 299.3 L1107.6 297.9 L1107.8 296.4 L1107.9 294.9 L1108.1 293.4 L1108.3 291.9 L1108.4 290.4 L1108.6 288.9 L1108.8 287.4 L1109.0 285.9 L1109.1 284.4 L1109.3 282.9 L1109.5 281.4 L1109.7 279.9 L1109.9 278.4 L1110.1 277.0 L1110.3 275.5 L1110.5 274.0 L1110.6 272.5 L1110.8 271.0 L1111.0 269.5 L1111.3 268.0 L1111.5 266.5 L1111.7 265.0 L1111.9 263.6 L1112.2 262.1 L1112.4 260.6 L1112.7 259.1 L1113.1 257.7 L1113.4 256.2 L1113.8 254.7 L1114.1 253.3 L1114.5 251.8 L1114.8 250.3 L1115.1 248.9 L1115.3 247.4 L1115.6 245.9 L1115.8 244.4 L1116.0 242.9 L1116.2 241.4 L1116.4 240.0 L1116.6 238.5 L1116.8 237.0 L1117.0 235.5 L1117.3 234.0 L1117.5 232.5 L1117.7 231.0 L1117.9 229.5 L1118.2 228.1 L1118.4 226.6 L1118.6 225.1 L1118.9 223.6 L1119.1 222.1 L1119.3 220.6 L1119.6 219.2 L1119.8 217.7 L1120.1 216.2 L1120.3 214.7 L1120.6 213.2 L1120.8 211.7 L1121.1 210.3 L1121.3 208.8 L1121.6 207.3 L1121.8 205.8 L1122.1 204.3 L1122.3 202.9 L1122.6 201.4 L1122.9 199.9 L1123.1 198.4 L1123.4 196.9 L1123.7 195.5 L1124.0 194.0 L1124.3 192.5 L1124.7 191.1 L1125.1 189.7 L1125.7 188.3 L1126.4 187.1 L1127.4 186.0 L1128.5 185.1 L1129.8 184.4 L1131.1 183.8 L1132.5 183.5 L1133.9 183.5 L1135.3 183.8 L1136.6 184.4 L1137.7 185.2 L1138.6 186.3 L1139.5 187.5 L1140.2 188.8 L1140.8 190.1 L1141.4 191.5 L1141.9 192.9 L1142.3 194.4 L1142.8 195.8 L1143.1 197.3 L1143.5 198.7 L1143.9 200.2 L1144.3 201.6 L1144.7 203.1 L1145.2 204.5 L1145.7 205.9 L1146.2 207.3 L1146.7 208.7 L1147.3 210.1 L1147.9 211.5 L1148.5 212.9 L1149.1 214.2 L1149.8 215.6 L1150.4 217.0 L1151.0 218.3 L1151.7 219.7 L1152.3 221.1 L1152.9 222.4 L1153.5 223.8 L1154.1 225.2 L1154.7 226.6 L1155.3 228.0 L1155.9 229.3 L1156.4 230.7 L1157.0 232.1 L1157.6 233.5 L1158.2 234.9 L1158.7 236.3 L1159.3 237.7 L1159.8 239.1 L1160.4 240.5 L1160.9 241.9 L1161.5 243.3 L1162.0 244.7 L1162.5 246.1 L1162.9 247.6 L1163.3 249.0 L1163.7 250.4 L1164.1 251.9 L1164.4 253.4 L1164.7 254.8 L1165.1 256.3 L1165.4 257.8 L1165.8 259.2 L1166.2 260.7 L1166.6 262.1 L1167.0 263.6 L1167.5 265.0 L1167.9 266.4 L1168.3 267.9 L1168.8 269.3 L1169.2 270.7 L1169.6 272.2 L1170.1 273.6 L1170.5 275.1 L1170.9 276.5 L1171.4 277.9 L1171.8 279.4 L1172.2 280.8 L1172.7 282.3 L1173.1 283.7 L1173.5 285.1 L1174.0 286.6 L1174.4 288.0 L1174.8 289.5 L1175.3 290.9 L1175.7 292.3 L1176.1 293.8 L1176.6 295.2 L1177.0 296.7 L1177.4 298.1 L1177.9 299.5 L1178.3 301.0 L1178.7 302.4 L1179.2 303.8 L1179.6 305.3 L1180.1 306.7 L1180.5 308.1 L1181.0 309.6 L1181.4 311.0 L1181.9 312.5 L1182.3 313.9 L1182.7 315.3 L1183.1 316.8 L1183.5 318.2 L1183.9 319.7 L1184.3 321.1 L1184.7 322.6 L1185.0 324.0 L1185.3 325.5 L1185.7 327.0 L1185.9 328.5 L1186.2 329.9 L1186.5 331.4 L1186.8 332.9 L1187.0 334.4 L1187.3 335.9 L1187.6 337.3 L1187.9 338.8 L1188.2 340.3 L1188.5 341.7 L1188.9 343.2 L1189.2 344.7 L1189.6 346.1 L1190.0 347.6 L1190.4 349.0 L1190.9 350.4 L1191.3 351.9 L1191.7 353.3 L1192.2 354.8 L1192.6 356.2 L1193.1 357.6 L1193.5 359.1 L1194.0 360.5 L1194.4 361.9 L1194.9 363.4 L1195.3 364.8 L1195.8 366.2 L1196.2 367.7 L1196.7 369.1 L1197.1 370.5 L1197.6 372.0 L1198.0 373.4 L1198.5 374.8 L1198.9 376.3 L1199.4 377.7 L1199.8 379.1 L1200.2 380.6 L1200.6 382.0 L1201.1 383.5 L1201.5 384.9 L1201.8 386.4 L1202.2 387.8 L1202.6 389.3 L1203.0 390.7 L1203.3 392.2 L1203.7 393.7 L1204.0 395.1 L1204.3 396.6 L1204.7 398.1 L1205.0 399.5 L1205.3 401.0 L1205.7 402.5 L1206.0 403.9 L1206.4 405.4 L1206.7 406.8 L1207.0 408.3 L1207.4 409.8 L1207.7 411.2 L1208.1 412.7 L1208.4 414.2 L1208.8 415.6 L1209.1 417.1 L1209.5 418.5 L1209.8 420.0 L1210.2 421.5 L1210.6 422.9 L1211.0 424.4 L1211.4 425.8 L1211.8 427.2 L1212.3 428.7 L1212.8 430.1 L1213.3 431.5 L1213.8 432.9 L1214.3 434.3 L1214.9 435.7 L1215.5 437.1 L1216.1 438.5 L1216.7 439.8 L1217.3 441.2 L1218.0 442.6 L1218.7 443.9 L1219.4 445.2 L1220.1 446.6 L1220.8 447.9 L1221.6 449.2 L1222.4 450.4 L1223.2 451.7 L1224.1 452.9 L1225.0 454.1 L1225.9 455.3 L1226.8 456.5 L1227.8 457.6 L1228.8 458.7 L1229.8 459.8 L1230.9 460.9 L1231.9 462.0 L1233.0 463.0 L1234.1 464.1 L1235.3 465.0 L1236.4 465.9 L1237.6 466.8 L1238.9 467.6 L1240.2 468.4 L1241.5 469.1 L1242.9 469.7 L1244.3 470.3 L1245.7 470.8 L1247.1 471.3 L1248.5 471.7 L1250.0 472.1 L1251.5 472.4 L1252.9 472.7 L1254.4 472.9 L1255.9 473.1 L1257.4 473.2 L1258.9 473.2 L1260.4 473.1 L1261.8 472.8 L1263.2 472.4 L1264.6 471.8 L1265.9 471.1 L1267.1 470.3 L1268.4 469.4 L1269.6 468.5 L1270.8 467.7 L1272.1 466.9 L1273.4 466.1 L1274.6 465.2 L1275.8 464.4 L1277.1 463.5 L1278.2 462.6 L1279.4 461.6 L1280.4 460.5 L1281.5 459.5 L1282.5 458.4 L1283.6 457.3 L1284.6 456.2 L1285.6 455.1 L1286.7 454.1 L1287.8 453.0 L1288.9 452.0 L1290.0 451.0 L1291.1 450.0 L1292.3 449.1 L1293.5 448.1 L1294.7 447.2 L1295.9 446.3 L1297.1 445.5 L1298.4 444.7 L1299.7 444.0 L1301.1 443.5 L1302.5 443.0 L1304.0 442.6 L1305.4 442.2 L1306.9 442.0 L1308.4 441.8 L1309.9 441.7 L1311.4 441.6 L1312.9 441.6 L1314.4 441.7 L1315.9 441.8 L1317.4 442.0 L1318.8 442.2 L1320.3 442.6 L1321.7 443.0 L1323.1 443.5 L1324.6 444.0 L1326.0 444.5 L1327.4 445.0 L1328.8 445.6 L1330.2 446.1 L1331.6 446.7 L1332.9 447.4 L1334.2 448.1 L1335.4 449.0 L1336.6 449.9 L1337.7 450.9 L1338.7 452.0 L1339.6 453.2 L1340.5 454.4 L1341.3 455.6 L1342.1 456.9 L1342.9 458.2 L1343.7 459.5 L1344.5 460.8 L1345.3 462.0 L1346.1 463.3 L1346.9 464.6 L1347.7 465.8 L1348.6 467.0 L1349.5 468.2 L1350.4 469.4 L1351.4 470.6 L1352.4 471.7 L1353.3 472.9 L1354.2 474.1 L1355.1 475.3 L1356.0 476.5 L1356.8 477.7 L1357.6 479.0 L1358.2 480.4 L1358.8 481.8 L1359.3 483.2 L1359.8 484.6 L1360.2 486.0 L1360.6 487.5 L1360.9 488.9 L1361.3 490.4 L1361.7 491.9 L1362.1 493.3 L1362.5 494.7 L1363.0 496.2 L1363.5 497.6 L1364.1 499.0 L1364.6 500.4 L1365.2 501.7 L1365.9 503.1 L1366.5 504.5 L1367.1 505.8 L1367.8 507.2 L1368.4 508.5 L1369.1 509.9 L1369.7 511.2 L1370.4 512.6 L1371.0 514.0 L1371.7 515.3 L1372.3 516.7 L1372.9 518.0 L1373.6 519.4 L1374.2 520.8 L1374.8 522.2 L1375.4 523.5 L1376.0 524.9 L1376.6 526.3 L1377.2 527.7 L1377.8 529.0 L1378.4 530.4 L1379.0 531.8 L1379.6 533.2 L1380.2 534.6 L1380.8 535.9 L1381.4 537.3 L1382.0 538.7 L1382.6 540.1 L1383.2 541.5 L1383.8 542.8 L1384.4 544.2 L1385.0 545.6 L1385.6 547.0 L1386.2 548.3 L1386.8 549.7 L1387.3 551.1 L1387.9 552.5 L1388.5 553.9 L1389.1 555.3 L1389.7 556.6 L1390.3 558.0 L1390.9 559.4 L1391.6 560.7 L1392.3 562.1 L1393.0 563.4 L1393.7 564.7 L1394.5 566.0 L1395.2 567.3 L1396.0 568.6 L1396.8 569.9 L1397.6 571.2 L1398.4 572.4 L1399.2 573.7 L1400.0 575.0 L1400.8 576.2 L1401.6 577.5 L1402.5 578.7 L1403.3 579.9 L1404.2 581.2 L1405.1 582.4 L1406.0 583.6 L1406.9 584.8 L1407.8 586.0 L1408.7 587.2 L1409.6 588.4 L1410.6 589.5 L1411.5 590.7 L1412.5 591.9 L1413.4 593.0 L1414.4 594.2 L1415.3 595.4 L1416.3 596.5 L1417.2 597.7 L1418.2 598.9 L1419.1 600.0 L1420.1 601.2 L1421.0 602.4 L1421.9 603.6 L1422.8 604.8 L1423.7 606.0 L1424.7 607.1 L1425.6 608.3 L1426.5 609.5 L1427.4 610.7 L1428.4 611.9 L1429.3 613.1 L1430.2 614.2 L1431.2 615.4 L1432.2 616.5 L1433.2 617.6 L1434.2 618.8 L1435.2 619.9 L1436.2 621.0 L1437.3 622.1 L1438.2 623.2 L1439.2 624.3 L1440.1 625.6 L1440.9 626.8 L1441.6 628.1 L1442.1 629.5 L1442.6 630.9 L1442.9 632.4 L1443.2 633.8 L1443.5 635.3 L1443.9 636.7 L1444.5 638.1 L1445.2 639.4 L1446.0 640.6 L1447.1 641.6 L1448.2 642.5 L1449.4 643.4 L1450.6 644.3 L1451.8 645.2 L1453.0 646.2 L1454.0 647.2 L1455.0 648.3 L1455.9 649.5 L1456.9 650.7 L1457.8 651.9 L1458.7 653.0 L1459.7 654.1 L1460.8 655.2 L1461.9 656.1 L1463.1 657.1 L1464.4 657.9 L1465.6 658.7 L1466.9 659.5 L1468.2 660.3 L1469.4 661.1 L1470.7 661.9 L1472.0 662.7 L1473.3 663.5 L1474.5 664.3 L1475.8 665.1 L1477.1 665.9 L1478.4 666.7 L1479.6 667.5 L1480.9 668.3 L1482.2 669.0 L1483.5 669.8 L1484.8 670.5 L1486.1 671.3 L1487.5 672.0 L1488.8 672.6 L1490.2 673.3 L1491.5 673.9 L1492.9 674.5 L1494.3 675.1 L1495.7 675.7 L1497.1 676.2 L1498.5 676.8 L1499.9 677.3 L1501.3 677.8 L1502.7 678.3 L1504.1 678.8 L1505.5 679.3 L1506.9 679.8 L1508.4 680.3 L1509.8 680.7 L1511.2 681.2 L1512.7 681.6 L1514.1 682.2 L1515.4 682.8 L1516.7 683.5 L1518.0 684.3 L1519.2 685.2 L1520.3 686.1 L1521.6 687.0 L1522.8 687.8 L1524.1 688.5 L1525.5 689.1 L1526.9 689.6 L1528.3 690.2 L1529.7 690.7 L1531.1 691.2 L1532.5 691.7 L1534.0 692.2 L1535.4 692.7 L1536.8 693.2" stroke="#0a0a0a" stroke-width="6.2" fill="none" stroke-linejoin="round" stroke-linecap="round"/>
<path d="M367.3 1430.0 L368.2 1428.8 L369.1 1427.6 L370.1 1426.5 L371.1 1425.3 L372.1 1424.3 L373.2 1423.3 L374.3 1422.4 L375.4 1421.4 L376.2 1420.2 L377.0 1419.0 L377.6 1417.6 L378.2 1416.2 L378.7 1414.8 L379.2 1413.4 L379.7 1412.0 L380.2 1410.6 L380.6 1409.1 L381.1 1407.7 L381.5 1406.3 L381.9 1404.8 L382.3 1403.4 L382.7 1401.9 L383.1 1400.5 L383.4 1399.0 L383.8 1397.5 L384.1 1396.1 L384.4 1394.6 L384.7 1393.1 L385.0 1391.6 L385.3 1390.2 L385.6 1388.7 L385.9 1387.2 L386.1 1385.7 L386.4 1384.3 L386.6 1382.8 L386.9 1381.3 L387.1 1379.8 L387.4 1378.3 L387.6 1376.8 L387.9 1375.4 L388.1 1373.9 L388.3 1372.4 L388.6 1370.9 L388.8 1369.4 L389.0 1367.9 L389.3 1366.5 L389.5 1365.0 L389.7 1363.5 L390.0 1362.0 L390.2 1360.5 L390.4 1359.0 L390.7 1357.5 L390.9 1356.1 L391.1 1354.6 L391.3 1353.1 L391.6 1351.6 L391.8 1350.1 L392.0 1348.6 L392.3 1347.1 L392.5 1345.7 L392.7 1344.2 L393.0 1342.7 L393.2 1341.2 L393.5 1339.7 L393.7 1338.2 L393.9 1336.7 L394.2 1335.3 L394.4 1333.8 L394.6 1332.3 L394.8 1330.8 L395.1 1329.3 L395.3 1327.8 L395.5 1326.3 L395.8 1324.9 L396.0 1323.4 L396.2 1321.9 L396.4 1320.4 L396.6 1318.9 L396.9 1317.4 L397.1 1315.9 L397.3 1314.4 L397.5 1313.0 L397.7 1311.5 L397.9 1310.0 L398.1 1308.5 L398.3 1307.0 L398.5 1305.5 L398.7 1304.0 L398.9 1302.5 L399.1 1301.0 L399.3 1299.6 L399.5 1298.1 L399.7 1296.6 L399.9 1295.1 L400.1 1293.6 L400.3 1292.1 L400.5 1290.6 L400.6 1289.1 L400.8 1287.6 L401.0 1286.1 L401.2 1284.6 L401.3 1283.1 L401.5 1281.6 L401.7 1280.2 L401.9 1278.7 L402.0 1277.2 L402.2 1275.7 L402.4 1274.2 L402.5 1272.7 L402.7 1271.2 L402.9 1269.7 L403.0 1268.2 L403.2 1266.7 L403.4 1265.2 L403.5 1263.7 L403.7 1262.2 L403.8 1260.7 L404.0 1259.2 L404.2 1257.7 L404.3 1256.2 L404.5 1254.7 L404.6 1253.3 L404.8 1251.8 L404.9 1250.3 L405.1 1248.8 L405.2 1247.3 L405.4 1245.8 L405.5 1244.3 L405.6 1242.8 L405.8 1241.3 L405.9 1239.8 L406.1 1238.3 L406.2 1236.8 L406.3 1235.3 L406.4 1233.8 L406.6 1232.3 L406.7 1230.8 L406.8 1229.3 L406.9 1227.8 L407.1 1226.3 L407.2 1224.8 L407.3 1223.3 L407.4 1221.8 L407.5 1220.3 L407.7 1218.8 L407.8 1217.3 L407.9 1215.8 L408.0 1214.3 L408.2 1212.8 L408.3 1211.3 L408.4 1209.8 L408.5 1208.3 L408.7 1206.8 L408.8 1205.3 L408.9 1203.8 L409.1 1202.3 L409.2 1200.8 L409.3 1199.3 L409.5 1197.8 L409.6 1196.3 L409.8 1194.8 L409.9 1193.4 L410.1 1191.9 L410.2 1190.4 L410.4 1188.9 L410.5 1187.4 L410.7 1185.9 L410.9 1184.4 L411.1 1182.9 L411.2 1181.4 L411.4 1179.9 L411.6 1178.4 L411.8 1176.9 L411.9 1175.4 L412.1 1173.9 L412.3 1172.4 L412.5 1171.0 L412.7 1169.5 L412.9 1168.0 L413.1 1166.5 L413.3 1165.0 L413.5 1163.5 L413.6 1162.0 L413.8 1160.5 L414.0 1159.0 L414.2 1157.5 L414.4 1156.0 L414.6 1154.6 L414.8 1153.1 L415.0 1151.6 L415.2 1150.1 L415.4 1148.6 L415.6 1147.1 L415.8 1145.6 L415.9 1144.1 L416.1 1142.6 L416.3 1141.1 L416.5 1139.6 L416.7 1138.1 L416.9 1136.7 L417.1 1135.2 L417.3 1133.7 L417.4 1132.2 L417.6 1130.7 L417.8 1129.2 L418.0 1127.7 L418.2 1126.2 L418.4 1124.7 L418.6 1123.2 L418.7 1121.7 L418.9 1120.2 L419.1 1118.8 L419.3 1117.3 L419.5 1115.8 L419.7 1114.3 L419.9 1112.8 L420.1 1111.3 L420.2 1109.8 L420.4 1108.3 L420.6 1106.8 L420.8 1105.3 L421.0 1103.8 L421.2 1102.3 L421.4 1100.9 L421.6 1099.4 L421.7 1097.9 L421.9 1096.4 L422.1 1094.9 L422.3 1093.4 L422.5 1091.9 L422.7 1090.4 L422.9 1088.9 L423.1 1087.4 L423.2 1085.9 L423.4 1084.4 L423.6 1083.0 L423.8 1081.5 L424.0 1080.0 L424.2 1078.5 L424.4 1077.0 L424.6 1075.5 L424.8 1074.0 L425.0 1072.5 L425.1 1071.0 L425.3 1069.5 L425.5 1068.0 L425.7 1066.6 L425.9 1065.1 L426.1 1063.6 L426.3 1062.1 L426.5 1060.6 L426.6 1059.1 L426.8 1057.6 L427.0 1056.1 L427.2 1054.6 L427.4 1053.1 L427.6 1051.6 L427.7 1050.1 L427.9 1048.6 L428.1 1047.2 L428.3 1045.7 L428.4 1044.2 L428.6 1042.7 L428.7 1041.2 L428.9 1039.7 L429.0 1038.2 L429.2 1036.7 L429.3 1035.2 L429.5 1033.7 L429.6 1032.2 L429.7 1030.7 L429.8 1029.2 L430.0 1027.7 L430.1 1026.2 L430.2 1024.7 L430.4 1023.2 L430.5 1021.7 L430.7 1020.2 L430.8 1018.7 L431.0 1017.2 L431.1 1015.7 L431.3 1014.2 L431.5 1012.7 L431.7 1011.3 L431.9 1009.8 L432.1 1008.3 L432.4 1006.8 L432.6 1005.3 L432.9 1003.8 L433.1 1002.4 L433.4 1000.9 L433.7 999.4 L434.0 997.9 L434.3 996.4 L434.6 995.0 L434.9 993.5 L435.2 992.0 L435.5 990.6 L435.8 989.1 L436.1 987.6 L436.4 986.1 L436.7 984.7 L437.0 983.2 L437.3 981.7 L437.6 980.2 L437.8 978.8 L438.1 977.3 L438.4 975.8 L438.6 974.3 L438.8 972.8 L439.1 971.4 L439.3 969.9 L439.5 968.4 L439.8 966.9 L440.0 965.4 L440.2 963.9 L440.4 962.4 L440.7 960.9 L440.9 959.5 L441.1 958.0 L441.3 956.5 L441.5 955.0 L441.8 953.5 L442.0 952.0 L442.2 950.5 L442.5 949.1 L442.7 947.6 L442.9 946.1 L443.2 944.6 L443.4 943.1 L443.6 941.6 L443.9 940.2 L444.1 938.7 L444.4 937.2 L444.6 935.7 L444.9 934.2 L445.2 932.8 L445.6 931.3 L446.0 929.9 L446.5 928.5 L447.2 927.2 L448.0 926.0 L449.0 925.0 L450.1 924.2 L451.4 923.8 L452.8 923.8 L454.2 924.1 L455.4 924.6 L456.6 925.5 L457.7 926.5 L458.6 927.6 L459.4 928.8 L460.1 930.1 L460.7 931.5 L461.2 932.9 L461.6 934.4 L462.0 935.8 L462.4 937.3 L462.7 938.7 L463.1 940.2 L463.4 941.7 L463.8 943.1 L464.3 944.5 L464.8 946.0 L465.3 947.4 L465.9 948.7 L466.5 950.1 L467.2 951.5 L467.9 952.8 L468.6 954.1 L469.3 955.4 L470.0 956.8 L470.7 958.1 L471.4 959.4 L472.0 960.8 L472.7 962.2 L473.3 963.5 L474.0 964.9 L474.6 966.2 L475.2 967.6 L475.9 969.0 L476.5 970.3 L477.1 971.7 L477.7 973.1 L478.3 974.5 L478.9 975.9 L479.4 977.3 L479.9 978.7 L480.4 980.1 L480.9 981.5 L481.3 983.0 L481.7 984.4 L482.0 985.9 L482.3 987.3 L482.6 988.8 L482.8 990.3 L483.1 991.8 L483.4 993.3 L483.7 994.7 L484.0 996.2 L484.4 997.7 L484.7 999.1 L485.1 1000.6 L485.5 1002.0 L485.8 1003.5 L486.2 1004.9 L486.6 1006.4 L487.0 1007.8 L487.4 1009.3 L487.8 1010.7 L488.2 1012.2 L488.6 1013.6 L489.0 1015.1 L489.4 1016.5 L489.8 1018.0 L490.2 1019.4 L490.6 1020.9 L491.0 1022.3 L491.5 1023.8 L491.9 1025.2 L492.3 1026.7 L492.8 1028.1 L493.2 1029.5 L493.7 1031.0 L494.1 1032.4 L494.6 1033.8 L495.1 1035.2 L495.5 1036.7 L496.0 1038.1 L496.5 1039.5 L496.9 1041.0 L497.4 1042.4 L497.9 1043.8 L498.3 1045.3 L498.7 1046.7 L499.2 1048.1 L499.6 1049.6 L500.0 1051.0 L500.4 1052.5 L500.8 1053.9 L501.1 1055.4 L501.5 1056.9 L501.8 1058.3 L502.1 1059.8 L502.4 1061.3 L502.7 1062.7 L503.0 1064.2 L503.3 1065.7 L503.5 1067.2 L503.8 1068.6 L504.1 1070.1 L504.3 1071.6 L504.6 1073.1 L504.8 1074.6 L505.0 1076.1 L505.3 1077.5 L505.5 1079.0 L505.8 1080.5 L506.0 1082.0 L506.3 1083.5 L506.6 1085.0 L506.9 1086.4 L507.1 1087.9 L507.4 1089.4 L507.8 1090.8 L508.1 1092.3 L508.4 1093.8 L508.8 1095.2 L509.2 1096.7 L509.6 1098.1 L510.1 1099.5 L510.6 1101.0 L511.1 1102.4 L511.7 1103.8 L512.2 1105.2 L512.8 1106.6 L513.4 1107.9 L514.0 1109.3 L514.6 1110.7 L515.1 1112.1 L515.7 1113.5 L516.2 1114.9 L516.7 1116.3 L517.2 1117.8 L517.6 1119.2 L518.0 1120.6 L518.4 1122.1 L518.8 1123.5 L519.2 1125.0 L519.5 1126.5 L519.9 1127.9 L520.2 1129.4 L520.5 1130.9 L520.8 1132.3 L521.1 1133.8 L521.4 1135.3 L521.7 1136.8 L522.0 1138.2 L522.3 1139.7 L522.5 1141.2 L522.8 1142.7 L523.1 1144.1 L523.4 1145.6 L523.7 1147.1 L524.0 1148.6 L524.2 1150.0 L524.5 1151.5 L524.8 1153.0 L525.1 1154.5 L525.4 1155.9 L525.7 1157.4 L526.0 1158.9 L526.4 1160.3 L526.7 1161.8 L527.0 1163.3 L527.4 1164.7 L527.7 1166.2 L528.1 1167.7 L528.5 1169.1 L528.9 1170.6 L529.3 1172.0 L529.7 1173.5 L530.1 1174.9 L530.5 1176.3 L531.0 1177.8 L531.4 1179.2 L531.8 1180.7 L532.3 1182.1 L532.7 1183.5 L533.2 1185.0 L533.7 1186.4 L534.1 1187.8 L534.6 1189.2 L535.1 1190.7 L535.6 1192.1 L536.1 1193.5 L536.6 1194.9 L537.1 1196.3 L537.6 1197.7 L538.2 1199.1 L538.7 1200.5 L539.3 1201.9 L539.8 1203.3 L540.4 1204.7 L541.0 1206.1 L541.6 1207.5 L542.2 1208.9 L542.9 1210.2 L543.6 1211.5 L544.3 1212.9 L545.0 1214.2 L545.8 1215.4 L546.6 1216.7 L547.5 1217.9 L548.3 1219.2 L549.2 1220.4 L550.1 1221.6 L551.0 1222.8 L551.9 1224.0 L552.8 1225.2 L553.7 1226.4 L554.7 1227.6 L555.6 1228.7 L556.6 1229.9 L557.6 1231.0 L558.6 1232.1 L559.6 1233.2 L560.6 1234.3 L561.6 1235.5 L562.6 1236.6 L563.7 1237.7 L564.7 1238.8 L565.7 1239.9 L566.8 1241.0 L567.8 1242.0 L568.9 1243.1 L570.0 1244.1 L571.1 1245.1 L572.2 1246.1 L573.3 1247.1 L574.5 1248.1 L575.6 1249.1 L576.7 1250.1 L577.9 1251.1 L579.0 1252.0 L580.2 1253.0 L581.4 1253.9 L582.5 1254.9 L583.7 1255.8 L584.9 1256.8 L586.0 1257.7 L587.2 1258.7 L588.3 1259.6 L589.5 1260.6 L590.6 1261.6 L591.8 1262.5 L593.0 1263.5 L594.1 1264.4 L595.3 1265.4 L596.5 1266.3 L597.7 1267.2 L598.9 1268.1 L600.1 1269.0 L601.3 1269.8 L602.6 1270.6 L603.9 1271.4 L605.2 1272.2 L606.5 1272.9 L607.8 1273.7 L609.1 1274.4 L610.4 1275.2 L611.6 1276.1 L612.9 1276.9 L614.0 1277.8 L615.2 1278.8 L616.3 1279.8 L617.3 1280.9 L618.4 1282.0 L619.4 1283.1 L620.4 1284.2 L621.4 1285.3 L622.5 1286.4 L623.5 1287.5 L624.6 1288.5 L625.8 1289.5 L626.9 1290.4 L628.1 1291.3 L629.4 1292.1 L630.7 1292.9 L632.0 1293.7 L633.2 1294.4 L634.5 1295.2 L635.8 1295.9 L637.1 1296.7 L638.4 1297.5 L639.6 1298.4 L640.8 1299.3 L642.0 1300.2 L643.2 1301.2 L644.3 1302.2 L645.4 1303.2 L646.5 1304.2 L647.7 1305.2 L648.8 1306.1 L649.9 1307.1 L651.1 1308.1 L652.3 1309.0 L653.5 1309.9 L654.7 1310.7 L656.0 1311.6 L657.2 1312.4 L658.5 1313.3 L659.7 1314.1 L661.0 1314.9 L662.3 1315.7 L663.5 1316.6 L664.7 1317.4 L666.0 1318.3 L667.1 1319.2 L668.3 1320.2 L669.4 1321.2 L670.5 1322.2 L671.5 1323.4 L672.4 1324.5 L673.2 1325.8 L674.0 1327.1 L674.7 1328.4 L675.4 1329.7 L676.0 1331.1 L676.7 1332.4 L677.3 1333.8 L677.8 1335.2 L678.4 1336.6 L678.9 1338.0 L679.4 1339.4 L680.0 1340.8 L680.5 1342.2 L681.2 1343.6 L681.8 1344.9 L682.5 1346.3 L683.2 1347.6 L684.0 1348.9 L684.8 1350.2 L685.6 1351.4 L686.4 1352.7 L687.2 1354.0 L688.0 1355.2 L688.8 1356.5 L689.7 1357.7 L690.5 1359.0 L691.4 1360.2 L692.3 1361.4 L693.1 1362.6 L694.0 1363.8 L694.9 1365.0 L695.8 1366.2 L696.8 1367.4 L697.7 1368.6 L698.7 1369.8 L699.6 1370.9 L700.6 1372.1 L701.6 1373.2 L702.6 1374.3 L703.7 1375.4 L704.7 1376.4 L705.8 1377.5 L706.8 1378.6 L707.9 1379.6 L709.0 1380.6 L710.2 1381.6 L711.3 1382.6 L712.4 1383.6 L713.5 1384.6 L714.7 1385.6 L715.8 1386.5 L717.0 1387.5 L718.2 1388.5 L719.3 1389.4 L720.5 1390.4 L721.6 1391.3 L722.8 1392.2 L724.0 1393.2 L725.2 1394.1 L726.4 1395.0 L727.6 1396.0 L728.8 1396.9 L730.0 1397.8 L731.2 1398.7 L732.4 1399.6 L733.6 1400.5 L734.8 1401.3 L736.0 1402.2 L737.2 1403.1 L738.5 1404.0 L739.7 1404.8 L740.9 1405.7 L742.1 1406.6 L743.4 1407.4 L744.6 1408.3 L745.8 1409.1 L747.1 1410.0 L748.3 1410.9 L749.5 1411.7 L750.8 1412.6 L752.0 1413.4 L753.3 1414.3 L754.5 1415.1 L755.7 1416.0 L757.0 1416.8 L758.2 1417.7 L759.5 1418.5 L760.7 1419.4 L761.9 1420.2 L763.2 1421.0 L764.5 1421.9 L765.7 1422.7 L767.0 1423.5 L768.2 1424.3 L769.5 1425.1 L770.8 1425.9 L772.1 1426.6 L773.4 1427.4 L774.7 1428.1 L776.0 1428.8 L777.4 1429.5 L778.7 1430.2 L780.1 1430.9 L781.4 1431.5 L782.8 1432.1 L784.2 1432.6 L785.6 1433.2 L787.0 1433.7 L788.4 1434.2 L789.9 1434.7 L791.3 1435.1 L792.7 1435.6 L794.2 1436.0 L795.6 1436.4 L797.1 1436.8 L798.5 1437.2 L800.0 1437.6 L801.4 1438.0 L802.9 1438.4 L804.3 1438.8 L805.8 1439.1 L807.3 1439.4 L808.7 1439.7 L810.2 1440.0 L811.7 1440.3 L813.2 1440.6 L814.6 1440.9 L816.1 1441.2 L817.6 1441.5 L819.1 1441.8 L820.5 1442.1 L822.0 1442.4 L823.5 1442.7 L824.9 1443.1 L826.4 1443.4 L827.8 1443.8 L829.3 1444.2 L830.8 1444.6 L832.2 1444.9 L833.7 1445.3 L835.1 1445.7 L836.6 1446.1 L838.0 1446.5 L839.5 1447.0 L840.9 1447.4 L842.3 1447.8 L843.8 1448.2 L845.2 1448.6 L846.7 1449.0 L848.1 1449.4 L849.6 1449.8 L851.0 1450.3 L852.5 1450.7 L853.9 1451.1 L855.4 1451.5 L856.8 1451.9" stroke="#cdcdcd" stroke-width="6.2" fill="none" stroke-linejoin="round" stroke-linecap="round"/>
<path d="M367.3 1441.0 L367.9 1439.6 L368.6 1438.3 L369.2 1436.9 L369.9 1435.6 L370.5 1434.2 L371.2 1432.8 L371.8 1431.5 L372.4 1430.1 L373.1 1428.8 L373.7 1427.4 L374.3 1426.0 L374.9 1424.7 L375.5 1423.3 L376.1 1421.9 L376.6 1420.5 L377.1 1419.1 L377.6 1417.6 L378.1 1416.2 L378.6 1414.8 L379.1 1413.4 L379.6 1412.0 L380.1 1410.5 L380.5 1409.1 L381.0 1407.7 L381.4 1406.2 L381.8 1404.8 L382.3 1403.4 L382.6 1401.9 L383.0 1400.4 L383.4 1399.0 L383.7 1397.5 L384.1 1396.1 L384.4 1394.6 L384.7 1393.1 L385.0 1391.7 L385.3 1390.2 L385.6 1388.7 L385.9 1387.2 L386.1 1385.7 L386.4 1384.3 L386.6 1382.8 L386.9 1381.3 L387.1 1379.8 L387.4 1378.3 L387.6 1376.9 L387.9 1375.4 L388.1 1373.9 L388.3 1372.4 L388.6 1370.9 L388.8 1369.4 L389.0 1368.0 L389.3 1366.5 L389.5 1365.0 L389.7 1363.5 L390.0 1362.0 L390.2 1360.5 L390.4 1359.0 L390.6 1357.6 L390.9 1356.1 L391.1 1354.6 L391.3 1353.1 L391.6 1351.6 L391.8 1350.1 L392.0 1348.6 L392.3 1347.2 L392.5 1345.7 L392.7 1344.2 L393.0 1342.7 L393.2 1341.2 L393.4 1339.7 L393.7 1338.3 L393.9 1336.8 L394.1 1335.3 L394.4 1333.8 L394.6 1332.3 L394.8 1330.8 L395.1 1329.3 L395.3 1327.9 L395.5 1326.4 L395.8 1324.9 L396.0 1323.4 L396.2 1321.9 L396.4 1320.4 L396.6 1318.9 L396.9 1317.5 L397.1 1316.0 L397.3 1314.5 L397.5 1313.0 L397.7 1311.5 L397.9 1310.0 L398.1 1308.5 L398.3 1307.0 L398.5 1305.5 L398.7 1304.1 L398.9 1302.6 L399.1 1301.1 L399.3 1299.6 L399.5 1298.1 L399.7 1296.6 L399.9 1295.1 L400.1 1293.6 L400.3 1292.1 L400.4 1290.6 L400.6 1289.1 L400.8 1287.7 L401.0 1286.2 L401.2 1284.7 L401.3 1283.2 L401.5 1281.7 L401.7 1280.2 L401.9 1278.7 L402.0 1277.2 L402.2 1275.7 L402.4 1274.2 L402.5 1272.7 L402.7 1271.2 L402.9 1269.7 L403.0 1268.2 L403.2 1266.7 L403.4 1265.3 L403.5 1263.8 L403.7 1262.3 L403.8 1260.8 L404.0 1259.3 L404.1 1257.8 L404.3 1256.3 L404.5 1254.8 L404.6 1253.3 L404.8 1251.8 L404.9 1250.3 L405.1 1248.8 L405.2 1247.3 L405.4 1245.8 L405.5 1244.3 L405.6 1242.8 L405.8 1241.3 L405.9 1239.8 L406.0 1238.3 L406.2 1236.8 L406.3 1235.3 L406.4 1233.8 L406.6 1232.3 L406.7 1230.8 L406.8 1229.4 L406.9 1227.9 L407.1 1226.4 L407.2 1224.9 L407.3 1223.4 L407.4 1221.9 L407.5 1220.4 L407.7 1218.9 L407.8 1217.4 L407.9 1215.9 L408.0 1214.4 L408.1 1212.9 L408.3 1211.4 L408.4 1209.9 L408.5 1208.4 L408.7 1206.9 L408.8 1205.4 L408.9 1203.9 L409.0 1202.4 L409.2 1200.9 L409.3 1199.4 L409.5 1197.9 L409.6 1196.4 L409.8 1194.9 L409.9 1193.4 L410.1 1191.9 L410.2 1190.4 L410.4 1188.9 L410.5 1187.4 L410.7 1185.9 L410.9 1184.4 L411.0 1183.0 L411.2 1181.5 L411.4 1180.0 L411.6 1178.5 L411.8 1177.0 L411.9 1175.5 L412.1 1174.0 L412.3 1172.5 L412.5 1171.0 L412.7 1169.5 L412.9 1168.0 L413.1 1166.5 L413.3 1165.1 L413.4 1163.6 L413.6 1162.1 L413.8 1160.6 L414.0 1159.1 L414.2 1157.6 L414.4 1156.1 L414.6 1154.6 L414.8 1153.1 L415.0 1151.6 L415.2 1150.2 L415.4 1148.7 L415.6 1147.2 L415.8 1145.7 L415.9 1144.2 L416.1 1142.7 L416.3 1141.2 L416.5 1139.7 L416.7 1138.2 L416.9 1136.7 L417.1 1135.2 L417.2 1133.7 L417.4 1132.3 L417.6 1130.8 L417.8 1129.3 L418.0 1127.8 L418.2 1126.3 L418.4 1124.8 L418.5 1123.3 L418.7 1121.8 L418.9 1120.3 L419.1 1118.8 L419.3 1117.3 L419.5 1115.9 L419.7 1114.4 L419.9 1112.9 L420.0 1111.4 L420.2 1109.9 L420.4 1108.4 L420.6 1106.9 L420.8 1105.4 L421.0 1103.9 L421.2 1102.4 L421.4 1100.9 L421.5 1099.4 L421.7 1098.0 L421.9 1096.5 L422.1 1095.0 L422.3 1093.5 L422.5 1092.0 L422.7 1090.5 L422.9 1089.0 L423.0 1087.5 L423.2 1086.0 L423.4 1084.5 L423.6 1083.0 L423.8 1081.6 L424.0 1080.1 L424.2 1078.6 L424.4 1077.1 L424.6 1075.6 L424.8 1074.1 L424.9 1072.6 L425.1 1071.1 L425.3 1069.6 L425.5 1068.1 L425.7 1066.6 L425.9 1065.2 L426.1 1063.7 L426.3 1062.2 L426.5 1060.7 L426.6 1059.2 L426.8 1057.7 L427.0 1056.2 L427.2 1054.7 L427.4 1053.2 L427.5 1051.7 L427.7 1050.2 L427.9 1048.7 L428.1 1047.3 L428.2 1045.8 L428.4 1044.3 L428.6 1042.8 L428.7 1041.3 L428.9 1039.8 L429.0 1038.3 L429.2 1036.8 L429.3 1035.3 L429.4 1033.8 L429.6 1032.3 L429.7 1030.8 L429.8 1029.3 L430.0 1027.8 L430.1 1026.3 L430.2 1024.8 L430.4 1023.3 L430.5 1021.8 L430.7 1020.3 L430.8 1018.8 L431.0 1017.3 L431.1 1015.8 L431.3 1014.3 L431.5 1012.9 L431.7 1011.4 L431.9 1009.9 L432.1 1008.4 L432.3 1006.9 L432.6 1005.4 L432.8 1003.9 L433.1 1002.5 L433.4 1001.0 L433.7 999.5 L434.0 998.0 L434.3 996.6 L434.6 995.1 L434.9 993.6 L435.2 992.1 L435.5 990.7 L435.8 989.2 L436.1 987.7 L436.4 986.3 L436.7 984.8 L437.0 983.3 L437.3 981.8 L437.6 980.4 L437.8 978.9 L438.1 977.4 L438.3 975.9 L438.6 974.4 L438.8 973.0 L439.1 971.5 L439.3 970.0 L439.5 968.5 L439.8 967.0 L440.0 965.5 L440.2 964.0 L440.4 962.6 L440.6 961.1 L440.9 959.6 L441.1 958.1 L441.3 956.6 L441.5 955.1 L441.7 953.6 L442.0 952.2 L442.2 950.7 L442.4 949.2 L442.7 947.7 L442.9 946.2 L443.2 944.7 L443.4 943.2 L443.6 941.8 L443.9 940.3 L444.1 938.8 L444.3 937.3 L444.6 935.8 L444.9 934.4 L445.2 932.9 L445.5 931.4 L446.0 930.0 L446.5 928.6 L447.1 927.3 L447.9 926.1 L448.9 925.1 L450.0 924.3 L451.3 923.8 L452.7 923.8 L454.0 924.0 L455.3 924.6 L456.5 925.4 L457.6 926.4 L458.6 927.5 L459.4 928.7 L460.1 930.0 L460.7 931.4 L461.1 932.8 L461.6 934.2 L462.0 935.7 L462.3 937.1 L462.7 938.6 L463.0 940.1 L463.4 941.5 L463.8 943.0 L464.2 944.4 L464.7 945.8 L465.3 947.2 L465.8 948.6 L466.5 950.0 L467.1 951.3 L467.8 952.7 L468.5 954.0 L469.2 955.3 L469.9 956.6 L470.6 958.0 L471.3 959.3 L472.0 960.7 L472.6 962.0 L473.3 963.4 L473.9 964.7 L474.5 966.1 L475.2 967.5 L475.8 968.8 L476.4 970.2 L477.0 971.6 L477.6 972.9 L478.2 974.3 L478.8 975.7 L479.4 977.1 L479.9 978.5 L480.4 979.9 L480.8 981.4 L481.3 982.8 L481.6 984.3 L482.0 985.7 L482.3 987.2 L482.5 988.7 L482.8 990.1 L483.1 991.6 L483.4 993.1 L483.7 994.6 L484.0 996.0 L484.3 997.5 L484.7 999.0 L485.0 1000.4 L485.4 1001.9 L485.8 1003.3 L486.2 1004.8 L486.6 1006.2 L487.0 1007.7 L487.3 1009.1 L487.7 1010.6 L488.1 1012.0 L488.5 1013.5 L488.9 1014.9 L489.3 1016.4 L489.8 1017.8 L490.2 1019.3 L490.6 1020.7 L491.0 1022.2 L491.4 1023.6 L491.8 1025.1 L492.3 1026.5 L492.7 1027.9 L493.2 1029.4 L493.6 1030.8 L494.1 1032.2 L494.6 1033.6 L495.0 1035.1 L495.5 1036.5 L496.0 1037.9 L496.4 1039.4 L496.9 1040.8 L497.4 1042.2 L497.8 1043.7 L498.2 1045.1 L498.7 1046.5 L499.1 1048.0 L499.5 1049.4 L499.9 1050.9 L500.3 1052.3 L500.7 1053.8 L501.1 1055.2 L501.4 1056.7 L501.8 1058.1 L502.1 1059.6 L502.4 1061.1 L502.7 1062.6 L503.0 1064.0 L503.2 1065.5 L503.5 1067.0 L503.8 1068.5 L504.0 1070.0 L504.3 1071.4 L504.5 1072.9 L504.8 1074.4 L505.0 1075.9 L505.3 1077.4 L505.5 1078.8 L505.8 1080.3 L506.0 1081.8 L506.3 1083.3 L506.5 1084.8 L506.8 1086.2 L507.1 1087.7 L507.4 1089.2 L507.7 1090.7 L508.0 1092.1 L508.4 1093.6 L508.8 1095.0 L509.2 1096.5 L509.6 1097.9 L510.0 1099.4 L510.5 1100.8 L511.0 1102.2 L511.6 1103.6 L512.2 1105.0 L512.7 1106.4 L513.3 1107.8 L513.9 1109.1 L514.5 1110.5 L515.1 1111.9 L515.6 1113.3 L516.1 1114.7 L516.6 1116.1 L517.1 1117.6 L517.6 1119.0 L518.0 1120.4 L518.4 1121.9 L518.8 1123.3 L519.1 1124.8 L519.5 1126.3 L519.8 1127.7 L520.1 1129.2 L520.4 1130.7 L520.8 1132.1 L521.1 1133.6 L521.4 1135.1 L521.6 1136.6 L521.9 1138.0 L522.2 1139.5 L522.5 1141.0 L522.8 1142.5 L523.1 1143.9 L523.4 1145.4 L523.6 1146.9 L523.9 1148.4 L524.2 1149.8 L524.5 1151.3 L524.8 1152.8 L525.1 1154.3 L525.4 1155.7 L525.7 1157.2 L526.0 1158.7 L526.3 1160.1 L526.6 1161.6 L527.0 1163.1 L527.3 1164.5 L527.7 1166.0 L528.1 1167.5 L528.4 1168.9 L528.8 1170.4 L529.2 1171.8 L529.6 1173.3 L530.0 1174.7 L530.5 1176.1 L530.9 1177.6 L531.3 1179.0 L531.8 1180.5 L532.2 1181.9 L532.7 1183.3 L533.1 1184.8 L533.6 1186.2 L534.1 1187.6 L534.6 1189.0 L535.0 1190.5 L535.5 1191.9 L536.0 1193.3 L536.5 1194.7 L537.1 1196.1 L537.6 1197.5 L538.1 1198.9 L538.6 1200.3 L539.2 1201.7 L539.7 1203.1 L540.3 1204.5 L540.9 1205.9 L541.5 1207.3 L542.1 1208.7 L542.8 1210.0 L543.5 1211.3 L544.2 1212.6 L545.0 1213.9 L545.8 1215.2 L546.6 1216.5 L547.4 1217.7 L548.3 1219.0 L549.1 1220.2 L549.9 1221.5 L550.8 1222.7 L551.6 1224.0 L552.4 1225.2 L553.3 1226.5 L554.1 1227.7 L555.0 1228.9 L555.9 1230.2 L556.7 1231.4 L557.6 1232.6 L558.5 1233.8 L559.4 1235.0 L560.3 1236.2 L561.3 1237.4 L562.2 1238.5 L563.2 1239.7 L564.2 1240.8 L565.2 1241.9 L566.2 1243.0 L567.3 1244.1 L568.3 1245.1 L569.4 1246.2 L570.6 1247.2 L571.7 1248.2 L572.8 1249.2 L573.9 1250.2 L575.1 1251.2 L576.2 1252.1 L577.4 1253.1 L578.5 1254.1 L579.7 1255.0 L580.8 1256.0 L582.0 1256.9 L583.2 1257.9 L584.3 1258.8 L585.5 1259.8 L586.6 1260.7 L587.8 1261.7 L589.0 1262.7 L590.1 1263.6 L591.3 1264.6 L592.4 1265.5 L593.6 1266.5 L594.7 1267.4 L595.9 1268.4 L597.1 1269.3 L598.3 1270.2 L599.5 1271.1 L600.8 1271.9 L602.0 1272.8 L603.3 1273.6 L604.6 1274.3 L605.9 1275.1 L607.2 1275.8 L608.5 1276.6 L609.8 1277.3 L611.0 1278.2 L612.3 1279.0 L613.5 1279.9 L614.6 1280.9 L615.7 1281.9 L616.8 1282.9 L617.9 1284.0 L618.9 1285.1 L619.9 1286.2 L620.9 1287.3 L622.0 1288.4 L623.0 1289.4 L624.1 1290.5 L625.2 1291.5 L626.4 1292.4 L627.6 1293.4 L628.8 1294.2 L630.0 1295.0 L631.3 1295.8 L632.6 1296.6 L633.9 1297.3 L635.2 1298.1 L636.5 1298.8 L637.8 1299.6 L639.0 1300.5 L640.2 1301.4 L641.4 1302.3 L642.6 1303.2 L643.7 1304.2 L644.9 1305.2 L646.0 1306.2 L647.1 1307.2 L648.2 1308.2 L649.4 1309.2 L650.5 1310.1 L651.7 1311.0 L652.9 1311.9 L654.1 1312.8 L655.4 1313.7 L656.6 1314.5 L657.9 1315.4 L659.1 1316.2 L660.4 1317.0 L661.6 1317.8 L662.9 1318.7 L664.1 1319.5 L665.4 1320.4 L666.6 1321.3 L667.7 1322.2 L668.9 1323.2 L669.9 1324.2 L671.0 1325.3 L671.9 1326.5 L672.8 1327.7 L673.6 1329.0 L674.3 1330.3 L675.0 1331.6 L675.7 1332.9 L676.4 1334.3 L677.1 1335.6 L677.7 1336.9 L678.4 1338.3 L679.0 1339.7 L679.6 1341.0 L680.3 1342.4 L681.0 1343.7 L681.7 1345.0 L682.5 1346.3 L683.2 1347.6 L684.0 1348.9 L684.8 1350.2 L685.6 1351.4 L686.5 1352.7 L687.3 1354.0 L688.1 1355.2 L688.9 1356.5 L689.8 1357.7 L690.6 1358.9 L691.5 1360.2 L692.4 1361.4 L693.2 1362.6 L694.1 1363.8 L695.0 1365.1 L695.9 1366.3 L696.8 1367.4 L697.7 1368.6 L698.7 1369.8 L699.7 1370.9 L700.6 1372.1 L701.6 1373.2 L702.7 1374.3 L703.7 1375.4 L704.7 1376.5 L705.8 1377.5 L706.9 1378.6 L708.0 1379.6 L709.1 1380.6 L710.2 1381.7 L711.3 1382.7 L712.4 1383.6 L713.6 1384.6 L714.7 1385.6 L715.9 1386.6 L717.0 1387.5 L718.2 1388.5 L719.3 1389.4 L720.5 1390.4 L721.7 1391.3 L722.9 1392.3 L724.0 1393.2 L725.2 1394.1 L726.4 1395.1 L727.6 1396.0 L728.8 1396.9 L730.0 1397.8 L731.2 1398.7 L732.4 1399.6 L733.6 1400.5 L734.8 1401.4 L736.0 1402.2 L737.3 1403.1 L738.5 1404.0 L739.7 1404.9 L740.9 1405.7 L742.2 1406.6 L743.4 1407.5 L744.6 1408.3 L745.9 1409.2 L747.1 1410.0 L748.3 1410.9 L749.6 1411.7 L750.8 1412.6 L752.0 1413.4 L753.3 1414.3 L754.5 1415.2 L755.8 1416.0 L757.0 1416.9 L758.2 1417.7 L759.5 1418.6 L760.7 1419.4 L762.0 1420.2 L763.2 1421.1 L764.5 1421.9 L765.7 1422.7 L767.0 1423.5 L768.3 1424.3 L769.5 1425.1 L770.8 1425.9 L772.1 1426.7 L773.4 1427.4 L774.7 1428.1 L776.1 1428.9 L777.4 1429.6 L778.7 1430.2 L780.1 1430.9 L781.5 1431.5 L782.8 1432.1 L784.2 1432.6 L785.6 1433.2 L787.0 1433.7 L788.5 1434.2 L789.9 1434.7 L791.3 1435.1 L792.8 1435.6 L794.2 1436.0 L795.6 1436.4 L797.1 1436.8 L798.5 1437.2 L800.0 1437.6 L801.4 1438.0 L802.9 1438.4 L804.3 1438.8 L805.8 1439.1 L807.3 1439.4 L808.7 1439.8 L810.2 1440.0 L811.7 1440.3 L813.2 1440.6 L814.6 1440.9 L816.1 1441.2 L817.6 1441.5 L819.1 1441.8 L820.5 1442.1 L822.0 1442.4 L823.5 1442.7 L824.9 1443.1 L826.4 1443.4 L827.9 1443.8 L829.3 1444.2 L830.8 1444.6 L832.2 1444.9 L833.7 1445.3 L835.1 1445.7 L836.6 1446.1 L838.0 1446.5 L839.5 1447.0 L840.9 1447.4 L842.3 1447.8 L843.8 1448.2 L845.2 1448.6 L846.7 1449.0 L848.1 1449.4 L849.6 1449.8 L851.0 1450.3 L852.5 1450.7 L853.9 1451.1 L855.4 1451.5 L856.8 1451.9" stroke="#0a0a0a" stroke-width="6.2" fill="none" stroke-linejoin="round" stroke-linecap="round"/>
<path d="M1046.8 1428.0 L1048.0 1427.1 L1049.2 1426.2 L1050.4 1425.3 L1051.6 1424.5 L1052.8 1423.6 L1054.0 1422.7 L1055.1 1421.7 L1056.0 1420.6 L1056.7 1419.4 L1057.4 1418.0 L1058.0 1416.7 L1058.5 1415.3 L1059.1 1413.9 L1059.6 1412.5 L1060.1 1411.0 L1060.6 1409.6 L1061.1 1408.2 L1061.6 1406.8 L1062.1 1405.4 L1062.5 1403.9 L1063.0 1402.5 L1063.4 1401.0 L1063.8 1399.6 L1064.2 1398.1 L1064.5 1396.7 L1064.9 1395.2 L1065.2 1393.8 L1065.6 1392.3 L1065.9 1390.8 L1066.2 1389.4 L1066.4 1387.9 L1066.7 1386.4 L1067.0 1384.9 L1067.2 1383.4 L1067.4 1381.9 L1067.7 1380.5 L1067.9 1379.0 L1068.1 1377.5 L1068.3 1376.0 L1068.5 1374.5 L1068.7 1373.0 L1068.9 1371.5 L1069.1 1370.0 L1069.3 1368.5 L1069.5 1367.1 L1069.7 1365.6 L1069.9 1364.1 L1070.1 1362.6 L1070.3 1361.1 L1070.5 1359.6 L1070.7 1358.1 L1070.9 1356.6 L1071.1 1355.1 L1071.3 1353.7 L1071.5 1352.2 L1071.7 1350.7 L1071.9 1349.2 L1072.2 1347.7 L1072.4 1346.2 L1072.6 1344.7 L1072.8 1343.2 L1073.1 1341.8 L1073.3 1340.3 L1073.5 1338.8 L1073.7 1337.3 L1074.0 1335.8 L1074.2 1334.3 L1074.4 1332.8 L1074.7 1331.4 L1074.9 1329.9 L1075.1 1328.4 L1075.3 1326.9 L1075.6 1325.4 L1075.8 1323.9 L1076.0 1322.4 L1076.2 1321.0 L1076.5 1319.5 L1076.7 1318.0 L1076.9 1316.5 L1077.1 1315.0 L1077.4 1313.5 L1077.6 1312.0 L1077.8 1310.6 L1078.0 1309.1 L1078.2 1307.6 L1078.4 1306.1 L1078.6 1304.6 L1078.9 1303.1 L1079.1 1301.6 L1079.3 1300.1 L1079.5 1298.6 L1079.7 1297.2 L1079.9 1295.7 L1080.1 1294.2 L1080.3 1292.7 L1080.5 1291.2 L1080.7 1289.7 L1080.9 1288.2 L1081.1 1286.7 L1081.3 1285.2 L1081.5 1283.8 L1081.7 1282.3 L1081.9 1280.8 L1082.1 1279.3 L1082.3 1277.8 L1082.5 1276.3 L1082.7 1274.8 L1082.9 1273.3 L1083.1 1271.8 L1083.3 1270.4 L1083.5 1268.9 L1083.7 1267.4 L1083.9 1265.9 L1084.1 1264.4 L1084.3 1262.9 L1084.5 1261.4 L1084.7 1259.9 L1084.8 1258.4 L1085.0 1256.9 L1085.2 1255.4 L1085.4 1253.9 L1085.6 1252.5 L1085.7 1251.0 L1085.9 1249.5 L1086.1 1248.0 L1086.3 1246.5 L1086.4 1245.0 L1086.6 1243.5 L1086.7 1242.0 L1086.9 1240.5 L1087.0 1239.0 L1087.2 1237.5 L1087.3 1236.0 L1087.5 1234.5 L1087.6 1233.0 L1087.7 1231.5 L1087.9 1230.0 L1088.0 1228.5 L1088.1 1227.0 L1088.3 1225.5 L1088.4 1224.0 L1088.5 1222.5 L1088.6 1221.0 L1088.8 1219.5 L1088.9 1218.0 L1089.0 1216.5 L1089.1 1215.1 L1089.3 1213.6 L1089.4 1212.1 L1089.5 1210.6 L1089.6 1209.1 L1089.8 1207.6 L1089.9 1206.1 L1090.0 1204.6 L1090.2 1203.1 L1090.3 1201.6 L1090.4 1200.1 L1090.6 1198.6 L1090.7 1197.1 L1090.9 1195.6 L1091.0 1194.1 L1091.2 1192.6 L1091.3 1191.1 L1091.5 1189.6 L1091.7 1188.1 L1091.8 1186.6 L1092.0 1185.1 L1092.2 1183.6 L1092.4 1182.1 L1092.6 1180.7 L1092.7 1179.2 L1092.9 1177.7 L1093.1 1176.2 L1093.3 1174.7 L1093.5 1173.2 L1093.7 1171.7 L1093.9 1170.2 L1094.0 1168.7 L1094.2 1167.2 L1094.4 1165.7 L1094.6 1164.3 L1094.8 1162.8 L1095.0 1161.3 L1095.2 1159.8 L1095.4 1158.3 L1095.6 1156.8 L1095.8 1155.3 L1096.0 1153.8 L1096.2 1152.3 L1096.4 1150.8 L1096.6 1149.3 L1096.8 1147.9 L1097.0 1146.4 L1097.1 1144.9 L1097.3 1143.4 L1097.5 1141.9 L1097.7 1140.4 L1097.9 1138.9 L1098.1 1137.4 L1098.3 1135.9 L1098.5 1134.4 L1098.6 1132.9 L1098.8 1131.5 L1099.0 1130.0 L1099.2 1128.5 L1099.4 1127.0 L1099.6 1125.5 L1099.8 1124.0 L1100.0 1122.5 L1100.1 1121.0 L1100.3 1119.5 L1100.5 1118.0 L1100.7 1116.5 L1100.9 1115.0 L1101.1 1113.6 L1101.3 1112.1 L1101.5 1110.6 L1101.6 1109.1 L1101.8 1107.6 L1102.0 1106.1 L1102.2 1104.6 L1102.4 1103.1 L1102.6 1101.6 L1102.8 1100.1 L1102.9 1098.6 L1103.1 1097.2 L1103.3 1095.7 L1103.5 1094.2 L1103.7 1092.7 L1103.9 1091.2 L1104.1 1089.7 L1104.3 1088.2 L1104.5 1086.7 L1104.6 1085.2 L1104.8 1083.7 L1105.0 1082.2 L1105.2 1080.8 L1105.4 1079.3 L1105.6 1077.8 L1105.8 1076.3 L1106.0 1074.8 L1106.2 1073.3 L1106.4 1071.8 L1106.6 1070.3 L1106.8 1068.8 L1107.0 1067.3 L1107.2 1065.8 L1107.3 1064.4 L1107.5 1062.9 L1107.7 1061.4 L1107.9 1059.9 L1108.1 1058.4 L1108.3 1056.9 L1108.4 1055.4 L1108.6 1053.9 L1108.8 1052.4 L1109.0 1050.9 L1109.1 1049.4 L1109.3 1047.9 L1109.5 1046.4 L1109.6 1044.9 L1109.8 1043.5 L1109.9 1042.0 L1110.1 1040.5 L1110.2 1039.0 L1110.3 1037.5 L1110.4 1036.0 L1110.6 1034.5 L1110.7 1033.0 L1110.8 1031.5 L1110.9 1030.0 L1111.0 1028.5 L1111.1 1027.0 L1111.2 1025.5 L1111.3 1024.0 L1111.4 1022.5 L1111.6 1021.0 L1111.7 1019.5 L1111.8 1018.0 L1111.9 1016.5 L1112.0 1015.0 L1112.2 1013.5 L1112.3 1012.0 L1112.5 1010.5 L1112.6 1009.0 L1112.8 1007.5 L1113.0 1006.0 L1113.2 1004.5 L1113.4 1003.0 L1113.6 1001.6 L1113.8 1000.1 L1114.1 998.6 L1114.3 997.1 L1114.6 995.6 L1114.9 994.2 L1115.2 992.7 L1115.5 991.2 L1115.8 989.7 L1116.1 988.3 L1116.4 986.8 L1116.7 985.3 L1117.0 983.9 L1117.4 982.4 L1117.7 980.9 L1118.0 979.4 L1118.3 978.0 L1118.6 976.5 L1118.8 975.0 L1119.1 973.5 L1119.4 972.1 L1119.6 970.6 L1119.9 969.1 L1120.1 967.6 L1120.3 966.1 L1120.6 964.6 L1120.8 963.2 L1121.0 961.7 L1121.3 960.2 L1121.5 958.7 L1121.7 957.2 L1121.9 955.7 L1122.2 954.2 L1122.4 952.8 L1122.6 951.3 L1122.8 949.8 L1123.0 948.3 L1123.3 946.8 L1123.5 945.3 L1123.7 943.8 L1123.9 942.4 L1124.2 940.9 L1124.4 939.4 L1124.6 937.9 L1124.8 936.4 L1125.0 934.9 L1125.2 933.4 L1125.5 932.0 L1125.8 930.5 L1126.3 929.1 L1126.9 927.8 L1127.7 926.5 L1128.6 925.5 L1129.7 924.6 L1131.0 924.0 L1132.3 923.8 L1133.7 923.9 L1135.0 924.4 L1136.2 925.2 L1137.3 926.1 L1138.3 927.2 L1139.2 928.4 L1139.9 929.7 L1140.5 931.0 L1141.0 932.4 L1141.5 933.9 L1141.9 935.3 L1142.2 936.8 L1142.6 938.2 L1142.9 939.7 L1143.3 941.1 L1143.7 942.6 L1144.1 944.0 L1144.6 945.5 L1145.1 946.9 L1145.6 948.3 L1146.1 949.7 L1146.6 951.1 L1147.2 952.5 L1147.7 953.9 L1148.3 955.3 L1148.9 956.7 L1149.5 958.1 L1150.0 959.5 L1150.6 960.9 L1151.2 962.3 L1151.7 963.6 L1152.3 965.0 L1152.8 966.4 L1153.4 967.8 L1153.9 969.2 L1154.5 970.6 L1155.0 972.1 L1155.5 973.5 L1156.0 974.9 L1156.5 976.3 L1157.0 977.7 L1157.5 979.1 L1158.0 980.6 L1158.4 982.0 L1158.9 983.4 L1159.4 984.8 L1159.8 986.3 L1160.3 987.7 L1160.7 989.1 L1161.2 990.6 L1161.6 992.0 L1162.1 993.5 L1162.5 994.9 L1162.9 996.3 L1163.3 997.8 L1163.8 999.2 L1164.2 1000.7 L1164.6 1002.1 L1165.0 1003.6 L1165.4 1005.0 L1165.8 1006.5 L1166.2 1007.9 L1166.6 1009.3 L1167.0 1010.8 L1167.5 1012.2 L1167.9 1013.7 L1168.3 1015.1 L1168.7 1016.6 L1169.1 1018.0 L1169.5 1019.5 L1169.9 1020.9 L1170.3 1022.4 L1170.8 1023.8 L1171.2 1025.2 L1171.6 1026.7 L1172.0 1028.1 L1172.5 1029.6 L1172.9 1031.0 L1173.3 1032.4 L1173.8 1033.9 L1174.2 1035.3 L1174.7 1036.7 L1175.1 1038.2 L1175.6 1039.6 L1176.0 1041.0 L1176.5 1042.5 L1176.9 1043.9 L1177.4 1045.3 L1177.8 1046.8 L1178.3 1048.2 L1178.7 1049.7 L1179.1 1051.1 L1179.6 1052.5 L1180.0 1054.0 L1180.4 1055.4 L1180.8 1056.9 L1181.3 1058.3 L1181.7 1059.8 L1182.1 1061.2 L1182.5 1062.6 L1182.9 1064.1 L1183.3 1065.5 L1183.7 1067.0 L1184.0 1068.5 L1184.4 1069.9 L1184.8 1071.4 L1185.2 1072.8 L1185.6 1074.3 L1185.9 1075.7 L1186.3 1077.2 L1186.7 1078.6 L1187.1 1080.1 L1187.5 1081.5 L1187.8 1083.0 L1188.2 1084.4 L1188.6 1085.9 L1189.0 1087.4 L1189.4 1088.8 L1189.8 1090.3 L1190.2 1091.7 L1190.6 1093.2 L1191.0 1094.6 L1191.4 1096.0 L1191.8 1097.5 L1192.3 1098.9 L1192.7 1100.4 L1193.1 1101.8 L1193.6 1103.2 L1194.0 1104.7 L1194.5 1106.1 L1194.9 1107.5 L1195.4 1109.0 L1195.8 1110.4 L1196.3 1111.8 L1196.7 1113.3 L1197.2 1114.7 L1197.6 1116.1 L1198.1 1117.6 L1198.5 1119.0 L1199.0 1120.4 L1199.4 1121.9 L1199.8 1123.3 L1200.3 1124.8 L1200.7 1126.2 L1201.1 1127.7 L1201.5 1129.1 L1201.9 1130.5 L1202.3 1132.0 L1202.7 1133.4 L1203.1 1134.9 L1203.6 1136.3 L1204.0 1137.8 L1204.4 1139.2 L1204.8 1140.7 L1205.1 1142.1 L1205.5 1143.6 L1205.9 1145.0 L1206.3 1146.5 L1206.7 1147.9 L1207.1 1149.4 L1207.5 1150.8 L1207.8 1152.3 L1208.2 1153.8 L1208.6 1155.2 L1209.0 1156.7 L1209.3 1158.1 L1209.7 1159.6 L1210.1 1161.0 L1210.4 1162.5 L1210.8 1164.0 L1211.1 1165.4 L1211.5 1166.9 L1211.8 1168.4 L1212.1 1169.8 L1212.5 1171.3 L1212.8 1172.8 L1213.1 1174.2 L1213.4 1175.7 L1213.7 1177.2 L1214.0 1178.6 L1214.4 1180.1 L1214.7 1181.6 L1215.0 1183.0 L1215.3 1184.5 L1215.6 1186.0 L1215.9 1187.5 L1216.2 1188.9 L1216.5 1190.4 L1216.8 1191.9 L1217.1 1193.3 L1217.5 1194.8 L1217.8 1196.3 L1218.1 1197.7 L1218.4 1199.2 L1218.7 1200.7 L1219.1 1202.1 L1219.4 1203.6 L1219.7 1205.1 L1220.1 1206.5 L1220.4 1208.0 L1220.8 1209.5 L1221.1 1210.9 L1221.5 1212.4 L1221.9 1213.8 L1222.3 1215.3 L1222.7 1216.7 L1223.1 1218.2 L1223.5 1219.6 L1223.9 1221.1 L1224.4 1222.5 L1224.9 1223.9 L1225.4 1225.3 L1225.9 1226.7 L1226.5 1228.1 L1227.1 1229.5 L1227.7 1230.9 L1228.4 1232.2 L1229.1 1233.5 L1229.9 1234.8 L1230.7 1236.1 L1231.6 1237.3 L1232.4 1238.5 L1233.4 1239.7 L1234.3 1240.9 L1235.3 1242.0 L1236.3 1243.1 L1237.3 1244.3 L1238.2 1245.4 L1239.2 1246.6 L1240.2 1247.7 L1241.1 1248.9 L1242.0 1250.1 L1242.8 1251.4 L1243.7 1252.6 L1244.5 1253.9 L1245.3 1255.1 L1246.1 1256.4 L1246.9 1257.7 L1247.7 1258.9 L1248.5 1260.2 L1249.3 1261.5 L1250.2 1262.7 L1251.0 1264.0 L1251.8 1265.2 L1252.6 1266.5 L1253.5 1267.7 L1254.4 1268.9 L1255.3 1270.1 L1256.2 1271.3 L1257.2 1272.5 L1258.2 1273.6 L1259.2 1274.7 L1260.3 1275.7 L1261.4 1276.7 L1262.5 1277.7 L1263.7 1278.6 L1264.9 1279.5 L1266.2 1280.4 L1267.4 1281.2 L1268.7 1282.0 L1270.0 1282.8 L1271.3 1283.5 L1272.6 1284.3 L1273.8 1285.1 L1275.1 1285.9 L1276.4 1286.6 L1277.7 1287.5 L1278.9 1288.3 L1280.1 1289.2 L1281.4 1290.0 L1282.6 1290.9 L1283.8 1291.8 L1285.0 1292.8 L1286.1 1293.7 L1287.3 1294.6 L1288.5 1295.6 L1289.7 1296.5 L1290.8 1297.5 L1292.0 1298.4 L1293.1 1299.4 L1294.3 1300.4 L1295.4 1301.3 L1296.6 1302.3 L1297.7 1303.3 L1298.8 1304.3 L1300.0 1305.3 L1301.1 1306.3 L1302.2 1307.3 L1303.3 1308.3 L1304.4 1309.3 L1305.6 1310.3 L1306.7 1311.3 L1307.8 1312.3 L1308.9 1313.4 L1310.0 1314.4 L1311.1 1315.4 L1312.2 1316.4 L1313.3 1317.4 L1314.4 1318.5 L1315.5 1319.5 L1316.6 1320.5 L1317.7 1321.5 L1318.8 1322.5 L1320.0 1323.5 L1321.1 1324.5 L1322.2 1325.5 L1323.3 1326.5 L1324.4 1327.5 L1325.6 1328.5 L1326.7 1329.5 L1327.8 1330.5 L1328.9 1331.5 L1330.0 1332.5 L1331.1 1333.5 L1332.2 1334.6 L1333.3 1335.6 L1334.4 1336.6 L1335.5 1337.7 L1336.6 1338.7 L1337.6 1339.8 L1338.7 1340.9 L1339.7 1341.9 L1340.8 1343.0 L1341.8 1344.1 L1342.8 1345.2 L1343.8 1346.3 L1344.8 1347.5 L1345.8 1348.6 L1346.8 1349.7 L1347.8 1350.8 L1348.8 1352.0 L1349.8 1353.1 L1350.7 1354.3 L1351.7 1355.4 L1352.7 1356.6 L1353.6 1357.7 L1354.6 1358.9 L1355.5 1360.1 L1356.5 1361.2 L1357.4 1362.4 L1358.3 1363.6 L1359.2 1364.8 L1360.2 1366.0 L1361.1 1367.2 L1362.0 1368.3 L1363.0 1369.5 L1363.9 1370.7 L1364.9 1371.8 L1365.8 1373.0 L1366.8 1374.1 L1367.8 1375.2 L1368.8 1376.3 L1369.9 1377.5 L1370.9 1378.6 L1371.9 1379.7 L1372.9 1380.8 L1374.0 1381.8 L1375.0 1382.9 L1376.1 1384.0 L1377.1 1385.0 L1378.2 1386.1 L1379.3 1387.1 L1380.4 1388.2 L1381.5 1389.2 L1382.6 1390.2 L1383.8 1391.2 L1384.9 1392.1 L1386.0 1393.1 L1387.2 1394.1 L1388.4 1395.0 L1389.6 1396.0 L1390.7 1396.9 L1391.9 1397.8 L1393.1 1398.7 L1394.3 1399.6 L1395.6 1400.5 L1396.8 1401.3 L1398.0 1402.2 L1399.3 1403.0 L1400.5 1403.9 L1401.8 1404.7 L1403.1 1405.5 L1404.4 1406.2 L1405.7 1407.0 L1407.0 1407.7 L1408.3 1408.4 L1409.6 1409.1 L1411.0 1409.7 L1412.4 1410.4 L1413.7 1411.0 L1415.1 1411.6 L1416.5 1412.2 L1417.9 1412.7 L1419.3 1413.3 L1420.6 1413.9 L1422.0 1414.5 L1423.4 1415.1 L1424.8 1415.7 L1426.1 1416.4 L1427.5 1417.0 L1428.8 1417.7 L1430.1 1418.4 L1431.5 1419.1 L1432.8 1419.9 L1434.1 1420.6 L1435.4 1421.4 L1436.7 1422.1 L1438.0 1422.9 L1439.3 1423.6 L1440.6 1424.4 L1441.9 1425.1 L1443.3 1425.8 L1444.6 1426.4 L1446.0 1427.1 L1447.3 1427.7 L1448.7 1428.3 L1450.1 1428.9 L1451.5 1429.4 L1452.9 1430.0 L1454.3 1430.5 L1455.7 1431.1 L1457.1 1431.6 L1458.5 1432.1 L1459.9 1432.6 L1461.4 1433.1 L1462.8 1433.6 L1464.2 1434.0 L1465.6 1434.5 L1467.1 1434.9 L1468.5 1435.4 L1469.9 1435.8 L1471.4 1436.2 L1472.8 1436.6 L1474.3 1437.0 L1475.7 1437.4 L1477.2 1437.8 L1478.6 1438.2 L1480.1 1438.5 L1481.6 1438.9 L1483.0 1439.3 L1484.5 1439.6 L1486.0 1440.0 L1487.4 1440.3 L1488.9 1440.6 L1490.3 1441.0 L1491.8 1441.3 L1493.3 1441.7 L1494.7 1442.0 L1496.2 1442.4 L1497.7 1442.7 L1499.1 1443.1 L1500.6 1443.4 L1502.0 1443.8 L1503.5 1444.2 L1504.9 1444.5 L1506.4 1444.9 L1507.9 1445.3 L1509.3 1445.7 L1510.8 1446.1 L1512.2 1446.5 L1513.7 1446.9 L1515.1 1447.3 L1516.6 1447.7 L1518.0 1448.1 L1519.4 1448.5 L1520.9 1448.9 L1522.3 1449.3 L1523.8 1449.7 L1525.2 1450.1 L1526.7 1450.5 L1528.1 1450.9 L1529.6 1451.3 L1531.0 1451.8 L1532.5 1452.2 L1533.9 1452.6 L1535.4 1453.0 L1536.8 1453.4" stroke="#cdcdcd" stroke-width="6.2" fill="none" stroke-linejoin="round" stroke-linecap="round"/>
<path d="M1046.8 1430.0 L1047.9 1429.0 L1049.0 1427.9 L1050.1 1426.9 L1051.2 1425.9 L1052.3 1424.9 L1053.4 1423.9 L1054.4 1422.8 L1055.4 1421.7 L1056.2 1420.5 L1056.9 1419.2 L1057.5 1417.8 L1058.1 1416.4 L1058.6 1415.0 L1059.2 1413.6 L1059.7 1412.2 L1060.2 1410.8 L1060.7 1409.4 L1061.2 1408.0 L1061.7 1406.5 L1062.1 1405.1 L1062.6 1403.7 L1063.0 1402.2 L1063.4 1400.8 L1063.8 1399.4 L1064.2 1397.9 L1064.6 1396.5 L1065.0 1395.0 L1065.3 1393.5 L1065.6 1392.1 L1065.9 1390.6 L1066.2 1389.1 L1066.5 1387.6 L1066.8 1386.2 L1067.0 1384.7 L1067.2 1383.2 L1067.5 1381.7 L1067.7 1380.2 L1067.9 1378.7 L1068.1 1377.2 L1068.3 1375.8 L1068.5 1374.3 L1068.7 1372.8 L1068.9 1371.3 L1069.1 1369.8 L1069.3 1368.3 L1069.5 1366.8 L1069.7 1365.3 L1069.9 1363.8 L1070.1 1362.4 L1070.3 1360.9 L1070.5 1359.4 L1070.7 1357.9 L1070.9 1356.4 L1071.1 1354.9 L1071.3 1353.4 L1071.5 1351.9 L1071.8 1350.4 L1072.0 1349.0 L1072.2 1347.5 L1072.4 1346.0 L1072.6 1344.5 L1072.9 1343.0 L1073.1 1341.5 L1073.3 1340.0 L1073.6 1338.6 L1073.8 1337.1 L1074.0 1335.6 L1074.2 1334.1 L1074.5 1332.6 L1074.7 1331.1 L1074.9 1329.6 L1075.2 1328.2 L1075.4 1326.7 L1075.6 1325.2 L1075.8 1323.7 L1076.1 1322.2 L1076.3 1320.7 L1076.5 1319.2 L1076.7 1317.8 L1076.9 1316.3 L1077.2 1314.8 L1077.4 1313.3 L1077.6 1311.8 L1077.8 1310.3 L1078.0 1308.8 L1078.3 1307.3 L1078.5 1305.9 L1078.7 1304.4 L1078.9 1302.9 L1079.1 1301.4 L1079.3 1299.9 L1079.5 1298.4 L1079.7 1296.9 L1079.9 1295.4 L1080.1 1294.0 L1080.3 1292.5 L1080.5 1291.0 L1080.8 1289.5 L1081.0 1288.0 L1081.2 1286.5 L1081.4 1285.0 L1081.6 1283.5 L1081.8 1282.0 L1082.0 1280.6 L1082.2 1279.1 L1082.4 1277.6 L1082.6 1276.1 L1082.8 1274.6 L1083.0 1273.1 L1083.2 1271.6 L1083.4 1270.1 L1083.6 1268.6 L1083.7 1267.1 L1083.9 1265.7 L1084.1 1264.2 L1084.3 1262.7 L1084.5 1261.2 L1084.7 1259.7 L1084.9 1258.2 L1085.1 1256.7 L1085.2 1255.2 L1085.4 1253.7 L1085.6 1252.2 L1085.8 1250.7 L1085.9 1249.2 L1086.1 1247.7 L1086.3 1246.3 L1086.4 1244.8 L1086.6 1243.3 L1086.8 1241.8 L1086.9 1240.3 L1087.1 1238.8 L1087.2 1237.3 L1087.3 1235.8 L1087.5 1234.3 L1087.6 1232.8 L1087.8 1231.3 L1087.9 1229.8 L1088.0 1228.3 L1088.2 1226.8 L1088.3 1225.3 L1088.4 1223.8 L1088.5 1222.3 L1088.7 1220.8 L1088.8 1219.3 L1088.9 1217.8 L1089.0 1216.3 L1089.2 1214.8 L1089.3 1213.3 L1089.4 1211.8 L1089.5 1210.3 L1089.7 1208.8 L1089.8 1207.3 L1089.9 1205.8 L1090.0 1204.3 L1090.2 1202.9 L1090.3 1201.4 L1090.5 1199.9 L1090.6 1198.4 L1090.7 1196.9 L1090.9 1195.4 L1091.1 1193.9 L1091.2 1192.4 L1091.4 1190.9 L1091.5 1189.4 L1091.7 1187.9 L1091.9 1186.4 L1092.0 1184.9 L1092.2 1183.4 L1092.4 1181.9 L1092.6 1180.4 L1092.8 1178.9 L1092.9 1177.5 L1093.1 1176.0 L1093.3 1174.5 L1093.5 1173.0 L1093.7 1171.5 L1093.9 1170.0 L1094.1 1168.5 L1094.3 1167.0 L1094.5 1165.5 L1094.7 1164.0 L1094.9 1162.5 L1095.1 1161.1 L1095.2 1159.6 L1095.4 1158.1 L1095.6 1156.6 L1095.8 1155.1 L1096.0 1153.6 L1096.2 1152.1 L1096.4 1150.6 L1096.6 1149.1 L1096.8 1147.6 L1097.0 1146.2 L1097.2 1144.7 L1097.4 1143.2 L1097.6 1141.7 L1097.7 1140.2 L1097.9 1138.7 L1098.1 1137.2 L1098.3 1135.7 L1098.5 1134.2 L1098.7 1132.7 L1098.9 1131.2 L1099.0 1129.8 L1099.2 1128.3 L1099.4 1126.8 L1099.6 1125.3 L1099.8 1123.8 L1100.0 1122.3 L1100.2 1120.8 L1100.4 1119.3 L1100.5 1117.8 L1100.7 1116.3 L1100.9 1114.8 L1101.1 1113.3 L1101.3 1111.9 L1101.5 1110.4 L1101.7 1108.9 L1101.8 1107.4 L1102.0 1105.9 L1102.2 1104.4 L1102.4 1102.9 L1102.6 1101.4 L1102.8 1099.9 L1103.0 1098.4 L1103.2 1096.9 L1103.3 1095.5 L1103.5 1094.0 L1103.7 1092.5 L1103.9 1091.0 L1104.1 1089.5 L1104.3 1088.0 L1104.5 1086.5 L1104.7 1085.0 L1104.9 1083.5 L1105.1 1082.0 L1105.3 1080.5 L1105.4 1079.1 L1105.6 1077.6 L1105.8 1076.1 L1106.0 1074.6 L1106.2 1073.1 L1106.4 1071.6 L1106.6 1070.1 L1106.8 1068.6 L1107.0 1067.1 L1107.2 1065.6 L1107.4 1064.2 L1107.6 1062.7 L1107.7 1061.2 L1107.9 1059.7 L1108.1 1058.2 L1108.3 1056.7 L1108.5 1055.2 L1108.6 1053.7 L1108.8 1052.2 L1109.0 1050.7 L1109.2 1049.2 L1109.3 1047.7 L1109.5 1046.2 L1109.6 1044.7 L1109.8 1043.3 L1109.9 1041.8 L1110.1 1040.3 L1110.2 1038.8 L1110.3 1037.3 L1110.5 1035.8 L1110.6 1034.3 L1110.7 1032.8 L1110.8 1031.3 L1110.9 1029.8 L1111.0 1028.3 L1111.1 1026.8 L1111.2 1025.3 L1111.3 1023.8 L1111.5 1022.3 L1111.6 1020.8 L1111.7 1019.3 L1111.8 1017.8 L1111.9 1016.3 L1112.1 1014.8 L1112.2 1013.3 L1112.3 1011.8 L1112.5 1010.3 L1112.6 1008.8 L1112.8 1007.3 L1113.0 1005.8 L1113.2 1004.3 L1113.4 1002.8 L1113.6 1001.4 L1113.9 999.9 L1114.1 998.4 L1114.4 996.9 L1114.6 995.4 L1114.9 994.0 L1115.2 992.5 L1115.5 991.0 L1115.8 989.5 L1116.1 988.1 L1116.4 986.6 L1116.8 985.1 L1117.1 983.7 L1117.4 982.2 L1117.7 980.7 L1118.0 979.3 L1118.3 977.8 L1118.6 976.3 L1118.9 974.8 L1119.1 973.4 L1119.4 971.9 L1119.7 970.4 L1119.9 968.9 L1120.1 967.4 L1120.4 965.9 L1120.6 964.5 L1120.8 963.0 L1121.1 961.5 L1121.3 960.0 L1121.5 958.5 L1121.7 957.0 L1122.0 955.5 L1122.2 954.1 L1122.4 952.6 L1122.6 951.1 L1122.8 949.6 L1123.1 948.1 L1123.3 946.6 L1123.5 945.1 L1123.7 943.6 L1124.0 942.2 L1124.2 940.7 L1124.4 939.2 L1124.6 937.7 L1124.8 936.2 L1125.0 934.7 L1125.3 933.2 L1125.5 931.8 L1125.9 930.3 L1126.4 928.9 L1127.0 927.6 L1127.8 926.4 L1128.8 925.3 L1129.9 924.5 L1131.2 924.0 L1132.5 923.8 L1133.9 924.0 L1135.2 924.5 L1136.4 925.3 L1137.5 926.2 L1138.4 927.3 L1139.3 928.5 L1140.0 929.8 L1140.6 931.2 L1141.1 932.6 L1141.5 934.0 L1141.9 935.5 L1142.3 936.9 L1142.6 938.4 L1143.0 939.9 L1143.4 941.3 L1143.7 942.8 L1144.2 944.2 L1144.6 945.6 L1145.1 947.1 L1145.6 948.5 L1146.2 949.9 L1146.7 951.3 L1147.3 952.7 L1147.8 954.1 L1148.4 955.5 L1148.9 956.9 L1149.5 958.2 L1150.1 959.6 L1150.7 961.0 L1151.2 962.4 L1151.8 963.8 L1152.4 965.2 L1152.9 966.6 L1153.5 968.0 L1154.0 969.4 L1154.5 970.8 L1155.0 972.2 L1155.6 973.6 L1156.1 975.0 L1156.6 976.5 L1157.1 977.9 L1157.5 979.3 L1158.0 980.7 L1158.5 982.2 L1159.0 983.6 L1159.4 985.0 L1159.9 986.4 L1160.3 987.9 L1160.8 989.3 L1161.2 990.8 L1161.7 992.2 L1162.1 993.6 L1162.5 995.1 L1163.0 996.5 L1163.4 997.9 L1163.8 999.4 L1164.2 1000.8 L1164.6 1002.3 L1165.0 1003.7 L1165.5 1005.2 L1165.9 1006.6 L1166.3 1008.1 L1166.7 1009.5 L1167.1 1011.0 L1167.5 1012.4 L1167.9 1013.8 L1168.3 1015.3 L1168.7 1016.7 L1169.1 1018.2 L1169.6 1019.6 L1170.0 1021.1 L1170.4 1022.5 L1170.8 1024.0 L1171.2 1025.4 L1171.7 1026.8 L1172.1 1028.3 L1172.5 1029.7 L1173.0 1031.2 L1173.4 1032.6 L1173.8 1034.0 L1174.3 1035.5 L1174.7 1036.9 L1175.2 1038.3 L1175.6 1039.8 L1176.1 1041.2 L1176.5 1042.6 L1177.0 1044.1 L1177.4 1045.5 L1177.9 1046.9 L1178.3 1048.4 L1178.8 1049.8 L1179.2 1051.3 L1179.6 1052.7 L1180.1 1054.1 L1180.5 1055.6 L1180.9 1057.0 L1181.3 1058.5 L1181.7 1059.9 L1182.1 1061.4 L1182.5 1062.8 L1182.9 1064.3 L1183.3 1065.7 L1183.7 1067.2 L1184.1 1068.6 L1184.5 1070.1 L1184.8 1071.5 L1185.2 1073.0 L1185.6 1074.4 L1186.0 1075.9 L1186.4 1077.3 L1186.7 1078.8 L1187.1 1080.2 L1187.5 1081.7 L1187.9 1083.2 L1188.3 1084.6 L1188.7 1086.1 L1189.0 1087.5 L1189.4 1089.0 L1189.8 1090.4 L1190.2 1091.9 L1190.6 1093.3 L1191.0 1094.8 L1191.5 1096.2 L1191.9 1097.6 L1192.3 1099.1 L1192.7 1100.5 L1193.2 1102.0 L1193.6 1103.4 L1194.1 1104.8 L1194.5 1106.3 L1195.0 1107.7 L1195.4 1109.1 L1195.9 1110.6 L1196.3 1112.0 L1196.8 1113.4 L1197.2 1114.9 L1197.7 1116.3 L1198.1 1117.7 L1198.6 1119.2 L1199.0 1120.6 L1199.5 1122.0 L1199.9 1123.5 L1200.3 1124.9 L1200.7 1126.4 L1201.1 1127.8 L1201.6 1129.3 L1202.0 1130.7 L1202.4 1132.1 L1202.8 1133.6 L1203.2 1135.0 L1203.6 1136.5 L1204.0 1137.9 L1204.4 1139.4 L1204.8 1140.8 L1205.1 1142.3 L1205.5 1143.7 L1205.9 1145.2 L1206.3 1146.6 L1206.7 1148.1 L1207.1 1149.6 L1207.5 1151.0 L1207.8 1152.5 L1208.2 1153.9 L1208.6 1155.4 L1209.0 1156.8 L1209.3 1158.3 L1209.7 1159.7 L1210.1 1161.2 L1210.5 1162.7 L1210.8 1164.1 L1211.2 1165.6 L1211.5 1167.0 L1211.9 1168.5 L1212.2 1170.0 L1212.6 1171.4 L1212.9 1172.9 L1213.2 1174.3 L1213.6 1175.8 L1213.9 1177.3 L1214.2 1178.7 L1214.5 1180.2 L1214.9 1181.7 L1215.2 1183.1 L1215.5 1184.6 L1215.8 1186.1 L1216.2 1187.6 L1216.5 1189.0 L1216.8 1190.5 L1217.2 1191.9 L1217.5 1193.4 L1217.8 1194.9 L1218.2 1196.3 L1218.5 1197.8 L1218.8 1199.3 L1219.2 1200.7 L1219.5 1202.2 L1219.9 1203.7 L1220.3 1205.1 L1220.6 1206.6 L1221.0 1208.0 L1221.4 1209.5 L1221.8 1210.9 L1222.2 1212.4 L1222.6 1213.8 L1223.0 1215.3 L1223.5 1216.7 L1223.9 1218.1 L1224.4 1219.6 L1224.9 1221.0 L1225.4 1222.4 L1226.0 1223.8 L1226.5 1225.2 L1227.1 1226.5 L1227.8 1227.9 L1228.4 1229.2 L1229.2 1230.6 L1229.9 1231.9 L1230.7 1233.2 L1231.5 1234.4 L1232.3 1235.7 L1233.2 1236.9 L1234.1 1238.1 L1235.0 1239.3 L1236.0 1240.5 L1236.9 1241.6 L1237.8 1242.8 L1238.8 1244.0 L1239.7 1245.1 L1240.6 1246.3 L1241.5 1247.5 L1242.4 1248.7 L1243.3 1250.0 L1244.2 1251.2 L1245.0 1252.4 L1245.9 1253.7 L1246.7 1254.9 L1247.6 1256.1 L1248.4 1257.4 L1249.3 1258.6 L1250.2 1259.8 L1251.1 1261.0 L1252.0 1262.2 L1252.9 1263.4 L1253.8 1264.6 L1254.7 1265.8 L1255.7 1266.9 L1256.7 1268.1 L1257.7 1269.2 L1258.8 1270.3 L1259.8 1271.3 L1260.9 1272.3 L1262.0 1273.3 L1263.2 1274.3 L1264.4 1275.2 L1265.6 1276.1 L1266.8 1277.0 L1268.0 1277.9 L1269.3 1278.7 L1270.5 1279.5 L1271.8 1280.4 L1273.0 1281.2 L1274.3 1282.0 L1275.5 1282.9 L1276.8 1283.7 L1278.0 1284.6 L1279.2 1285.5 L1280.4 1286.3 L1281.6 1287.3 L1282.8 1288.2 L1284.0 1289.1 L1285.2 1290.0 L1286.4 1290.9 L1287.5 1291.9 L1288.7 1292.8 L1289.9 1293.8 L1291.1 1294.7 L1292.2 1295.7 L1293.4 1296.6 L1294.5 1297.6 L1295.7 1298.5 L1296.8 1299.5 L1298.0 1300.5 L1299.1 1301.5 L1300.2 1302.5 L1301.3 1303.5 L1302.5 1304.5 L1303.6 1305.5 L1304.7 1306.5 L1305.8 1307.5 L1306.9 1308.5 L1308.0 1309.6 L1309.1 1310.6 L1310.2 1311.6 L1311.3 1312.6 L1312.4 1313.6 L1313.5 1314.7 L1314.6 1315.7 L1315.7 1316.7 L1316.9 1317.7 L1318.0 1318.7 L1319.1 1319.7 L1320.2 1320.7 L1321.3 1321.7 L1322.4 1322.7 L1323.6 1323.7 L1324.7 1324.7 L1325.8 1325.7 L1326.9 1326.7 L1328.0 1327.7 L1329.2 1328.7 L1330.3 1329.8 L1331.4 1330.8 L1332.5 1331.8 L1333.6 1332.8 L1334.7 1333.9 L1335.7 1334.9 L1336.8 1335.9 L1337.9 1337.0 L1338.9 1338.1 L1340.0 1339.2 L1341.0 1340.3 L1342.0 1341.4 L1343.1 1342.5 L1344.1 1343.6 L1345.1 1344.7 L1346.1 1345.8 L1347.0 1347.0 L1348.0 1348.1 L1349.0 1349.2 L1350.0 1350.4 L1351.0 1351.5 L1351.9 1352.7 L1352.9 1353.8 L1353.9 1355.0 L1354.8 1356.1 L1355.7 1357.3 L1356.7 1358.5 L1357.6 1359.7 L1358.5 1360.9 L1359.4 1362.0 L1360.4 1363.2 L1361.3 1364.4 L1362.2 1365.6 L1363.2 1366.8 L1364.1 1367.9 L1365.1 1369.1 L1366.1 1370.2 L1367.1 1371.3 L1368.1 1372.5 L1369.1 1373.6 L1370.1 1374.7 L1371.1 1375.8 L1372.1 1376.9 L1373.2 1378.0 L1374.2 1379.1 L1375.3 1380.1 L1376.3 1381.2 L1377.4 1382.3 L1378.5 1383.3 L1379.6 1384.3 L1380.6 1385.4 L1381.8 1386.4 L1382.9 1387.4 L1384.0 1388.4 L1385.1 1389.4 L1386.3 1390.3 L1387.4 1391.3 L1388.6 1392.3 L1389.7 1393.2 L1390.9 1394.2 L1392.1 1395.1 L1393.3 1396.0 L1394.5 1396.9 L1395.7 1397.8 L1396.9 1398.7 L1398.1 1399.6 L1399.3 1400.5 L1400.6 1401.3 L1401.8 1402.1 L1403.1 1402.9 L1404.4 1403.7 L1405.7 1404.5 L1407.0 1405.2 L1408.3 1405.9 L1409.6 1406.6 L1411.0 1407.3 L1412.4 1407.9 L1413.7 1408.5 L1415.1 1409.1 L1416.5 1409.7 L1417.9 1410.3 L1419.3 1410.9 L1420.7 1411.4 L1422.0 1412.0 L1423.4 1412.6 L1424.8 1413.3 L1426.1 1413.9 L1427.5 1414.5 L1428.8 1415.2 L1430.2 1415.9 L1431.5 1416.6 L1432.8 1417.4 L1434.1 1418.1 L1435.4 1418.9 L1436.7 1419.6 L1438.0 1420.4 L1439.3 1421.1 L1440.6 1421.9 L1441.9 1422.6 L1443.3 1423.3 L1444.6 1423.9 L1446.0 1424.6 L1447.3 1425.2 L1448.7 1425.8 L1450.1 1426.4 L1451.5 1426.9 L1452.9 1427.5 L1454.3 1428.0 L1455.7 1428.6 L1457.1 1429.1 L1458.5 1429.6 L1459.9 1430.1 L1461.4 1430.6 L1462.8 1431.1 L1464.2 1431.5 L1465.6 1432.0 L1467.1 1432.4 L1468.5 1432.9 L1470.0 1433.3 L1471.4 1433.7 L1472.8 1434.1 L1474.3 1434.5 L1475.7 1434.9 L1477.2 1435.3 L1478.7 1435.7 L1480.1 1436.0 L1481.6 1436.4 L1483.0 1436.8 L1484.5 1437.1 L1486.0 1437.5 L1487.4 1437.8 L1488.9 1438.1 L1490.3 1438.5 L1491.8 1438.8 L1493.3 1439.2 L1494.7 1439.5 L1496.2 1439.9 L1497.7 1440.2 L1499.1 1440.6 L1500.6 1440.9 L1502.0 1441.3 L1503.5 1441.7 L1504.9 1442.0 L1506.4 1442.4 L1507.9 1442.8 L1509.3 1443.2 L1510.8 1443.6 L1512.2 1444.0 L1513.7 1444.4 L1515.1 1444.8 L1516.6 1445.2 L1518.0 1445.6 L1519.4 1446.0 L1520.9 1446.4 L1522.3 1446.8 L1523.8 1447.2 L1525.2 1447.6 L1526.7 1448.0 L1528.1 1448.4 L1529.6 1448.8 L1531.0 1449.3 L1532.5 1449.7 L1533.9 1450.1 L1535.4 1450.5 L1536.8 1450.9" stroke="#a8a8a8" stroke-width="6.2" fill="none" stroke-linejoin="round" stroke-linecap="round"/>
<path d="M1046.8 1432.0 L1047.8 1430.9 L1048.8 1429.7 L1049.8 1428.6 L1050.8 1427.5 L1051.8 1426.4 L1052.8 1425.3 L1053.8 1424.1 L1054.7 1423.0 L1055.5 1421.8 L1056.3 1420.5 L1056.9 1419.1 L1057.5 1417.7 L1058.1 1416.4 L1058.6 1415.0 L1059.2 1413.6 L1059.7 1412.1 L1060.2 1410.7 L1060.7 1409.3 L1061.2 1407.9 L1061.7 1406.5 L1062.1 1405.0 L1062.6 1403.6 L1063.0 1402.2 L1063.4 1400.7 L1063.9 1399.3 L1064.2 1397.8 L1064.6 1396.4 L1065.0 1394.9 L1065.3 1393.4 L1065.6 1392.0 L1065.9 1390.5 L1066.2 1389.0 L1066.5 1387.6 L1066.8 1386.1 L1067.0 1384.6 L1067.3 1383.1 L1067.5 1381.6 L1067.7 1380.1 L1067.9 1378.7 L1068.1 1377.2 L1068.4 1375.7 L1068.6 1374.2 L1068.8 1372.7 L1069.0 1371.2 L1069.1 1369.7 L1069.3 1368.2 L1069.5 1366.7 L1069.7 1365.2 L1069.9 1363.8 L1070.1 1362.3 L1070.3 1360.8 L1070.5 1359.3 L1070.7 1357.8 L1070.9 1356.3 L1071.1 1354.8 L1071.3 1353.3 L1071.6 1351.8 L1071.8 1350.4 L1072.0 1348.9 L1072.2 1347.4 L1072.4 1345.9 L1072.7 1344.4 L1072.9 1342.9 L1073.1 1341.4 L1073.3 1340.0 L1073.6 1338.5 L1073.8 1337.0 L1074.0 1335.5 L1074.3 1334.0 L1074.5 1332.5 L1074.7 1331.0 L1074.9 1329.6 L1075.2 1328.1 L1075.4 1326.6 L1075.6 1325.1 L1075.8 1323.6 L1076.1 1322.1 L1076.3 1320.6 L1076.5 1319.1 L1076.7 1317.7 L1077.0 1316.2 L1077.2 1314.7 L1077.4 1313.2 L1077.6 1311.7 L1077.8 1310.2 L1078.1 1308.7 L1078.3 1307.3 L1078.5 1305.8 L1078.7 1304.3 L1078.9 1302.8 L1079.1 1301.3 L1079.3 1299.8 L1079.5 1298.3 L1079.7 1296.8 L1079.9 1295.3 L1080.1 1293.9 L1080.4 1292.4 L1080.6 1290.9 L1080.8 1289.4 L1081.0 1287.9 L1081.2 1286.4 L1081.4 1284.9 L1081.6 1283.4 L1081.8 1281.9 L1082.0 1280.5 L1082.2 1279.0 L1082.4 1277.5 L1082.6 1276.0 L1082.8 1274.5 L1083.0 1273.0 L1083.2 1271.5 L1083.4 1270.0 L1083.6 1268.5 L1083.8 1267.0 L1084.0 1265.6 L1084.1 1264.1 L1084.3 1262.6 L1084.5 1261.1 L1084.7 1259.6 L1084.9 1258.1 L1085.1 1256.6 L1085.3 1255.1 L1085.4 1253.6 L1085.6 1252.1 L1085.8 1250.6 L1086.0 1249.1 L1086.1 1247.6 L1086.3 1246.2 L1086.4 1244.7 L1086.6 1243.2 L1086.8 1241.7 L1086.9 1240.2 L1087.1 1238.7 L1087.2 1237.2 L1087.4 1235.7 L1087.5 1234.2 L1087.6 1232.7 L1087.8 1231.2 L1087.9 1229.7 L1088.0 1228.2 L1088.2 1226.7 L1088.3 1225.2 L1088.4 1223.7 L1088.5 1222.2 L1088.7 1220.7 L1088.8 1219.2 L1088.9 1217.7 L1089.0 1216.2 L1089.2 1214.7 L1089.3 1213.2 L1089.4 1211.7 L1089.5 1210.2 L1089.7 1208.7 L1089.8 1207.2 L1089.9 1205.7 L1090.1 1204.2 L1090.2 1202.7 L1090.3 1201.2 L1090.5 1199.7 L1090.6 1198.3 L1090.8 1196.8 L1090.9 1195.3 L1091.1 1193.8 L1091.2 1192.3 L1091.4 1190.8 L1091.5 1189.3 L1091.7 1187.8 L1091.9 1186.3 L1092.1 1184.8 L1092.2 1183.3 L1092.4 1181.8 L1092.6 1180.3 L1092.8 1178.8 L1093.0 1177.3 L1093.1 1175.8 L1093.3 1174.4 L1093.5 1172.9 L1093.7 1171.4 L1093.9 1169.9 L1094.1 1168.4 L1094.3 1166.9 L1094.5 1165.4 L1094.7 1163.9 L1094.9 1162.4 L1095.1 1160.9 L1095.3 1159.4 L1095.5 1158.0 L1095.7 1156.5 L1095.8 1155.0 L1096.0 1153.5 L1096.2 1152.0 L1096.4 1150.5 L1096.6 1149.0 L1096.8 1147.5 L1097.0 1146.0 L1097.2 1144.5 L1097.4 1143.1 L1097.6 1141.6 L1097.8 1140.1 L1097.9 1138.6 L1098.1 1137.1 L1098.3 1135.6 L1098.5 1134.1 L1098.7 1132.6 L1098.9 1131.1 L1099.1 1129.6 L1099.2 1128.1 L1099.4 1126.6 L1099.6 1125.2 L1099.8 1123.7 L1100.0 1122.2 L1100.2 1120.7 L1100.4 1119.2 L1100.6 1117.7 L1100.7 1116.2 L1100.9 1114.7 L1101.1 1113.2 L1101.3 1111.7 L1101.5 1110.2 L1101.7 1108.7 L1101.9 1107.3 L1102.1 1105.8 L1102.2 1104.3 L1102.4 1102.8 L1102.6 1101.3 L1102.8 1099.8 L1103.0 1098.3 L1103.2 1096.8 L1103.4 1095.3 L1103.5 1093.8 L1103.7 1092.3 L1103.9 1090.9 L1104.1 1089.4 L1104.3 1087.9 L1104.5 1086.4 L1104.7 1084.9 L1104.9 1083.4 L1105.1 1081.9 L1105.3 1080.4 L1105.5 1078.9 L1105.7 1077.4 L1105.9 1075.9 L1106.0 1074.5 L1106.2 1073.0 L1106.4 1071.5 L1106.6 1070.0 L1106.8 1068.5 L1107.0 1067.0 L1107.2 1065.5 L1107.4 1064.0 L1107.6 1062.5 L1107.8 1061.0 L1107.9 1059.5 L1108.1 1058.1 L1108.3 1056.6 L1108.5 1055.1 L1108.7 1053.6 L1108.8 1052.1 L1109.0 1050.6 L1109.2 1049.1 L1109.3 1047.6 L1109.5 1046.1 L1109.7 1044.6 L1109.8 1043.1 L1109.9 1041.6 L1110.1 1040.1 L1110.2 1038.6 L1110.3 1037.1 L1110.5 1035.6 L1110.6 1034.1 L1110.7 1032.6 L1110.8 1031.1 L1110.9 1029.6 L1111.0 1028.1 L1111.1 1026.6 L1111.3 1025.1 L1111.4 1023.6 L1111.5 1022.1 L1111.6 1020.6 L1111.7 1019.1 L1111.8 1017.6 L1111.9 1016.1 L1112.1 1014.6 L1112.2 1013.2 L1112.3 1011.7 L1112.5 1010.2 L1112.7 1008.7 L1112.8 1007.2 L1113.0 1005.7 L1113.2 1004.2 L1113.4 1002.7 L1113.6 1001.2 L1113.9 999.7 L1114.1 998.3 L1114.4 996.8 L1114.7 995.3 L1114.9 993.8 L1115.2 992.3 L1115.5 990.9 L1115.9 989.4 L1116.2 987.9 L1116.5 986.5 L1116.8 985.0 L1117.1 983.5 L1117.4 982.1 L1117.7 980.6 L1118.0 979.1 L1118.3 977.6 L1118.6 976.2 L1118.9 974.7 L1119.2 973.2 L1119.4 971.7 L1119.7 970.2 L1119.9 968.8 L1120.2 967.3 L1120.4 965.8 L1120.6 964.3 L1120.9 962.8 L1121.1 961.3 L1121.3 959.8 L1121.5 958.4 L1121.8 956.9 L1122.0 955.4 L1122.2 953.9 L1122.4 952.4 L1122.6 950.9 L1122.9 949.4 L1123.1 948.0 L1123.3 946.5 L1123.5 945.0 L1123.8 943.5 L1124.0 942.0 L1124.2 940.5 L1124.4 939.0 L1124.6 937.6 L1124.8 936.1 L1125.1 934.6 L1125.3 933.1 L1125.6 931.6 L1125.9 930.2 L1126.4 928.8 L1127.1 927.5 L1127.9 926.3 L1128.9 925.2 L1130.0 924.4 L1131.3 923.9 L1132.6 923.8 L1134.0 924.0 L1135.3 924.6 L1136.5 925.3 L1137.6 926.3 L1138.5 927.4 L1139.4 928.7 L1140.1 930.0 L1140.6 931.3 L1141.1 932.8 L1141.6 934.2 L1142.0 935.6 L1142.3 937.1 L1142.7 938.6 L1143.0 940.0 L1143.4 941.5 L1143.8 942.9 L1144.2 944.4 L1144.7 945.8 L1145.2 947.2 L1145.7 948.6 L1146.2 950.0 L1146.8 951.4 L1147.3 952.8 L1147.9 954.2 L1148.4 955.6 L1149.0 957.0 L1149.6 958.4 L1150.2 959.8 L1150.7 961.2 L1151.3 962.6 L1151.9 964.0 L1152.4 965.4 L1153.0 966.8 L1153.5 968.2 L1154.1 969.6 L1154.6 971.0 L1155.1 972.4 L1155.6 973.8 L1156.1 975.2 L1156.6 976.6 L1157.1 978.0 L1157.6 979.5 L1158.1 980.9 L1158.6 982.3 L1159.0 983.7 L1159.5 985.2 L1159.9 986.6 L1160.4 988.0 L1160.8 989.5 L1161.3 990.9 L1161.7 992.4 L1162.2 993.8 L1162.6 995.2 L1163.0 996.7 L1163.4 998.1 L1163.9 999.6 L1164.3 1001.0 L1164.7 1002.4 L1165.1 1003.9 L1165.5 1005.3 L1165.9 1006.8 L1166.3 1008.2 L1166.7 1009.7 L1167.1 1011.1 L1167.5 1012.6 L1168.0 1014.0 L1168.4 1015.5 L1168.8 1016.9 L1169.2 1018.4 L1169.6 1019.8 L1170.0 1021.2 L1170.4 1022.7 L1170.9 1024.1 L1171.3 1025.6 L1171.7 1027.0 L1172.1 1028.5 L1172.6 1029.9 L1173.0 1031.3 L1173.4 1032.8 L1173.9 1034.2 L1174.3 1035.6 L1174.8 1037.1 L1175.2 1038.5 L1175.7 1039.9 L1176.1 1041.4 L1176.6 1042.8 L1177.0 1044.2 L1177.5 1045.7 L1177.9 1047.1 L1178.4 1048.6 L1178.8 1050.0 L1179.2 1051.4 L1179.7 1052.9 L1180.1 1054.3 L1180.5 1055.8 L1180.9 1057.2 L1181.4 1058.6 L1181.8 1060.1 L1182.2 1061.5 L1182.6 1063.0 L1183.0 1064.4 L1183.4 1065.9 L1183.7 1067.3 L1184.1 1068.8 L1184.5 1070.2 L1184.9 1071.7 L1185.3 1073.2 L1185.7 1074.6 L1186.0 1076.1 L1186.4 1077.5 L1186.8 1079.0 L1187.2 1080.4 L1187.5 1081.9 L1187.9 1083.3 L1188.3 1084.8 L1188.7 1086.2 L1189.1 1087.7 L1189.5 1089.1 L1189.9 1090.6 L1190.3 1092.0 L1190.7 1093.5 L1191.1 1094.9 L1191.5 1096.4 L1191.9 1097.8 L1192.4 1099.3 L1192.8 1100.7 L1193.2 1102.1 L1193.7 1103.6 L1194.1 1105.0 L1194.6 1106.4 L1195.0 1107.9 L1195.5 1109.3 L1195.9 1110.7 L1196.4 1112.2 L1196.8 1113.6 L1197.3 1115.0 L1197.7 1116.5 L1198.2 1117.9 L1198.6 1119.3 L1199.1 1120.8 L1199.5 1122.2 L1199.9 1123.7 L1200.4 1125.1 L1200.8 1126.5 L1201.2 1128.0 L1201.6 1129.4 L1202.0 1130.9 L1202.4 1132.3 L1202.8 1133.8 L1203.2 1135.2 L1203.6 1136.7 L1204.0 1138.1 L1204.4 1139.6 L1204.8 1141.0 L1205.2 1142.5 L1205.6 1143.9 L1206.0 1145.4 L1206.3 1146.8 L1206.7 1148.3 L1207.1 1149.7 L1207.5 1151.2 L1207.9 1152.7 L1208.2 1154.1 L1208.6 1155.6 L1209.0 1157.0 L1209.4 1158.5 L1209.8 1159.9 L1210.1 1161.4 L1210.5 1162.8 L1210.9 1164.3 L1211.2 1165.8 L1211.6 1167.2 L1211.9 1168.7 L1212.3 1170.2 L1212.6 1171.6 L1212.9 1173.1 L1213.2 1174.6 L1213.6 1176.0 L1213.9 1177.5 L1214.2 1179.0 L1214.5 1180.4 L1214.8 1181.9 L1215.2 1183.4 L1215.5 1184.8 L1215.8 1186.3 L1216.1 1187.8 L1216.5 1189.2 L1216.8 1190.7 L1217.1 1192.2 L1217.5 1193.6 L1217.8 1195.1 L1218.2 1196.6 L1218.5 1198.0 L1218.9 1199.5 L1219.3 1200.9 L1219.7 1202.4 L1220.1 1203.8 L1220.5 1205.3 L1221.0 1206.7 L1221.4 1208.1 L1221.9 1209.5 L1222.5 1210.9 L1223.0 1212.3 L1223.6 1213.7 L1224.2 1215.1 L1224.9 1216.4 L1225.5 1217.8 L1226.3 1219.1 L1227.0 1220.4 L1227.8 1221.7 L1228.7 1222.9 L1229.5 1224.1 L1230.4 1225.3 L1231.3 1226.5 L1232.3 1227.7 L1233.3 1228.8 L1234.2 1230.0 L1235.2 1231.1 L1236.2 1232.2 L1237.2 1233.4 L1238.2 1234.5 L1239.2 1235.6 L1240.2 1236.8 L1241.2 1237.9 L1242.2 1239.0 L1243.1 1240.2 L1244.1 1241.3 L1245.2 1242.4 L1246.2 1243.5 L1247.2 1244.6 L1248.2 1245.7 L1249.3 1246.8 L1250.4 1247.8 L1251.4 1248.9 L1252.5 1249.9 L1253.6 1250.9 L1254.7 1251.9 L1255.9 1252.9 L1257.0 1253.9 L1258.2 1254.8 L1259.4 1255.8 L1260.6 1256.7 L1261.8 1257.6 L1263.0 1258.4 L1264.3 1259.2 L1265.6 1260.0 L1266.9 1260.8 L1268.2 1261.5 L1269.5 1262.2 L1270.8 1262.9 L1272.1 1263.7 L1273.5 1264.4 L1274.8 1265.1 L1276.1 1265.8 L1277.4 1266.5 L1278.7 1267.3 L1280.0 1268.0 L1281.3 1268.8 L1282.6 1269.6 L1283.9 1270.4 L1285.1 1271.2 L1286.4 1272.0 L1287.7 1272.8 L1288.9 1273.6 L1290.2 1274.4 L1291.5 1275.2 L1292.7 1276.0 L1294.0 1276.8 L1295.3 1277.6 L1296.5 1278.5 L1297.8 1279.3 L1299.1 1280.1 L1300.3 1280.9 L1301.6 1281.7 L1302.9 1282.4 L1304.2 1283.2 L1305.5 1284.0 L1306.8 1284.8 L1308.0 1285.6 L1309.3 1286.3 L1310.6 1287.1 L1311.9 1287.9 L1313.1 1288.8 L1314.4 1289.6 L1315.6 1290.5 L1316.8 1291.3 L1318.0 1292.2 L1319.2 1293.1 L1320.4 1294.1 L1321.6 1295.0 L1322.7 1296.0 L1323.9 1297.0 L1325.0 1297.9 L1326.1 1298.9 L1327.2 1300.0 L1328.3 1301.0 L1329.4 1302.0 L1330.5 1303.0 L1331.6 1304.1 L1332.7 1305.1 L1333.8 1306.2 L1334.8 1307.2 L1335.9 1308.3 L1337.0 1309.4 L1338.0 1310.4 L1339.1 1311.5 L1340.1 1312.6 L1341.2 1313.7 L1342.2 1314.8 L1343.2 1315.9 L1344.3 1317.0 L1345.3 1318.1 L1346.3 1319.2 L1347.3 1320.3 L1348.3 1321.4 L1349.3 1322.6 L1350.2 1323.7 L1351.2 1324.9 L1352.1 1326.1 L1353.0 1327.3 L1353.8 1328.5 L1354.7 1329.8 L1355.4 1331.0 L1356.1 1332.4 L1356.8 1333.7 L1357.5 1335.1 L1358.1 1336.4 L1358.8 1337.7 L1359.5 1339.1 L1360.3 1340.4 L1361.1 1341.6 L1362.0 1342.8 L1362.9 1344.0 L1363.9 1345.1 L1365.0 1346.1 L1366.1 1347.2 L1367.2 1348.2 L1368.3 1349.2 L1369.4 1350.2 L1370.5 1351.2 L1371.5 1352.3 L1372.5 1353.5 L1373.4 1354.6 L1374.3 1355.8 L1375.2 1357.1 L1376.0 1358.3 L1376.8 1359.6 L1377.5 1360.9 L1378.3 1362.2 L1379.0 1363.5 L1379.8 1364.8 L1380.5 1366.1 L1381.2 1367.5 L1382.0 1368.8 L1382.8 1370.1 L1383.5 1371.3 L1384.3 1372.6 L1385.2 1373.9 L1386.0 1375.1 L1386.9 1376.3 L1387.8 1377.5 L1388.8 1378.6 L1389.8 1379.8 L1390.8 1380.9 L1391.9 1382.0 L1392.9 1383.0 L1394.0 1384.0 L1395.1 1385.1 L1396.2 1386.1 L1397.4 1387.0 L1398.5 1388.0 L1399.7 1388.9 L1400.9 1389.9 L1402.1 1390.8 L1403.3 1391.7 L1404.5 1392.6 L1405.7 1393.4 L1407.0 1394.3 L1408.2 1395.1 L1409.5 1395.9 L1410.7 1396.7 L1412.0 1397.5 L1413.3 1398.3 L1414.6 1399.0 L1415.9 1399.8 L1417.2 1400.5 L1418.5 1401.3 L1419.8 1402.0 L1421.1 1402.8 L1422.4 1403.6 L1423.7 1404.4 L1425.0 1405.2 L1426.2 1406.0 L1427.5 1406.8 L1428.7 1407.7 L1429.9 1408.6 L1431.1 1409.5 L1432.2 1410.5 L1433.4 1411.4 L1434.5 1412.4 L1435.7 1413.4 L1436.8 1414.4 L1438.0 1415.3 L1439.1 1416.3 L1440.3 1417.3 L1441.4 1418.2 L1442.6 1419.1 L1443.9 1420.0 L1445.1 1420.8 L1446.4 1421.7 L1447.6 1422.5 L1448.9 1423.2 L1450.2 1424.0 L1451.5 1424.7 L1452.9 1425.4 L1454.2 1426.1 L1455.6 1426.7 L1457.0 1427.3 L1458.3 1427.9 L1459.7 1428.4 L1461.1 1429.0 L1462.6 1429.5 L1464.0 1430.0 L1465.4 1430.4 L1466.8 1430.9 L1468.3 1431.3 L1469.7 1431.7 L1471.2 1432.1 L1472.6 1432.5 L1474.1 1432.8 L1475.6 1433.2 L1477.0 1433.5 L1478.5 1433.9 L1479.9 1434.3 L1481.4 1434.6 L1482.9 1435.0 L1484.3 1435.3 L1485.8 1435.7 L1487.2 1436.1 L1488.7 1436.4 L1490.1 1436.8 L1491.6 1437.2 L1493.1 1437.5 L1494.5 1437.9 L1496.0 1438.3 L1497.4 1438.6 L1498.9 1439.0 L1500.3 1439.4 L1501.8 1439.7 L1503.3 1440.1 L1504.7 1440.5 L1506.2 1440.8 L1507.6 1441.2 L1509.1 1441.6 L1510.6 1441.9 L1512.0 1442.3 L1513.5 1442.7 L1514.9 1443.0 L1516.4 1443.4 L1517.8 1443.8 L1519.3 1444.1 L1520.8 1444.5 L1522.2 1444.9 L1523.7 1445.2 L1525.1 1445.6 L1526.6 1445.9 L1528.1 1446.3 L1529.5 1446.7 L1531.0 1447.0 L1532.4 1447.4 L1533.9 1447.8 L1535.3 1448.1 L1536.8 1448.5" stroke="#808080" stroke-width="6.2" fill="none" stroke-linejoin="round" stroke-linecap="round"/>
<path d="M1046.8 1443.5 L1047.4 1442.1 L1048.1 1440.8 L1048.7 1439.4 L1049.3 1438.0 L1049.9 1436.7 L1050.6 1435.3 L1051.2 1433.9 L1051.8 1432.5 L1052.3 1431.2 L1052.9 1429.8 L1053.5 1428.4 L1054.1 1427.0 L1054.6 1425.6 L1055.2 1424.2 L1055.7 1422.8 L1056.2 1421.4 L1056.7 1420.0 L1057.2 1418.5 L1057.7 1417.1 L1058.2 1415.7 L1058.7 1414.3 L1059.3 1412.9 L1059.8 1411.5 L1060.3 1410.1 L1060.8 1408.7 L1061.3 1407.2 L1061.8 1405.8 L1062.3 1404.4 L1062.7 1403.0 L1063.2 1401.5 L1063.6 1400.1 L1064.0 1398.6 L1064.4 1397.2 L1064.8 1395.7 L1065.1 1394.3 L1065.5 1392.8 L1065.8 1391.3 L1066.1 1389.9 L1066.4 1388.4 L1066.6 1386.9 L1066.9 1385.4 L1067.1 1383.9 L1067.4 1382.5 L1067.6 1381.0 L1067.8 1379.5 L1068.0 1378.0 L1068.2 1376.5 L1068.4 1375.0 L1068.6 1373.5 L1068.8 1372.0 L1069.0 1370.6 L1069.2 1369.1 L1069.4 1367.6 L1069.6 1366.1 L1069.8 1364.6 L1070.0 1363.1 L1070.2 1361.6 L1070.4 1360.1 L1070.6 1358.6 L1070.8 1357.1 L1071.0 1355.7 L1071.2 1354.2 L1071.4 1352.7 L1071.6 1351.2 L1071.9 1349.7 L1072.1 1348.2 L1072.3 1346.7 L1072.5 1345.2 L1072.8 1343.8 L1073.0 1342.3 L1073.2 1340.8 L1073.4 1339.3 L1073.7 1337.8 L1073.9 1336.3 L1074.1 1334.8 L1074.4 1333.4 L1074.6 1331.9 L1074.8 1330.4 L1075.0 1328.9 L1075.3 1327.4 L1075.5 1325.9 L1075.7 1324.4 L1075.9 1323.0 L1076.2 1321.5 L1076.4 1320.0 L1076.6 1318.5 L1076.8 1317.0 L1077.1 1315.5 L1077.3 1314.0 L1077.5 1312.5 L1077.7 1311.1 L1077.9 1309.6 L1078.1 1308.1 L1078.4 1306.6 L1078.6 1305.1 L1078.8 1303.6 L1079.0 1302.1 L1079.2 1300.6 L1079.4 1299.2 L1079.6 1297.7 L1079.8 1296.2 L1080.0 1294.7 L1080.2 1293.2 L1080.4 1291.7 L1080.7 1290.2 L1080.9 1288.7 L1081.1 1287.2 L1081.3 1285.8 L1081.5 1284.3 L1081.7 1282.8 L1081.9 1281.3 L1082.1 1279.8 L1082.3 1278.3 L1082.5 1276.8 L1082.7 1275.3 L1082.9 1273.8 L1083.1 1272.3 L1083.3 1270.9 L1083.5 1269.4 L1083.7 1267.9 L1083.8 1266.4 L1084.0 1264.9 L1084.2 1263.4 L1084.4 1261.9 L1084.6 1260.4 L1084.8 1258.9 L1085.0 1257.4 L1085.2 1255.9 L1085.3 1254.5 L1085.5 1253.0 L1085.7 1251.5 L1085.9 1250.0 L1086.0 1248.5 L1086.2 1247.0 L1086.4 1245.5 L1086.5 1244.0 L1086.7 1242.5 L1086.8 1241.0 L1087.0 1239.5 L1087.1 1238.0 L1087.3 1236.5 L1087.4 1235.0 L1087.6 1233.5 L1087.7 1232.0 L1087.8 1230.5 L1088.0 1229.0 L1088.1 1227.5 L1088.2 1226.0 L1088.3 1224.5 L1088.5 1223.0 L1088.6 1221.5 L1088.7 1220.0 L1088.8 1218.6 L1089.0 1217.1 L1089.1 1215.6 L1089.2 1214.1 L1089.3 1212.6 L1089.5 1211.1 L1089.6 1209.6 L1089.7 1208.1 L1089.9 1206.6 L1090.0 1205.1 L1090.1 1203.6 L1090.3 1202.1 L1090.4 1200.6 L1090.5 1199.1 L1090.7 1197.6 L1090.8 1196.1 L1091.0 1194.6 L1091.1 1193.1 L1091.3 1191.6 L1091.5 1190.1 L1091.6 1188.6 L1091.8 1187.1 L1092.0 1185.6 L1092.1 1184.1 L1092.3 1182.6 L1092.5 1181.2 L1092.7 1179.7 L1092.9 1178.2 L1093.0 1176.7 L1093.2 1175.2 L1093.4 1173.7 L1093.6 1172.2 L1093.8 1170.7 L1094.0 1169.2 L1094.2 1167.7 L1094.4 1166.2 L1094.6 1164.8 L1094.8 1163.3 L1095.0 1161.8 L1095.2 1160.3 L1095.3 1158.8 L1095.5 1157.3 L1095.7 1155.8 L1095.9 1154.3 L1096.1 1152.8 L1096.3 1151.3 L1096.5 1149.8 L1096.7 1148.4 L1096.9 1146.9 L1097.1 1145.4 L1097.3 1143.9 L1097.5 1142.4 L1097.7 1140.9 L1097.8 1139.4 L1098.0 1137.9 L1098.2 1136.4 L1098.4 1134.9 L1098.6 1133.4 L1098.8 1132.0 L1099.0 1130.5 L1099.1 1129.0 L1099.3 1127.5 L1099.5 1126.0 L1099.7 1124.5 L1099.9 1123.0 L1100.1 1121.5 L1100.3 1120.0 L1100.5 1118.5 L1100.6 1117.0 L1100.8 1115.5 L1101.0 1114.1 L1101.2 1112.6 L1101.4 1111.1 L1101.6 1109.6 L1101.8 1108.1 L1101.9 1106.6 L1102.1 1105.1 L1102.3 1103.6 L1102.5 1102.1 L1102.7 1100.6 L1102.9 1099.1 L1103.1 1097.6 L1103.3 1096.2 L1103.4 1094.7 L1103.6 1093.2 L1103.8 1091.7 L1104.0 1090.2 L1104.2 1088.7 L1104.4 1087.2 L1104.6 1085.7 L1104.8 1084.2 L1105.0 1082.7 L1105.2 1081.2 L1105.4 1079.8 L1105.6 1078.3 L1105.7 1076.8 L1105.9 1075.3 L1106.1 1073.8 L1106.3 1072.3 L1106.5 1070.8 L1106.7 1069.3 L1106.9 1067.8 L1107.1 1066.3 L1107.3 1064.8 L1107.5 1063.4 L1107.7 1061.9 L1107.8 1060.4 L1108.0 1058.9 L1108.2 1057.4 L1108.4 1055.9 L1108.6 1054.4 L1108.7 1052.9 L1108.9 1051.4 L1109.1 1049.9 L1109.2 1048.4 L1109.4 1046.9 L1109.6 1045.4 L1109.7 1043.9 L1109.9 1042.5 L1110.0 1041.0 L1110.1 1039.5 L1110.3 1038.0 L1110.4 1036.5 L1110.5 1035.0 L1110.6 1033.5 L1110.8 1032.0 L1110.9 1030.5 L1111.0 1029.0 L1111.1 1027.5 L1111.2 1026.0 L1111.3 1024.5 L1111.4 1023.0 L1111.5 1021.5 L1111.6 1020.0 L1111.7 1018.5 L1111.9 1017.0 L1112.0 1015.5 L1112.1 1014.0 L1112.3 1012.5 L1112.4 1011.0 L1112.6 1009.5 L1112.7 1008.0 L1112.9 1006.5 L1113.1 1005.0 L1113.3 1003.5 L1113.5 1002.0 L1113.7 1000.6 L1114.0 999.1 L1114.2 997.6 L1114.5 996.1 L1114.8 994.6 L1115.1 993.2 L1115.4 991.7 L1115.7 990.2 L1116.0 988.7 L1116.3 987.3 L1116.6 985.8 L1116.9 984.3 L1117.3 982.9 L1117.6 981.4 L1117.9 979.9 L1118.2 978.5 L1118.5 977.0 L1118.7 975.5 L1119.0 974.0 L1119.3 972.5 L1119.5 971.1 L1119.8 969.6 L1120.0 968.1 L1120.3 966.6 L1120.5 965.1 L1120.7 963.6 L1121.0 962.2 L1121.2 960.7 L1121.4 959.2 L1121.6 957.7 L1121.9 956.2 L1122.1 954.7 L1122.3 953.2 L1122.5 951.8 L1122.7 950.3 L1123.0 948.8 L1123.2 947.3 L1123.4 945.8 L1123.6 944.3 L1123.9 942.8 L1124.1 941.3 L1124.3 939.9 L1124.5 938.4 L1124.7 936.9 L1124.9 935.4 L1125.1 933.9 L1125.4 932.4 L1125.7 931.0 L1126.1 929.6 L1126.7 928.2 L1127.4 926.9 L1128.3 925.8 L1129.4 924.8 L1130.6 924.2 L1131.9 923.8 L1133.2 923.9 L1134.6 924.2 L1135.8 924.9 L1137.0 925.8 L1138.0 926.8 L1138.9 928.0 L1139.7 929.2 L1140.3 930.6 L1140.9 932.0 L1141.3 933.4 L1141.7 934.8 L1142.1 936.3 L1142.5 937.8 L1142.8 939.2 L1143.2 940.7 L1143.6 942.1 L1144.0 943.6 L1144.4 945.0 L1144.9 946.4 L1145.4 947.8 L1145.9 949.3 L1146.5 950.7 L1147.0 952.1 L1147.6 953.5 L1148.1 954.9 L1148.7 956.2 L1149.3 957.6 L1149.8 959.0 L1150.4 960.4 L1151.0 961.8 L1151.6 963.2 L1152.1 964.6 L1152.7 966.0 L1153.2 967.4 L1153.8 968.8 L1154.3 970.2 L1154.8 971.6 L1155.3 973.0 L1155.8 974.4 L1156.3 975.8 L1156.8 977.3 L1157.3 978.7 L1157.8 980.1 L1158.3 981.5 L1158.8 983.0 L1159.2 984.4 L1159.7 985.8 L1160.1 987.3 L1160.6 988.7 L1161.0 990.1 L1161.5 991.6 L1161.9 993.0 L1162.3 994.4 L1162.8 995.9 L1163.2 997.3 L1163.6 998.8 L1164.0 1000.2 L1164.5 1001.6 L1164.9 1003.1 L1165.3 1004.5 L1165.7 1006.0 L1166.1 1007.4 L1166.5 1008.9 L1166.9 1010.3 L1167.3 1011.8 L1167.7 1013.2 L1168.1 1014.7 L1168.5 1016.1 L1169.0 1017.6 L1169.4 1019.0 L1169.8 1020.4 L1170.2 1021.9 L1170.6 1023.3 L1171.0 1024.8 L1171.5 1026.2 L1171.9 1027.7 L1172.3 1029.1 L1172.8 1030.5 L1173.2 1032.0 L1173.6 1033.4 L1174.1 1034.9 L1174.5 1036.3 L1175.0 1037.7 L1175.4 1039.2 L1175.9 1040.6 L1176.3 1042.0 L1176.8 1043.5 L1177.2 1044.9 L1177.7 1046.3 L1178.1 1047.8 L1178.6 1049.2 L1179.0 1050.6 L1179.4 1052.1 L1179.9 1053.5 L1180.3 1055.0 L1180.7 1056.4 L1181.1 1057.8 L1181.5 1059.3 L1181.9 1060.7 L1182.4 1062.2 L1182.7 1063.6 L1183.1 1065.1 L1183.5 1066.5 L1183.9 1068.0 L1184.3 1069.4 L1184.7 1070.9 L1185.1 1072.4 L1185.4 1073.8 L1185.8 1075.3 L1186.2 1076.7 L1186.6 1078.2 L1187.0 1079.6 L1187.3 1081.1 L1187.7 1082.5 L1188.1 1084.0 L1188.5 1085.4 L1188.9 1086.9 L1189.3 1088.3 L1189.7 1089.8 L1190.1 1091.2 L1190.5 1092.7 L1190.9 1094.1 L1191.3 1095.6 L1191.7 1097.0 L1192.1 1098.5 L1192.6 1099.9 L1193.0 1101.3 L1193.4 1102.8 L1193.9 1104.2 L1194.3 1105.7 L1194.8 1107.1 L1195.2 1108.5 L1195.7 1110.0 L1196.1 1111.4 L1196.6 1112.8 L1197.0 1114.3 L1197.5 1115.7 L1197.9 1117.1 L1198.4 1118.6 L1198.8 1120.0 L1199.3 1121.4 L1199.7 1122.9 L1200.1 1124.3 L1200.5 1125.8 L1201.0 1127.2 L1201.4 1128.6 L1201.8 1130.1 L1202.2 1131.5 L1202.5 1133.0 L1202.9 1134.5 L1203.3 1135.9 L1203.7 1137.4 L1204.1 1138.8 L1204.4 1140.3 L1204.8 1141.7 L1205.2 1143.2 L1205.6 1144.6 L1205.9 1146.1 L1206.3 1147.6 L1206.7 1149.0 L1207.1 1150.5 L1207.4 1151.9 L1207.8 1153.4 L1208.2 1154.8 L1208.6 1156.3 L1209.0 1157.7 L1209.4 1159.2 L1209.8 1160.6 L1210.3 1162.1 L1210.7 1163.5 L1211.1 1164.9 L1211.6 1166.4 L1212.0 1167.8 L1212.4 1169.3 L1212.9 1170.7 L1213.3 1172.1 L1213.7 1173.6 L1214.2 1175.0 L1214.6 1176.4 L1215.1 1177.9 L1215.5 1179.3 L1216.0 1180.7 L1216.4 1182.2 L1216.9 1183.6 L1217.4 1185.0 L1217.9 1186.4 L1218.3 1187.9 L1218.8 1189.3 L1219.3 1190.7 L1219.8 1192.1 L1220.4 1193.5 L1220.9 1194.9 L1221.4 1196.3 L1222.0 1197.7 L1222.6 1199.1 L1223.2 1200.5 L1223.8 1201.9 L1224.5 1203.2 L1225.1 1204.6 L1225.9 1205.9 L1226.6 1207.2 L1227.3 1208.5 L1228.1 1209.8 L1229.0 1211.0 L1229.8 1212.3 L1230.7 1213.5 L1231.6 1214.7 L1232.5 1215.9 L1233.4 1217.1 L1234.3 1218.3 L1235.2 1219.5 L1236.2 1220.6 L1237.2 1221.7 L1238.2 1222.9 L1239.2 1224.0 L1240.2 1225.1 L1241.3 1226.1 L1242.4 1227.2 L1243.4 1228.2 L1244.5 1229.3 L1245.6 1230.3 L1246.7 1231.3 L1247.9 1232.3 L1249.0 1233.3 L1250.1 1234.3 L1251.2 1235.3 L1252.3 1236.4 L1253.4 1237.4 L1254.6 1238.3 L1255.7 1239.3 L1256.9 1240.3 L1258.1 1241.2 L1259.3 1242.0 L1260.6 1242.8 L1261.9 1243.5 L1263.2 1244.1 L1264.6 1244.7 L1266.1 1245.1 L1267.5 1245.4 L1269.0 1245.7 L1270.5 1245.8 L1272.0 1246.0 L1273.5 1246.0 L1275.0 1246.1 L1276.5 1246.1 L1278.0 1246.0 L1279.5 1245.9 L1281.0 1245.9 L1282.5 1245.7 L1284.0 1245.6 L1285.5 1245.5 L1287.0 1245.4 L1288.5 1245.3 L1290.0 1245.2 L1291.5 1245.2 L1293.0 1245.1 L1294.5 1245.1 L1296.0 1245.1 L1297.5 1245.2 L1299.0 1245.3 L1300.5 1245.5 L1302.0 1245.7 L1303.4 1246.0 L1304.9 1246.3 L1306.3 1246.7 L1307.8 1247.1 L1309.2 1247.6 L1310.6 1248.1 L1312.0 1248.7 L1313.4 1249.2 L1314.8 1249.8 L1316.1 1250.5 L1317.5 1251.1 L1318.8 1251.8 L1320.2 1252.5 L1321.5 1253.2 L1322.8 1253.9 L1324.1 1254.7 L1325.4 1255.4 L1326.7 1256.3 L1327.9 1257.1 L1329.1 1258.0 L1330.3 1258.9 L1331.5 1259.8 L1332.7 1260.7 L1333.9 1261.6 L1335.0 1262.6 L1336.2 1263.6 L1337.3 1264.6 L1338.5 1265.5 L1339.6 1266.5 L1340.7 1267.5 L1341.8 1268.6 L1342.9 1269.6 L1344.0 1270.7 L1345.0 1271.7 L1346.1 1272.8 L1347.1 1273.9 L1348.1 1275.0 L1349.1 1276.1 L1350.1 1277.3 L1351.1 1278.4 L1352.0 1279.6 L1352.9 1280.8 L1353.7 1282.0 L1354.6 1283.3 L1355.4 1284.5 L1356.2 1285.8 L1356.9 1287.1 L1357.7 1288.4 L1358.4 1289.8 L1359.1 1291.1 L1359.8 1292.4 L1360.5 1293.7 L1361.2 1295.1 L1361.9 1296.4 L1362.6 1297.7 L1363.2 1299.1 L1363.9 1300.4 L1364.6 1301.8 L1365.2 1303.1 L1365.9 1304.5 L1366.5 1305.8 L1367.2 1307.2 L1367.9 1308.5 L1368.5 1309.9 L1369.2 1311.2 L1369.9 1312.5 L1370.6 1313.9 L1371.4 1315.2 L1372.1 1316.5 L1372.9 1317.8 L1373.6 1319.1 L1374.4 1320.4 L1375.2 1321.7 L1376.0 1322.9 L1376.8 1324.2 L1377.5 1325.5 L1378.3 1326.8 L1379.1 1328.1 L1379.9 1329.4 L1380.7 1330.6 L1381.4 1331.9 L1382.2 1333.2 L1382.9 1334.5 L1383.7 1335.8 L1384.4 1337.1 L1385.2 1338.4 L1385.9 1339.7 L1386.7 1341.0 L1387.5 1342.3 L1388.3 1343.6 L1389.1 1344.9 L1389.9 1346.1 L1390.8 1347.3 L1391.7 1348.5 L1392.6 1349.7 L1393.5 1350.9 L1394.5 1352.1 L1395.5 1353.2 L1396.4 1354.4 L1397.4 1355.5 L1398.4 1356.6 L1399.4 1357.7 L1400.5 1358.8 L1401.5 1359.9 L1402.5 1361.0 L1403.6 1362.1 L1404.7 1363.1 L1405.7 1364.2 L1406.8 1365.2 L1407.9 1366.2 L1409.0 1367.3 L1410.2 1368.3 L1411.3 1369.3 L1412.4 1370.2 L1413.5 1371.2 L1414.7 1372.2 L1415.8 1373.2 L1417.0 1374.2 L1418.1 1375.2 L1419.2 1376.2 L1420.3 1377.2 L1421.4 1378.2 L1422.5 1379.2 L1423.6 1380.3 L1424.7 1381.3 L1425.8 1382.3 L1426.9 1383.4 L1427.9 1384.4 L1429.0 1385.5 L1430.1 1386.5 L1431.2 1387.6 L1432.2 1388.7 L1433.3 1389.7 L1434.3 1390.8 L1435.4 1391.9 L1436.4 1393.0 L1437.4 1394.1 L1438.4 1395.2 L1439.4 1396.3 L1440.4 1397.5 L1441.2 1398.7 L1442.1 1400.0 L1442.8 1401.2 L1443.6 1402.5 L1444.4 1403.8 L1445.3 1405.0 L1446.2 1406.2 L1447.2 1407.3 L1448.3 1408.3 L1449.4 1409.3 L1450.5 1410.3 L1451.7 1411.2 L1452.9 1412.2 L1454.1 1413.1 L1455.3 1413.9 L1456.6 1414.8 L1457.8 1415.6 L1459.1 1416.3 L1460.4 1417.1 L1461.8 1417.7 L1463.2 1418.3 L1464.6 1418.8 L1466.0 1419.3 L1467.4 1419.7 L1468.9 1420.1 L1470.3 1420.5 L1471.8 1421.0 L1473.2 1421.4 L1474.6 1421.9 L1476.0 1422.5 L1477.4 1423.1 L1478.7 1423.8 L1480.0 1424.6 L1481.2 1425.4 L1482.5 1426.2 L1483.8 1427.0 L1485.1 1427.7 L1486.4 1428.4 L1487.8 1429.1 L1489.1 1429.7 L1490.5 1430.2 L1492.0 1430.7 L1493.4 1431.2 L1494.8 1431.6 L1496.3 1432.0 L1497.7 1432.4 L1499.2 1432.8 L1500.6 1433.2 L1502.1 1433.6 L1503.5 1434.0 L1505.0 1434.4 L1506.4 1434.9 L1507.8 1435.3 L1509.3 1435.7 L1510.7 1436.2 L1512.1 1436.6 L1513.6 1437.1 L1515.0 1437.5 L1516.5 1438.0 L1517.9 1438.4 L1519.3 1438.9 L1520.8 1439.3 L1522.2 1439.7 L1523.6 1440.2 L1525.1 1440.6 L1526.5 1441.0 L1528.0 1441.4 L1529.4 1441.8 L1530.9 1442.1 L1532.4 1442.5 L1533.8 1442.7 L1535.3 1443.0 L1536.8 1443.2" stroke="#0a0a0a" stroke-width="6.2" fill="none" stroke-linejoin="round" stroke-linecap="round"/>
<path d="M366.0 1990.0 L366.4 1989.0 L366.7 1987.9 L366.9 1986.6 L367.2 1985.2 L367.4 1983.7 L367.5 1982.2 L367.7 1980.7 L367.9 1979.2 L368.0 1977.8 L368.2 1976.3 L368.4 1974.8 L368.5 1973.3 L368.7 1971.8 L368.8 1970.3 L369.0 1968.8 L369.2 1967.3 L369.3 1965.8 L369.5 1964.3 L369.7 1962.8 L369.8 1961.3 L370.0 1959.8 L370.2 1958.3 L370.4 1956.9 L370.5 1955.4 L370.7 1953.9 L370.9 1952.4 L371.1 1950.9 L371.3 1949.4 L371.5 1947.9 L371.7 1946.4 L372.0 1944.9 L372.2 1943.5 L372.5 1942.0 L372.7 1940.5 L373.0 1939.0 L373.3 1937.5 L373.6 1936.1 L373.9 1934.6 L374.2 1933.1 L374.5 1931.7 L374.8 1930.2 L375.2 1928.7 L375.5 1927.3 L375.8 1925.8 L376.2 1924.3 L376.5 1922.9 L376.8 1921.4 L377.1 1919.9 L377.4 1918.5 L377.7 1917.0 L378.0 1915.5 L378.3 1914.0 L378.6 1912.6 L378.9 1911.1 L379.2 1909.6 L379.5 1908.1 L379.8 1906.7 L380.1 1905.2 L380.4 1903.7 L380.6 1902.3 L380.9 1900.8 L381.2 1899.3 L381.5 1897.8 L381.8 1896.3 L382.1 1894.9 L382.3 1893.4 L382.6 1891.9 L382.9 1890.4 L383.2 1889.0 L383.4 1887.5 L383.7 1886.0 L384.0 1884.5 L384.2 1883.1 L384.5 1881.6 L384.8 1880.1 L385.0 1878.6 L385.3 1877.1 L385.6 1875.7 L385.8 1874.2 L386.1 1872.7 L386.3 1871.2 L386.6 1869.7 L386.9 1868.3 L387.1 1866.8 L387.3 1865.3 L387.6 1863.8 L387.8 1862.3 L388.1 1860.8 L388.3 1859.4 L388.5 1857.9 L388.7 1856.4 L389.0 1854.9 L389.2 1853.4 L389.4 1851.9 L389.6 1850.4 L389.8 1848.9 L389.9 1847.5 L390.1 1846.0 L390.3 1844.5 L390.4 1843.0 L390.6 1841.5 L390.7 1840.0 L390.9 1838.5 L391.0 1837.0 L391.2 1835.5 L391.3 1834.0 L391.5 1832.5 L391.6 1831.0 L391.7 1829.5 L391.9 1828.0 L392.0 1826.5 L392.2 1825.0 L392.3 1823.5 L392.5 1822.0 L392.6 1820.5 L392.8 1819.1 L393.0 1817.6 L393.2 1816.1 L393.4 1814.6 L393.6 1813.1 L393.8 1811.6 L394.0 1810.1 L394.3 1808.6 L394.5 1807.2 L394.8 1805.7 L395.1 1804.2 L395.4 1802.7 L395.8 1801.3 L396.1 1799.8 L396.5 1798.4 L396.8 1796.9 L397.2 1795.5 L397.6 1794.0 L398.0 1792.6 L398.4 1791.1 L398.9 1789.7 L399.3 1788.2 L399.7 1786.8 L400.1 1785.3 L400.5 1783.9 L400.9 1782.4 L401.2 1781.0 L401.6 1779.5 L402.0 1778.1 L402.3 1776.6 L402.7 1775.1 L403.0 1773.7 L403.4 1772.2 L403.7 1770.8 L404.1 1769.3 L404.5 1767.8 L404.8 1766.4 L405.1 1764.9 L405.5 1763.5 L405.8 1762.0 L406.2 1760.5 L406.5 1759.1 L406.8 1757.6 L407.2 1756.1 L407.5 1754.7 L407.8 1753.2 L408.1 1751.7 L408.5 1750.3 L408.8 1748.8 L409.1 1747.3 L409.4 1745.9 L409.7 1744.4 L410.1 1742.9 L410.4 1741.5 L410.7 1740.0 L411.0 1738.5 L411.4 1737.1 L411.7 1735.6 L412.0 1734.1 L412.4 1732.7 L412.7 1731.2 L413.0 1729.7 L413.4 1728.3 L413.7 1726.8 L414.1 1725.3 L414.4 1723.9 L414.8 1722.4 L415.1 1721.0 L415.5 1719.5 L415.9 1718.1 L416.3 1716.6 L416.6 1715.2 L417.0 1713.7 L417.4 1712.3 L417.9 1710.8 L418.3 1709.4 L418.8 1708.0 L419.3 1706.5 L419.8 1705.1 L420.3 1703.7 L420.9 1702.3 L421.4 1700.9 L422.0 1699.5 L422.5 1698.1 L423.0 1696.7 L423.6 1695.3 L424.1 1693.9 L424.6 1692.5 L425.1 1691.1 L425.6 1689.7 L426.1 1688.3 L426.7 1686.9 L427.3 1685.5 L427.8 1684.1 L428.5 1682.7 L429.1 1681.4 L429.9 1680.1 L430.7 1678.9 L431.7 1677.7 L432.7 1676.8 L433.9 1676.1 L435.2 1675.7 L436.6 1675.7 L437.9 1676.0 L439.1 1676.7 L440.3 1677.6 L441.3 1678.6 L442.3 1679.7 L443.1 1681.0 L443.9 1682.2 L444.6 1683.6 L445.3 1684.9 L446.0 1686.2 L446.6 1687.6 L447.2 1689.0 L447.8 1690.4 L448.4 1691.7 L449.0 1693.1 L449.6 1694.5 L450.2 1695.9 L450.8 1697.3 L451.4 1698.6 L452.0 1700.0 L452.6 1701.4 L453.2 1702.8 L453.8 1704.1 L454.4 1705.5 L455.0 1706.9 L455.5 1708.3 L456.1 1709.7 L456.7 1711.1 L457.2 1712.5 L457.8 1713.9 L458.3 1715.3 L458.9 1716.7 L459.4 1718.1 L459.9 1719.5 L460.5 1720.9 L461.0 1722.3 L461.5 1723.7 L462.0 1725.1 L462.5 1726.5 L463.0 1728.0 L463.5 1729.4 L464.0 1730.8 L464.4 1732.2 L464.9 1733.6 L465.4 1735.1 L465.9 1736.5 L466.3 1737.9 L466.8 1739.4 L467.2 1740.8 L467.7 1742.2 L468.2 1743.6 L468.7 1745.1 L469.2 1746.5 L469.6 1747.9 L470.1 1749.3 L470.6 1750.7 L471.1 1752.2 L471.6 1753.6 L472.1 1755.0 L472.5 1756.5 L472.9 1757.9 L473.3 1759.3 L473.7 1760.8 L474.1 1762.3 L474.4 1763.7 L474.8 1765.2 L475.1 1766.6 L475.5 1768.1 L475.9 1769.5 L476.3 1771.0 L476.8 1772.4 L477.3 1773.8 L477.8 1775.2 L478.3 1776.7 L478.8 1778.1 L479.3 1779.5 L479.8 1780.9 L480.4 1782.3 L480.9 1783.7 L481.4 1785.1 L482.0 1786.5 L482.5 1787.9 L483.0 1789.3 L483.5 1790.7 L484.0 1792.2 L484.3 1793.6 L484.6 1795.1 L484.9 1796.6 L485.2 1798.0 L485.4 1799.5 L485.6 1801.0 L485.9 1802.5 L486.1 1804.0 L486.4 1805.4 L486.7 1806.9 L487.0 1808.4 L487.3 1809.8 L487.7 1811.3 L488.0 1812.8 L488.4 1814.2 L488.8 1815.7 L489.2 1817.1 L489.6 1818.6 L490.0 1820.0 L490.4 1821.5 L490.9 1822.9 L491.3 1824.3 L491.8 1825.8 L492.3 1827.2 L492.8 1828.6 L493.3 1830.0 L493.8 1831.4 L494.3 1832.8 L494.8 1834.2 L495.3 1835.7 L495.8 1837.1 L496.3 1838.5 L496.8 1839.9 L497.3 1841.3 L497.8 1842.7 L498.3 1844.2 L498.7 1845.6 L499.2 1847.0 L499.6 1848.5 L500.0 1849.9 L500.4 1851.4 L500.8 1852.8 L501.2 1854.3 L501.5 1855.7 L501.9 1857.2 L502.3 1858.7 L502.6 1860.1 L503.0 1861.6 L503.3 1863.0 L503.6 1864.5 L504.0 1866.0 L504.3 1867.4 L504.6 1868.9 L505.0 1870.4 L505.3 1871.8 L505.6 1873.3 L505.8 1874.8 L506.1 1876.3 L506.4 1877.7 L506.6 1879.2 L506.9 1880.7 L507.2 1882.2 L507.5 1883.6 L507.9 1885.1 L508.2 1886.6 L508.6 1888.0 L509.0 1889.5 L509.4 1890.9 L509.9 1892.3 L510.3 1893.8 L510.7 1895.2 L511.2 1896.7 L511.6 1898.1 L512.0 1899.5 L512.5 1901.0 L512.9 1902.4 L513.4 1903.8 L513.8 1905.3 L514.3 1906.7 L514.7 1908.1 L515.1 1909.6 L515.6 1911.0 L516.0 1912.5 L516.4 1913.9 L516.9 1915.3 L517.3 1916.8 L517.7 1918.2 L518.2 1919.7 L518.6 1921.1 L519.0 1922.5 L519.5 1924.0 L519.9 1925.4 L520.3 1926.9 L520.8 1928.3 L521.2 1929.7 L521.6 1931.2 L522.0 1932.6 L522.4 1934.1 L522.8 1935.5 L523.2 1937.0 L523.5 1938.4 L523.9 1939.9 L524.3 1941.3 L524.6 1942.8 L525.0 1944.3 L525.5 1945.7 L525.9 1947.1 L526.4 1948.6 L526.8 1950.0 L527.3 1951.4 L527.9 1952.8 L528.4 1954.2 L529.0 1955.6 L529.5 1957.0 L530.1 1958.4 L530.7 1959.8 L531.3 1961.2 L531.8 1962.5 L532.4 1963.9 L533.0 1965.3 L533.6 1966.7 L534.2 1968.1 L534.7 1969.5 L535.3 1970.9 L535.9 1972.2 L536.5 1973.6 L537.1 1975.0 L537.7 1976.4 L538.2 1977.8 L538.9 1979.1 L539.5 1980.5 L540.1 1981.9 L540.7 1983.2 L541.4 1984.6 L542.1 1985.9 L542.8 1987.2 L543.6 1988.5 L544.4 1989.8 L545.2 1991.1 L546.0 1992.3 L546.9 1993.5 L547.8 1994.8 L548.6 1996.0 L549.5 1997.2 L550.4 1998.4 L551.2 1999.7 L552.1 2000.9 L552.9 2002.2 L553.7 2003.4 L554.6 2004.7 L555.4 2005.9 L556.2 2007.2 L557.1 2008.4 L557.9 2009.7 L558.7 2010.9 L559.5 2012.2 L560.3 2013.5 L561.0 2014.8 L561.8 2016.1 L562.5 2017.4 L563.2 2018.7 L563.9 2020.1 L564.7 2021.4 L565.4 2022.7 L566.2 2024.0 L567.0 2025.2 L567.8 2026.5 L568.6 2027.8 L569.4 2029.0 L570.3 2030.3 L571.1 2031.5 L572.0 2032.8 L572.8 2034.0 L573.6 2035.3 L574.4 2036.5 L575.2 2037.8 L575.9 2039.1 L576.7 2040.4 L577.4 2041.7 L578.2 2043.0 L578.9 2044.3 L579.7 2045.6 L580.5 2046.9 L581.3 2048.1 L582.2 2049.4 L583.0 2050.6 L583.9 2051.9 L584.7 2053.1 L585.5 2054.4 L586.4 2055.6 L587.2 2056.9 L588.0 2058.1 L588.8 2059.4 L589.6 2060.7 L590.4 2062.0 L591.2 2063.2 L592.0 2064.5 L592.8 2065.8 L593.5 2067.1 L594.3 2068.4 L595.0 2069.7 L595.8 2071.0 L596.5 2072.3 L597.3 2073.6 L598.1 2074.9 L598.9 2076.1 L599.8 2077.3 L600.7 2078.5 L601.7 2079.7 L602.6 2080.8 L603.6 2082.0 L604.6 2083.1 L605.6 2084.2 L606.7 2085.3 L607.7 2086.4 L608.8 2087.4 L609.8 2088.5 L610.9 2089.6 L611.9 2090.6 L613.0 2091.7 L614.1 2092.7 L615.2 2093.7 L616.3 2094.7 L617.5 2095.7 L618.6 2096.7 L619.8 2097.6 L620.9 2098.6 L622.1 2099.6 L623.2 2100.6 L624.3 2101.6 L625.4 2102.6 L626.5 2103.6 L627.6 2104.6 L628.7 2105.7 L629.8 2106.7 L630.9 2107.8 L632.0 2108.8 L633.1 2109.7 L634.3 2110.6 L635.6 2111.4 L636.9 2112.2 L638.2 2112.9 L639.5 2113.6 L640.8 2114.4 L642.0 2115.2 L643.2 2116.1 L644.4 2117.0 L645.6 2117.9 L646.8 2118.9 L648.0 2119.8 L649.1 2120.8 L650.2 2121.8 L651.3 2122.8 L652.4 2123.8 L653.5 2124.9 L654.5 2126.0 L655.6 2127.0 L656.6 2128.1 L657.7 2129.2 L658.8 2130.2 L659.9 2131.2 L661.1 2132.1 L662.3 2133.1 L663.5 2134.0 L664.7 2134.8 L665.9 2135.7 L667.2 2136.5 L668.4 2137.3 L669.7 2138.2 L670.9 2139.0 L672.1 2139.9 L673.4 2140.8 L674.6 2141.6 L675.8 2142.5 L677.1 2143.4 L678.3 2144.2 L679.5 2145.1 L680.7 2146.0 L681.9 2146.8 L683.2 2147.7 L684.4 2148.6 L685.6 2149.5 L686.8 2150.4 L688.1 2151.2 L689.3 2152.0 L690.6 2152.8 L691.9 2153.5 L693.3 2154.2 L694.6 2154.8 L696.0 2155.3 L697.4 2155.9 L698.8 2156.4 L700.3 2156.9 L701.7 2157.4 L703.1 2158.0 L704.4 2158.5 L705.8 2159.1 L707.2 2159.7 L708.6 2160.2 L710.0 2160.8 L711.4 2161.3 L712.9 2161.8 L714.3 2162.2 L715.7 2162.7 L717.2 2163.1 L718.6 2163.5 L720.1 2163.9 L721.5 2164.3 L723.0 2164.7 L724.4 2165.1 L725.9 2165.5 L727.3 2165.8 L728.8 2166.2 L730.2 2166.6 L731.7 2167.0 L733.1 2167.4 L734.6 2167.9 L736.0 2168.3 L737.4 2168.8 L738.8 2169.3 L740.2 2169.9 L741.6 2170.4 L743.0 2170.9 L744.4 2171.5 L745.8 2172.0 L747.2 2172.6 L748.6 2173.2 L750.0 2173.7 L751.4 2174.3 L752.8 2174.7 L754.3 2175.2 L755.7 2175.6 L757.1 2176.0 L758.6 2176.4 L760.1 2176.7 L761.5 2177.0 L763.0 2177.4 L764.5 2177.7 L765.9 2178.0 L767.4 2178.3 L768.9 2178.6 L770.4 2178.8 L771.8 2179.1 L773.3 2179.4 L774.8 2179.6 L776.3 2179.9 L777.8 2180.2 L779.2 2180.4 L780.7 2180.6 L782.2 2180.8 L783.7 2180.9 L785.2 2181.1 L786.7 2181.1 L788.2 2181.2 L789.7 2181.2 L791.2 2181.2 L792.7 2181.3 L794.2 2181.3 L795.7 2181.4 L797.2 2181.5 L798.7 2181.6 L800.2 2181.8 L801.7 2181.9 L803.2 2182.0" stroke="#0a0a0a" stroke-width="6.2" fill="none" stroke-linejoin="round" stroke-linecap="round"/>
<path d="M1055.0 1992.0 L1055.2 1990.5 L1055.4 1989.0 L1055.7 1987.5 L1055.9 1986.1 L1056.1 1984.6 L1056.3 1983.1 L1056.5 1981.6 L1056.7 1980.1 L1056.9 1978.6 L1057.1 1977.1 L1057.3 1975.6 L1057.5 1974.1 L1057.6 1972.7 L1057.8 1971.2 L1058.0 1969.7 L1058.1 1968.2 L1058.3 1966.7 L1058.5 1965.2 L1058.6 1963.7 L1058.8 1962.2 L1059.0 1960.7 L1059.2 1959.2 L1059.3 1957.7 L1059.5 1956.2 L1059.7 1954.7 L1059.8 1953.2 L1060.0 1951.8 L1060.2 1950.3 L1060.4 1948.8 L1060.6 1947.3 L1060.8 1945.8 L1061.0 1944.3 L1061.2 1942.8 L1061.5 1941.3 L1061.7 1939.9 L1062.0 1938.4 L1062.3 1936.9 L1062.5 1935.4 L1062.8 1934.0 L1063.1 1932.5 L1063.4 1931.0 L1063.6 1929.5 L1063.9 1928.0 L1064.2 1926.6 L1064.5 1925.1 L1064.8 1923.6 L1065.1 1922.1 L1065.3 1920.7 L1065.6 1919.2 L1065.9 1917.7 L1066.2 1916.2 L1066.5 1914.8 L1066.7 1913.3 L1067.0 1911.8 L1067.3 1910.3 L1067.6 1908.9 L1067.8 1907.4 L1068.1 1905.9 L1068.4 1904.4 L1068.7 1903.0 L1069.0 1901.5 L1069.2 1900.0 L1069.5 1898.5 L1069.8 1897.1 L1070.1 1895.6 L1070.3 1894.1 L1070.6 1892.6 L1070.9 1891.1 L1071.2 1889.7 L1071.5 1888.2 L1071.7 1886.7 L1072.0 1885.2 L1072.3 1883.8 L1072.6 1882.3 L1072.9 1880.8 L1073.1 1879.3 L1073.4 1877.9 L1073.7 1876.4 L1074.0 1874.9 L1074.2 1873.4 L1074.5 1872.0 L1074.8 1870.5 L1075.1 1869.0 L1075.3 1867.5 L1075.6 1866.0 L1075.9 1864.6 L1076.1 1863.1 L1076.4 1861.6 L1076.7 1860.1 L1077.0 1858.7 L1077.2 1857.2 L1077.5 1855.7 L1077.8 1854.2 L1078.1 1852.7 L1078.3 1851.3 L1078.6 1849.8 L1078.9 1848.3 L1079.2 1846.8 L1079.4 1845.4 L1079.7 1843.9 L1080.0 1842.4 L1080.3 1840.9 L1080.6 1839.5 L1080.8 1838.0 L1081.1 1836.5 L1081.4 1835.0 L1081.7 1833.6 L1081.9 1832.1 L1082.2 1830.6 L1082.5 1829.1 L1082.8 1827.6 L1083.1 1826.2 L1083.3 1824.7 L1083.6 1823.2 L1083.9 1821.7 L1084.2 1820.3 L1084.5 1818.8 L1084.7 1817.3 L1085.0 1815.8 L1085.3 1814.4 L1085.6 1812.9 L1085.8 1811.4 L1086.1 1809.9 L1086.4 1808.5 L1086.7 1807.0 L1086.9 1805.5 L1087.2 1804.0 L1087.5 1802.5 L1087.8 1801.1 L1088.0 1799.6 L1088.3 1798.1 L1088.6 1796.6 L1088.9 1795.2 L1089.1 1793.7 L1089.4 1792.2 L1089.7 1790.7 L1089.9 1789.3 L1090.2 1787.8 L1090.5 1786.3 L1090.8 1784.8 L1091.0 1783.3 L1091.3 1781.9 L1091.6 1780.4 L1091.9 1778.9 L1092.2 1777.4 L1092.4 1776.0 L1092.7 1774.5 L1093.0 1773.0 L1093.3 1771.5 L1093.6 1770.1 L1093.8 1768.6 L1094.1 1767.1 L1094.4 1765.6 L1094.7 1764.2 L1094.9 1762.7 L1095.2 1761.2 L1095.5 1759.7 L1095.7 1758.2 L1096.0 1756.8 L1096.2 1755.3 L1096.5 1753.8 L1096.7 1752.3 L1097.0 1750.8 L1097.2 1749.4 L1097.5 1747.9 L1097.8 1746.4 L1098.0 1744.9 L1098.3 1743.4 L1098.6 1742.0 L1098.9 1740.5 L1099.2 1739.0 L1099.6 1737.6 L1099.9 1736.1 L1100.3 1734.6 L1100.6 1733.2 L1101.0 1731.7 L1101.3 1730.3 L1101.6 1728.8 L1101.9 1727.3 L1102.1 1725.8 L1102.4 1724.4 L1102.7 1722.9 L1103.0 1721.4 L1103.4 1720.0 L1103.8 1718.5 L1104.2 1717.1 L1104.6 1715.6 L1105.0 1714.2 L1105.5 1712.7 L1105.9 1711.3 L1106.3 1709.9 L1106.7 1708.4 L1107.1 1707.0 L1107.5 1705.5 L1107.9 1704.1 L1108.3 1702.6 L1108.7 1701.2 L1109.1 1699.7 L1109.5 1698.3 L1109.9 1696.8 L1110.3 1695.4 L1110.7 1693.9 L1111.1 1692.5 L1111.5 1691.0 L1111.9 1689.6 L1112.3 1688.2 L1112.8 1686.7 L1113.2 1685.3 L1113.6 1683.8 L1114.1 1682.4 L1114.6 1681.0 L1115.1 1679.6 L1115.7 1678.2 L1116.3 1676.8 L1117.0 1675.5 L1117.7 1674.2 L1118.6 1673.0 L1119.6 1671.9 L1120.7 1670.9 L1121.9 1670.2 L1123.2 1669.6 L1124.5 1669.4 L1126.0 1669.4 L1127.4 1669.7 L1128.7 1670.2 L1130.0 1670.9 L1131.2 1671.8 L1132.3 1672.7 L1133.3 1673.8 L1134.2 1675.0 L1135.0 1676.3 L1135.8 1677.6 L1136.5 1678.9 L1137.2 1680.2 L1137.9 1681.5 L1138.6 1682.9 L1139.3 1684.2 L1139.9 1685.6 L1140.6 1686.9 L1141.2 1688.3 L1141.8 1689.7 L1142.4 1691.0 L1143.0 1692.4 L1143.5 1693.8 L1144.1 1695.2 L1144.6 1696.6 L1145.2 1698.0 L1145.7 1699.4 L1146.2 1700.8 L1146.7 1702.2 L1147.2 1703.7 L1147.8 1705.1 L1148.3 1706.5 L1148.7 1707.9 L1149.2 1709.3 L1149.7 1710.8 L1150.2 1712.2 L1150.6 1713.6 L1151.1 1715.0 L1151.5 1716.5 L1151.9 1717.9 L1152.3 1719.4 L1152.7 1720.8 L1153.1 1722.3 L1153.5 1723.7 L1153.8 1725.2 L1154.2 1726.7 L1154.6 1728.1 L1154.9 1729.6 L1155.3 1731.0 L1155.7 1732.5 L1156.1 1733.9 L1156.5 1735.4 L1156.9 1736.8 L1157.3 1738.3 L1157.7 1739.7 L1158.1 1741.2 L1158.5 1742.6 L1158.9 1744.0 L1159.4 1745.5 L1159.8 1746.9 L1160.2 1748.4 L1160.6 1749.8 L1161.1 1751.2 L1161.5 1752.7 L1161.9 1754.1 L1162.4 1755.6 L1162.8 1757.0 L1163.3 1758.4 L1163.7 1759.9 L1164.2 1761.3 L1164.6 1762.7 L1165.1 1764.1 L1165.6 1765.6 L1166.0 1767.0 L1166.5 1768.4 L1166.9 1769.9 L1167.4 1771.3 L1167.8 1772.7 L1168.3 1774.2 L1168.7 1775.6 L1169.1 1777.0 L1169.6 1778.5 L1170.0 1779.9 L1170.5 1781.4 L1170.9 1782.8 L1171.3 1784.2 L1171.7 1785.7 L1172.2 1787.1 L1172.6 1788.6 L1173.0 1790.0 L1173.5 1791.4 L1173.9 1792.9 L1174.4 1794.3 L1174.9 1795.7 L1175.3 1797.1 L1175.8 1798.6 L1176.3 1800.0 L1176.7 1801.4 L1177.2 1802.9 L1177.7 1804.3 L1178.1 1805.7 L1178.6 1807.1 L1179.0 1808.6 L1179.5 1810.0 L1180.0 1811.4 L1180.4 1812.9 L1180.9 1814.3 L1181.3 1815.7 L1181.8 1817.2 L1182.2 1818.6 L1182.6 1820.0 L1183.1 1821.5 L1183.5 1822.9 L1183.9 1824.4 L1184.3 1825.8 L1184.7 1827.3 L1185.1 1828.7 L1185.5 1830.2 L1185.8 1831.6 L1186.1 1833.1 L1186.4 1834.6 L1186.7 1836.1 L1186.9 1837.5 L1187.2 1839.0 L1187.5 1840.5 L1187.7 1842.0 L1188.1 1843.4 L1188.4 1844.9 L1188.8 1846.4 L1189.1 1847.8 L1189.5 1849.3 L1189.9 1850.7 L1190.4 1852.1 L1190.8 1853.6 L1191.2 1855.0 L1191.6 1856.5 L1192.1 1857.9 L1192.5 1859.3 L1192.9 1860.8 L1193.4 1862.2 L1193.8 1863.7 L1194.2 1865.1 L1194.6 1866.6 L1195.0 1868.0 L1195.4 1869.4 L1195.8 1870.9 L1196.2 1872.3 L1196.6 1873.8 L1197.0 1875.2 L1197.4 1876.7 L1197.8 1878.1 L1198.2 1879.6 L1198.6 1881.0 L1199.1 1882.5 L1199.5 1883.9 L1199.9 1885.4 L1200.3 1886.8 L1200.7 1888.3 L1201.1 1889.7 L1201.5 1891.2 L1201.9 1892.6 L1202.3 1894.0 L1202.7 1895.5 L1203.1 1896.9 L1203.5 1898.4 L1203.9 1899.8 L1204.3 1901.3 L1204.7 1902.7 L1205.1 1904.2 L1205.5 1905.6 L1205.9 1907.1 L1206.3 1908.5 L1206.8 1909.9 L1207.2 1911.4 L1207.6 1912.8 L1208.0 1914.3 L1208.4 1915.7 L1208.9 1917.2 L1209.3 1918.6 L1209.7 1920.0 L1210.1 1921.5 L1210.5 1922.9 L1210.9 1924.4 L1211.3 1925.8 L1211.7 1927.3 L1212.1 1928.7 L1212.6 1930.2 L1213.0 1931.6 L1213.5 1933.0 L1214.0 1934.4 L1214.5 1935.8 L1215.1 1937.2 L1215.6 1938.6 L1216.3 1940.0 L1216.9 1941.4 L1217.5 1942.7 L1218.2 1944.1 L1218.8 1945.4 L1219.5 1946.8 L1220.2 1948.1 L1220.8 1949.5 L1221.4 1950.8 L1222.1 1952.2 L1222.7 1953.6 L1223.2 1955.0 L1223.8 1956.4 L1224.4 1957.8 L1224.9 1959.2 L1225.4 1960.6 L1226.0 1962.0 L1226.5 1963.4 L1227.1 1964.8 L1227.6 1966.2 L1228.2 1967.5 L1228.8 1968.9 L1229.4 1970.3 L1230.1 1971.6 L1230.7 1973.0 L1231.4 1974.3 L1232.1 1975.7 L1232.8 1977.0 L1233.5 1978.3 L1234.2 1979.6 L1235.0 1980.9 L1235.7 1982.2 L1236.5 1983.5 L1237.3 1984.8 L1238.1 1986.1 L1238.9 1987.3 L1239.7 1988.6 L1240.6 1989.8 L1241.4 1991.1 L1242.3 1992.3 L1243.1 1993.5 L1244.0 1994.8 L1244.8 1996.0 L1245.6 1997.3 L1246.4 1998.6 L1247.1 1999.9 L1247.9 2001.2 L1248.6 2002.5 L1249.3 2003.9 L1250.0 2005.2 L1250.6 2006.5 L1251.3 2007.9 L1252.0 2009.2 L1252.8 2010.5 L1253.5 2011.8 L1254.3 2013.1 L1255.1 2014.4 L1255.9 2015.6 L1256.7 2016.9 L1257.5 2018.2 L1258.3 2019.5 L1259.1 2020.7 L1259.8 2022.0 L1260.5 2023.3 L1261.2 2024.7 L1261.9 2026.0 L1262.6 2027.4 L1263.2 2028.7 L1263.8 2030.1 L1264.4 2031.5 L1265.1 2032.8 L1265.8 2034.2 L1266.5 2035.5 L1267.2 2036.8 L1268.0 2038.1 L1268.8 2039.3 L1269.6 2040.6 L1270.5 2041.8 L1271.3 2043.1 L1272.2 2044.3 L1273.1 2045.5 L1274.0 2046.7 L1274.9 2047.9 L1275.8 2049.1 L1276.7 2050.3 L1277.7 2051.4 L1278.6 2052.6 L1279.5 2053.8 L1280.4 2055.1 L1281.2 2056.3 L1282.0 2057.6 L1282.7 2058.9 L1283.4 2060.2 L1284.2 2061.5 L1285.0 2062.8 L1285.8 2064.0 L1286.7 2065.2 L1287.6 2066.4 L1288.6 2067.6 L1289.5 2068.7 L1290.5 2069.9 L1291.5 2071.0 L1292.5 2072.1 L1293.5 2073.3 L1294.5 2074.4 L1295.5 2075.5 L1296.5 2076.6 L1297.5 2077.7 L1298.4 2078.9 L1299.4 2080.1 L1300.3 2081.3 L1301.1 2082.5 L1302.0 2083.7 L1302.9 2084.9 L1303.9 2086.1 L1304.9 2087.2 L1305.9 2088.2 L1307.1 2089.2 L1308.2 2090.1 L1309.4 2091.0 L1310.7 2091.9 L1311.9 2092.7 L1313.2 2093.5 L1314.5 2094.3 L1315.7 2095.1 L1317.0 2095.8 L1318.3 2096.6 L1319.6 2097.4 L1320.9 2098.2 L1322.1 2099.1 L1323.4 2099.9 L1324.6 2100.8 L1325.8 2101.7 L1327.0 2102.6 L1328.1 2103.5 L1329.3 2104.5 L1330.4 2105.5 L1331.6 2106.4 L1332.7 2107.4 L1333.9 2108.4 L1335.1 2109.3 L1336.3 2110.2 L1337.5 2111.0 L1338.8 2111.8 L1340.1 2112.6 L1341.4 2113.3 L1342.7 2114.0 L1344.0 2114.8 L1345.3 2115.6 L1346.6 2116.4 L1347.8 2117.2 L1349.0 2118.1 L1350.2 2119.1 L1351.3 2120.0 L1352.4 2121.0 L1353.6 2122.0 L1354.7 2123.0 L1355.8 2124.0 L1357.0 2125.0 L1358.1 2125.9 L1359.3 2126.9 L1360.5 2127.8 L1361.7 2128.7 L1362.9 2129.6 L1364.1 2130.5 L1365.3 2131.3 L1366.6 2132.2 L1367.8 2133.1 L1369.0 2133.9 L1370.2 2134.8 L1371.4 2135.7 L1372.7 2136.6 L1373.9 2137.5 L1375.1 2138.4 L1376.3 2139.2 L1377.6 2140.0 L1378.8 2140.8 L1380.1 2141.6 L1381.4 2142.4 L1382.7 2143.1 L1384.0 2143.9 L1385.3 2144.6 L1386.7 2145.3 L1388.0 2146.0 L1389.4 2146.6 L1390.7 2147.3 L1392.1 2147.9 L1393.5 2148.5 L1394.8 2149.1 L1396.2 2149.6 L1397.6 2150.2 L1399.0 2150.8 L1400.4 2151.3 L1401.8 2151.8 L1403.3 2152.3 L1404.7 2152.8 L1406.1 2153.3 L1407.5 2153.9 L1408.9 2154.4 L1410.3 2154.9 L1411.7 2155.5 L1413.1 2156.0 L1414.5 2156.6 L1415.9 2157.2 L1417.3 2157.7 L1418.7 2158.3 L1420.1 2158.9 L1421.5 2159.4 L1422.9 2159.9 L1424.3 2160.4 L1425.7 2160.9 L1427.1 2161.4 L1428.5 2161.9 L1430.0 2162.3 L1431.4 2162.8 L1432.8 2163.3 L1434.2 2163.7 L1435.7 2164.2 L1437.1 2164.8 L1438.5 2165.3 L1439.9 2165.8 L1441.3 2166.4 L1442.7 2167.0 L1444.1 2167.5 L1445.5 2168.0 L1446.9 2168.5 L1448.3 2168.9 L1449.8 2169.3 L1451.2 2169.6 L1452.7 2169.9 L1454.2 2170.1 L1455.7 2170.4 L1457.2 2170.6 L1458.7 2170.8 L1460.2 2171.0 L1461.6 2171.2 L1463.1 2171.4 L1464.6 2171.5 L1466.1 2171.7 L1467.6 2171.9 L1469.1 2172.1 L1470.6 2172.3 L1472.1 2172.6 L1473.5 2172.8 L1475.0 2173.1 L1476.5 2173.4 L1478.0 2173.7 L1479.4 2174.0 L1480.9 2174.2 L1482.4 2174.4 L1483.9 2174.5 L1485.4 2174.6 L1486.9 2174.7 L1488.4 2174.7 L1489.9 2174.8 L1491.4 2174.8" stroke="#0a0a0a" stroke-width="6.2" fill="none" stroke-linejoin="round" stroke-linecap="round"/>
<path d="M466.9 554.8 L476.7 567.9 M492.0 554.8 L492.0 572.3 M460.3 575.0 L475.6 580.5 M506.2 577.8 L518.2 571.2 M454.8 599.6 L471.2 596.3 M470.7 611.6 L481.0 599.1 M566.3 557.0 L566.3 574.5 M540.1 572.3 L554.3 580.0 M582.7 583.2 L599.0 576.7 M588.1 598.5 L602.3 602.4 M580.8 601.8 L585.9 613.8" stroke="#8a8a8a" stroke-width="1.8" fill="none" stroke-linecap="round"/>
<path d="M501.3 600.7 H559.2" stroke="#cfcfcf" stroke-width="1.8"/>
<path d="M501.3 621.5 H559.2" stroke="#4a4a4a" stroke-width="1.8"/>
<path d="M501.3 640.6 H559.2" stroke="#4a4a4a" stroke-width="1.8"/>
<path d="M501.3 592.0 V646.9 M520.4 646.9 V589.5 M539.5 589.5 V646.9 M559.2 646.9 V594.0" stroke="#3c3c3c" stroke-width="3.0" fill="none"/>
<path d="M501.3 646.9 A9.55 9.55 0 0 0 520.4 646.9 M520.4 589.5 A9.55 9.55 0 0 1 539.5 589.5 M539.5 646.9 A9.85 9.85 0 0 0 559.2 646.9" stroke="#7a7a7a" stroke-width="2.4" fill="none"/>
<path d="M492.0 603.0 L487.6 592.5 L476.3 591.6 L484.9 584.2 L482.3 573.2 L492.0 579.1 L501.7 573.2 L499.1 584.2 L507.7 591.6 L496.4 592.5Z" fill="#fff" stroke="#777" stroke-width="1.8" stroke-linejoin="miter"/>
<path d="M566.3 605.2 L561.9 594.7 L550.6 593.8 L559.2 586.4 L556.6 575.4 L566.3 581.3 L576.0 575.4 L573.4 586.4 L582.0 593.8 L570.7 594.7Z" fill="#7d7d7d" stroke="#666" stroke-width="1.2" stroke-linejoin="miter"/>
<path d="M1152.6 554.8 L1162.4 567.9 M1177.7 554.8 L1177.7 572.3 M1146.0 575.0 L1161.3 580.5 M1191.9 577.8 L1203.9 571.2 M1140.5 599.6 L1156.9 596.3 M1156.4 611.6 L1166.7 599.1 M1252.0 557.0 L1252.0 574.5 M1225.8 572.3 L1240.0 580.0 M1268.4 583.2 L1284.7 576.7 M1273.8 598.5 L1288.0 602.4 M1266.5 601.8 L1271.6 613.8" stroke="#8a8a8a" stroke-width="1.8" fill="none" stroke-linecap="round"/>
<path d="M1187.0 600.7 H1244.9" stroke="#cfcfcf" stroke-width="1.8"/>
<path d="M1187.0 621.5 H1244.9" stroke="#4a4a4a" stroke-width="1.8"/>
<path d="M1187.0 640.6 H1244.9" stroke="#4a4a4a" stroke-width="1.8"/>
<path d="M1187.0 592.0 V646.9 M1206.1 646.9 V589.6 M1225.2 589.6 V646.9 M1244.9 646.9 V594.0" stroke="#3c3c3c" stroke-width="3.0" fill="none"/>
<path d="M1187.0 646.9 A9.55 9.55 0 0 0 1206.1 646.9 M1206.1 589.6 A9.55 9.55 0 0 1 1225.2 589.6 M1225.2 646.9 A9.85 9.85 0 0 0 1244.9 646.9" stroke="#7a7a7a" stroke-width="2.4" fill="none"/>
<path d="M1177.7 603.0 L1173.3 592.5 L1162.0 591.6 L1170.6 584.2 L1168.0 573.2 L1177.7 579.1 L1187.4 573.2 L1184.8 584.2 L1193.4 591.6 L1182.1 592.5Z" fill="#fff" stroke="#777" stroke-width="1.8" stroke-linejoin="miter"/>
<path d="M1252.0 605.2 L1247.6 594.7 L1236.3 593.8 L1244.9 586.4 L1242.3 575.4 L1252.0 581.3 L1261.7 575.4 L1259.1 586.4 L1267.7 593.8 L1256.4 594.7Z" fill="#7d7d7d" stroke="#666" stroke-width="1.2" stroke-linejoin="miter"/>
<path d="M429.1 1244.8 L439.0 1256.2 M454.5 1246.3 L454.5 1260.4 M422.7 1264.6 L436.9 1268.9 M466.6 1265.3 L480.0 1260.4 M418.5 1290.8 L433.3 1285.8 M434.0 1302.8 L443.2 1289.4" stroke="#8a8a8a" stroke-width="1.8" fill="none" stroke-linecap="round"/>
<path d="M463.7 1289.4 H522.4" stroke="#a8a8a8" stroke-width="1.8"/>
<path d="M463.7 1309.9 H522.4" stroke="#c8c8c8" stroke-width="1.8"/>
<path d="M463.7 1330.4 H522.4" stroke="#a0a0a0" stroke-width="1.8"/>
<path d="M463.7 1282.3 V1337.8 M482.8 1337.8 V1279.5 M502.6 1279.5 V1337.8 M522.4 1337.8 V1280.9" stroke="#3c3c3c" stroke-width="3.0" fill="none"/>
<path d="M463.7 1337.8 A9.55 9.55 0 0 0 482.8 1337.8 M482.8 1279.5 A9.90 9.90 0 0 1 502.6 1279.5 M502.6 1337.8 A9.90 9.90 0 0 0 522.4 1337.8" stroke="#7a7a7a" stroke-width="2.4" fill="none"/>
<path d="M454.5 1289.3 L450.4 1279.4 L439.8 1278.6 L447.9 1271.6 L445.4 1261.3 L454.5 1266.8 L463.6 1261.3 L461.1 1271.6 L469.2 1278.6 L458.6 1279.4Z" fill="#fff" stroke="#777" stroke-width="1.8" stroke-linejoin="miter"/>
<path d="M538.0 1379.9 H596.6" stroke="#b8b8b8" stroke-width="1.8"/>
<path d="M538.0 1399.7 H596.6" stroke="#b8b8b8" stroke-width="1.8"/>
<path d="M538.0 1418.7 H596.6" stroke="#c8c8c8" stroke-width="1.8"/>
<path d="M538.0 1370.7 V1427.6 M557.0 1427.6 V1368.6 M576.8 1368.6 V1427.6 M596.6 1427.6 V1377.0" stroke="#3c3c3c" stroke-width="3.0" fill="none"/>
<path d="M538.0 1427.6 A9.50 9.50 0 0 0 557.0 1427.6 M557.0 1368.6 A9.90 9.90 0 0 1 576.8 1368.6 M576.8 1427.6 A9.90 9.90 0 0 0 596.6 1427.6" stroke="#7a7a7a" stroke-width="2.4" fill="none"/>
<path d="M603.7 1384.8 L599.2 1374.0 L587.5 1373.1 L596.4 1365.4 L593.7 1354.0 L603.7 1360.1 L613.7 1354.0 L611.0 1365.4 L619.9 1373.1 L608.2 1374.0Z" fill="#555" stroke="#555" stroke-width="1.2" stroke-linejoin="miter"/>
<path d="M1127.3 1303.5 L1136.1 1319.9 M1106.6 1316.6 L1119.7 1322.7 M1106.6 1341.2 L1122.9 1337.9 M1117.5 1358.2 L1127.9 1346.1 M1132.2 1369.6 L1138.8 1354.3 M1217.4 1310.1 L1216.9 1325.4 M1239.8 1307.9 L1231.1 1322.1 M1250.8 1327.6 L1236.6 1331.4 M1254.0 1352.7 L1236.6 1346.1 M1237.1 1364.7 L1230.6 1352.2" stroke="#8a8a8a" stroke-width="1.8" fill="none" stroke-linecap="round"/>
<path d="M1161.7 1325.4 C1160.5 1323.4 1156.5 1318.3 1154.6 1313.4 C1152.7 1308.5 1150.8 1301.2 1150.3 1295.9 C1149.8 1290.6 1149.8 1286.1 1151.3 1281.7 C1152.8 1277.3 1155.7 1272.6 1159.0 1269.7 C1162.3 1266.8 1169.0 1265.1 1171.0 1264.2" stroke="#c4c4c4" stroke-width="2.4" fill="none" stroke-linecap="round" stroke-linejoin="round"/>
<path d="M1184.1 1271.9 L1184.7 1326.5" stroke="#cfcfcf" stroke-width="2.2"/>
<path d="M1187.9 1347.0 C1187.6 1345.2 1188.2 1338.6 1186.3 1336.3 C1184.4 1334.0 1179.0 1334.3 1176.5 1333.0 C1174.0 1331.7 1172.1 1331.2 1171.0 1328.7 C1169.9 1326.2 1170.6 1322.1 1169.9 1317.7 C1169.2 1313.3 1167.2 1306.8 1166.6 1302.4 C1166.0 1298.0 1165.5 1295.7 1166.1 1291.5 C1166.6 1287.3 1168.2 1281.7 1169.9 1277.3 C1171.6 1272.9 1174.3 1267.8 1176.5 1265.3 C1178.7 1262.8 1180.3 1262.2 1183.0 1262.0 C1185.7 1261.8 1189.8 1262.0 1192.9 1264.2 C1196.0 1266.4 1199.3 1270.5 1201.6 1275.1 C1203.9 1279.6 1205.8 1286.6 1206.5 1291.5 C1207.2 1296.4 1206.8 1300.6 1206.0 1304.6 C1205.2 1308.6 1203.9 1311.9 1201.6 1315.6 C1199.3 1319.2 1193.8 1324.7 1192.3 1326.5" stroke="#333" stroke-width="2.8" fill="none" stroke-linecap="round" stroke-linejoin="round"/>
<path d="M1147.5 1348.9 H1167.2" stroke="#d0d0d0" stroke-width="1.8"/>
<path d="M1147.5 1370.2 H1167.2" stroke="#c0c0c0" stroke-width="1.8"/>
<path d="M1147.5 1390.4 H1167.2" stroke="#8a8a8a" stroke-width="1.8"/>
<path d="M1147.5 1345.0 V1399.7 M1167.2 1399.7 V1344.0" stroke="#3c3c3c" stroke-width="3.0" fill="none"/>
<path d="M1147.5 1399.7 A9.85 9.85 0 0 0 1167.2 1399.7" stroke="#7a7a7a" stroke-width="2.4" fill="none"/>
<path d="M1188.0 1353.2 H1207.6" stroke="#d0d0d0" stroke-width="1.8"/>
<path d="M1188.0 1374.0 H1207.6" stroke="#9a9a9a" stroke-width="1.8"/>
<path d="M1188.0 1393.1 H1207.6" stroke="#c8c8c8" stroke-width="1.8"/>
<path d="M1188.0 1346.0 V1399.7 M1207.6 1399.7 V1344.0" stroke="#3c3c3c" stroke-width="3.0" fill="none"/>
<path d="M1188.0 1399.7 A9.80 9.80 0 0 0 1207.6 1399.7" stroke="#7a7a7a" stroke-width="2.4" fill="none"/>
<path d="M1141.5 1317.1 L1146.0 1327.9 L1157.7 1328.8 L1148.8 1336.5 L1151.5 1347.9 L1141.5 1341.8 L1131.5 1347.9 L1134.2 1336.5 L1125.3 1328.8 L1137.0 1327.9Z" fill="#fff" stroke="#777" stroke-width="1.8" stroke-linejoin="miter"/>
<path d="M1217.4 1357.7 L1212.9 1346.9 L1201.2 1346.0 L1210.1 1338.3 L1207.4 1326.9 L1217.4 1333.0 L1227.4 1326.9 L1224.7 1338.3 L1233.6 1346.0 L1221.9 1346.9Z" fill="#808080" stroke="#666" stroke-width="1.2" stroke-linejoin="miter"/>
<path d="M395.4 1953.9 L405.7 1966.1 M421.1 1953.9 L421.1 1969.3 M387.7 1973.8 L403.8 1980.2 M432.7 1977.0 L446.8 1969.9 M385.1 1999.5 L400.6 1995.6 M401.2 2011.1 L409.6 1998.2" stroke="#8a8a8a" stroke-width="1.8" fill="none" stroke-linecap="round"/>
<path d="M422.4 2000.0 C421.8 2002.0 419.5 2008.2 418.6 2011.7 C417.8 2015.2 416.9 2018.1 417.3 2020.7 C417.7 2023.3 421.1 2024.8 421.1 2027.1 C421.1 2029.4 418.2 2032.2 417.3 2034.8 C416.4 2037.4 414.9 2039.7 416.0 2042.5 C417.1 2045.3 420.5 2049.7 423.7 2051.5 C426.9 2053.3 431.2 2053.9 435.3 2053.5 C439.4 2053.1 444.5 2051.7 448.1 2049.0 C451.7 2046.3 455.2 2041.5 457.1 2037.4 C459.0 2033.3 459.9 2028.9 459.7 2024.6 C459.5 2020.3 457.3 2016.0 455.8 2011.7 C454.3 2007.4 452.0 2002.7 450.7 1998.8 C449.4 1994.9 447.9 1991.6 448.1 1988.6 C448.3 1985.6 449.9 1982.4 452.0 1980.8 C454.1 1979.2 458.2 1978.5 461.0 1978.9 C463.8 1979.3 467.2 1981.4 468.7 1983.4 C470.2 1985.4 469.8 1989.8 470.0 1991.1" stroke="#6a6a6a" stroke-width="1.8" fill="none" stroke-linecap="round" stroke-linejoin="round"/>
<path d="M470.0 1998.8 H489.3" stroke="#c8c8c8" stroke-width="1.8"/>
<path d="M470.0 2019.4 H489.3" stroke="#c8c8c8" stroke-width="1.8"/>
<path d="M470.0 2038.7 H489.3" stroke="#c8c8c8" stroke-width="1.8"/>
<path d="M470.0 1991.0 V2045.8 M489.3 2045.8 V1989.8" stroke="#3c3c3c" stroke-width="3.0" fill="none"/>
<path d="M470.0 2045.8 A9.65 9.65 0 0 0 489.3 2045.8" stroke="#7a7a7a" stroke-width="2.4" fill="none"/>
<path d="M421.1 2000.7 L416.9 1990.5 L405.9 1989.6 L414.3 1982.5 L411.7 1971.8 L421.1 1977.5 L430.5 1971.8 L427.9 1982.5 L436.3 1989.6 L425.3 1990.5Z" fill="#fff" stroke="#666" stroke-width="1.8" stroke-linejoin="miter"/>
<path d="M484.8 2087.5 C484.5 2089.2 484.4 2094.4 482.8 2097.8 C481.2 2101.2 476.8 2105.1 475.1 2108.1 C473.4 2111.1 472.4 2113.0 472.5 2115.8 C472.6 2118.6 476.0 2122.0 475.8 2124.8 C475.6 2127.6 471.9 2129.7 471.3 2132.5 C470.8 2135.3 470.6 2138.9 472.5 2141.5 C474.4 2144.1 478.9 2146.7 482.8 2147.9 C486.7 2149.1 491.8 2149.4 495.7 2148.6 C499.6 2147.8 503.0 2145.9 506.0 2142.8 C509.0 2139.7 512.4 2134.7 513.7 2130.0 C515.0 2125.3 514.8 2119.9 513.7 2114.5 C512.6 2109.1 508.9 2102.7 507.2 2097.8 C505.5 2092.9 503.4 2088.4 503.4 2085.0 C503.4 2081.6 505.1 2078.8 507.2 2077.2 C509.3 2075.6 513.6 2074.7 516.2 2075.3 C518.8 2076.0 521.3 2078.8 522.7 2081.1 C524.1 2083.3 524.3 2087.5 524.6 2088.8" stroke="#6a6a6a" stroke-width="1.8" fill="none" stroke-linecap="round" stroke-linejoin="round"/>
<path d="M524.6 2095.2 H543.9" stroke="#c8c8c8" stroke-width="1.8"/>
<path d="M524.6 2115.8 H543.9" stroke="#c8c8c8" stroke-width="1.8"/>
<path d="M524.6 2135.1 H543.9" stroke="#c8c8c8" stroke-width="1.8"/>
<path d="M524.6 2088.8 V2142.3 M543.9 2142.3 V2090.0" stroke="#3c3c3c" stroke-width="3.0" fill="none"/>
<path d="M524.6 2142.3 A9.65 9.65 0 0 0 543.9 2142.3" stroke="#7a7a7a" stroke-width="2.4" fill="none"/>
<path d="M556.7 2100.4 L552.3 2089.8 L540.8 2088.9 L549.6 2081.4 L546.9 2070.2 L556.7 2076.2 L566.5 2070.2 L563.8 2081.4 L572.6 2088.9 L561.1 2089.8Z" fill="#555" stroke="#555" stroke-width="1.2" stroke-linejoin="miter"/>
<path d="M1085.4 1960.4 L1095.7 1972.6 M1111.1 1960.4 L1111.1 1975.8 M1077.7 1980.3 L1093.8 1986.7 M1122.7 1983.5 L1136.8 1976.4 M1075.1 2006.0 L1090.6 2002.1 M1091.2 2017.6 L1099.6 2004.7" stroke="#8a8a8a" stroke-width="1.8" fill="none" stroke-linecap="round"/>
<path d="M1112.4 2006.5 C1111.8 2008.5 1109.4 2014.8 1108.6 2018.2 C1107.8 2021.7 1106.9 2024.6 1107.3 2027.2 C1107.7 2029.8 1111.1 2031.2 1111.1 2033.6 C1111.1 2035.9 1108.1 2038.7 1107.3 2041.3 C1106.5 2043.9 1104.9 2046.2 1106.0 2049.0 C1107.1 2051.8 1110.5 2056.2 1113.7 2058.0 C1116.9 2059.8 1121.2 2060.4 1125.3 2060.0 C1129.4 2059.6 1134.5 2058.2 1138.1 2055.5 C1141.7 2052.8 1145.2 2048.0 1147.1 2043.9 C1149.0 2039.8 1149.9 2035.4 1149.7 2031.1 C1149.5 2026.8 1147.3 2022.5 1145.8 2018.2 C1144.3 2013.9 1142.0 2009.2 1140.7 2005.3 C1139.4 2001.4 1137.9 1998.1 1138.1 1995.1 C1138.3 1992.1 1139.8 1988.9 1142.0 1987.3 C1144.2 1985.7 1148.2 1985.0 1151.0 1985.4 C1153.8 1985.8 1157.2 1987.9 1158.7 1989.9 C1160.2 1991.9 1159.8 1996.3 1160.0 1997.6" stroke="#6a6a6a" stroke-width="1.8" fill="none" stroke-linecap="round" stroke-linejoin="round"/>
<path d="M1160.0 2005.3 H1179.3" stroke="#c8c8c8" stroke-width="1.8"/>
<path d="M1160.0 2025.9 H1179.3" stroke="#c8c8c8" stroke-width="1.8"/>
<path d="M1160.0 2045.2 H1179.3" stroke="#c8c8c8" stroke-width="1.8"/>
<path d="M1160.0 1997.5 V2052.2 M1179.3 2052.2 V1996.3" stroke="#3c3c3c" stroke-width="3.0" fill="none"/>
<path d="M1160.0 2052.2 A9.65 9.65 0 0 0 1179.3 2052.2" stroke="#7a7a7a" stroke-width="2.4" fill="none"/>
<path d="M1111.1 2007.2 L1106.9 1997.0 L1095.9 1996.1 L1104.3 1989.0 L1101.7 1978.3 L1111.1 1984.0 L1120.5 1978.3 L1117.9 1989.0 L1126.3 1996.1 L1115.3 1997.0Z" fill="#fff" stroke="#666" stroke-width="1.8" stroke-linejoin="miter"/>
<path d="M1198.8 2087.5 C1198.5 2089.2 1198.4 2094.4 1196.8 2097.8 C1195.2 2101.2 1190.8 2105.1 1189.1 2108.1 C1187.4 2111.1 1186.4 2113.0 1186.5 2115.8 C1186.6 2118.6 1190.0 2122.0 1189.8 2124.8 C1189.6 2127.6 1185.8 2129.7 1185.3 2132.5 C1184.8 2135.3 1184.6 2138.9 1186.5 2141.5 C1188.4 2144.1 1192.9 2146.7 1196.8 2147.9 C1200.7 2149.1 1205.8 2149.4 1209.7 2148.6 C1213.6 2147.8 1217.0 2145.9 1220.0 2142.8 C1223.0 2139.7 1226.4 2134.7 1227.7 2130.0 C1229.0 2125.3 1228.8 2119.9 1227.7 2114.5 C1226.6 2109.1 1222.9 2102.7 1221.2 2097.8 C1219.5 2092.9 1217.4 2088.4 1217.4 2085.0 C1217.4 2081.6 1219.1 2078.8 1221.2 2077.2 C1223.3 2075.6 1227.6 2074.7 1230.2 2075.3 C1232.8 2076.0 1235.3 2078.8 1236.7 2081.1 C1238.1 2083.3 1238.3 2087.5 1238.6 2088.8" stroke="#6a6a6a" stroke-width="1.8" fill="none" stroke-linecap="round" stroke-linejoin="round"/>
<path d="M1238.6 2095.2 H1257.9" stroke="#c8c8c8" stroke-width="1.8"/>
<path d="M1238.6 2115.8 H1257.9" stroke="#c8c8c8" stroke-width="1.8"/>
<path d="M1238.6 2135.1 H1257.9" stroke="#c8c8c8" stroke-width="1.8"/>
<path d="M1238.6 2088.8 V2142.3 M1257.9 2142.3 V2090.0" stroke="#3c3c3c" stroke-width="3.0" fill="none"/>
<path d="M1238.6 2142.3 A9.65 9.65 0 0 0 1257.9 2142.3" stroke="#7a7a7a" stroke-width="2.4" fill="none"/>
<path d="M1270.7 2100.4 L1266.3 2089.8 L1254.8 2088.9 L1263.6 2081.4 L1260.9 2070.2 L1270.7 2076.2 L1280.5 2070.2 L1277.8 2081.4 L1286.6 2088.9 L1275.1 2089.8Z" fill="#555" stroke="#555" stroke-width="1.2" stroke-linejoin="miter"/>
<path d="M625.5 128.3 H679.5" stroke="#cfcfcf" stroke-width="5.4"/>
<text x="682.67" y="150.00" font-size="53.00" textLength="118.36" lengthAdjust="spacingAndGlyphs" fill="#000"><tspan>0 nM</tspan></text>
<path d="M625.5 201.3 H679.5" stroke="#aaaaaa" stroke-width="5.4"/>
<text x="682.14" y="223.40" font-size="53.00" textLength="177.55" lengthAdjust="spacingAndGlyphs" fill="#000"><tspan>200 nM</tspan></text>
<path d="M625.5 273.3 H679.5" stroke="#838383" stroke-width="5.4"/>
<text x="683.69" y="294.70" font-size="53.00" textLength="175.96" lengthAdjust="spacingAndGlyphs" fill="#000"><tspan>500 nM</tspan></text>
<path d="M625.5 344.6 H679.5" stroke="#0c0c0c" stroke-width="5.4"/>
<text x="684.77" y="367.00" font-size="53.00" textLength="203.91" lengthAdjust="spacingAndGlyphs" fill="#000"><tspan>1000 nM</tspan></text>
<text x="27.82" y="96.00" font-size="97.00" textLength="90.24" lengthAdjust="spacingAndGlyphs" fill="#000"><tspan>A.</tspan></text>
<text x="26.25" y="951.00" font-size="97.00" textLength="91.54" lengthAdjust="spacingAndGlyphs" fill="#000"><tspan>B.</tspan></text>
<text x="26.73" y="1689.00" font-size="97.00" textLength="95.44" lengthAdjust="spacingAndGlyphs" fill="#000"><tspan>C.</tspan></text>
<text x="568.31" y="76.40" font-size="66.00" textLength="108.56" lengthAdjust="spacingAndGlyphs" fill="#000"><tspan>KCl</tspan></text>
<text x="1208.33" y="76.40" font-size="66.00" textLength="115.72" lengthAdjust="spacingAndGlyphs" fill="#000"><tspan>LiCl</tspan></text>
<text transform="translate(220.60 762.99) rotate(-90)" x="0" y="0" font-size="54.50" textLength="589.91" lengthAdjust="spacingAndGlyphs" fill="#000"><tspan>Normalized fluorescence</tspan></text>
<text transform="translate(220.60 1504.28) rotate(-90)" x="0" y="0" font-size="54.50" textLength="589.41" lengthAdjust="spacingAndGlyphs" fill="#000"><tspan>Normalized fluorescence</tspan></text>
<text transform="translate(220.60 2226.39) rotate(-90)" x="0" y="0" font-size="54.50" textLength="590.62" lengthAdjust="spacingAndGlyphs" fill="#000"><tspan>Normalized fluorescence</tspan></text>
<text x="375.83" y="2356.50" font-size="54.00" textLength="403.06" lengthAdjust="spacingAndGlyphs" fill="#000"><tspan>Wavelength (nm)</tspan></text>
<text x="1056.93" y="2356.50" font-size="54.00" textLength="402.96" lengthAdjust="spacingAndGlyphs" fill="#000"><tspan>Wavelength (nm)</tspan></text>
<text transform="translate(1508.50 574.59) rotate(-90)" x="0" y="0" font-size="53.50" textLength="384.45" lengthAdjust="spacingAndGlyphs" fill="#000"><tspan font-style="italic">hex4</tspan><tspan>_A5U 5F3T</tspan></text>
<text transform="translate(1508.50 1411.79) rotate(-90)" x="0" y="0" font-size="53.50" textLength="582.20" lengthAdjust="spacingAndGlyphs" fill="#000"><tspan font-style="italic">hex4</tspan><tspan>_A5U 5F/3T 1:1 mix</tspan></text>
<text transform="translate(1511.30 2108.97) rotate(-90)" x="0" y="0" font-size="54.50" textLength="496.20" lengthAdjust="spacingAndGlyphs" fill="#000"><tspan>A5U</tspan><tspan font-size="29.98" baseline-shift="19.07">R20</tspan><tspan> 5F/3T 1:1 mix</tspan></text>
</svg></body></html>
